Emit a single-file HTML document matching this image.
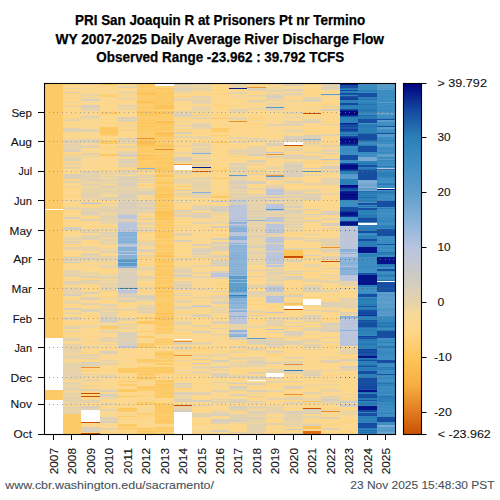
<!DOCTYPE html><html><head><meta charset="utf-8"><style>html,body{margin:0;padding:0;background:#fff;width:500px;height:500px;overflow:hidden}svg{display:block}text{font-family:"Liberation Sans",sans-serif}</style></head><body>
<svg width="500" height="500" viewBox="0 0 500 500">
<rect width="500" height="500" fill="#fff"/>
<g font-weight="bold" font-size="14.6" text-anchor="middle" fill="#000" stroke="#000" stroke-width="0.25">
<text x="220.1" y="24.5" textLength="290" lengthAdjust="spacingAndGlyphs">PRI San Joaquin R at Prisoners Pt nr Termino</text>
<text x="219.8" y="43.7" textLength="328.5" lengthAdjust="spacingAndGlyphs">WY 2007-2025 Daily Average River Discharge Flow</text>
<text x="220.3" y="62.4" textLength="248" lengthAdjust="spacingAndGlyphs">Observed Range -23.962 : 39.792 TCFS</text>
</g>
<g shape-rendering="crispEdges">
<path fill="#fdca68" d="M44.5 83h18.5v126h-18.5zM44.5 210h18.5v128h-18.5zM44.5 390h18.5v10h-18.5zM63.0 414h18.4v20h-18.4zM99.8 130h18.5v1h-18.5zM99.8 133h18.5v2h-18.5zM99.8 143h18.5v1h-18.5zM99.8 326h18.5v3h-18.5zM118.3 368h18.5v1h-18.5zM118.3 370h18.5v1h-18.5zM118.3 381h18.5v1h-18.5zM118.3 385h18.5v1h-18.5zM118.3 391h18.5v1h-18.5zM118.3 416h18.5v1h-18.5zM118.3 424h18.5v1h-18.5zM136.8 86h18.4v1h-18.4zM136.8 91h18.4v1h-18.4zM136.8 95h18.4v1h-18.4zM136.8 97h18.4v1h-18.4zM136.8 100h18.4v1h-18.4zM136.8 103h18.4v1h-18.4zM136.8 107h18.4v1h-18.4zM136.8 119h18.4v1h-18.4zM136.8 124h18.4v2h-18.4zM136.8 134h18.4v1h-18.4zM136.8 136h18.4v1h-18.4zM136.8 140h18.4v1h-18.4zM136.8 146h18.4v1h-18.4zM136.8 149h18.4v1h-18.4zM136.8 151h18.4v2h-18.4zM136.8 154h18.4v1h-18.4zM136.8 156h18.4v1h-18.4zM136.8 163h18.4v1h-18.4zM136.8 167h18.4v1h-18.4zM136.8 322h18.4v1h-18.4zM136.8 337h18.4v1h-18.4zM136.8 345h18.4v1h-18.4zM136.8 359h18.4v1h-18.4zM136.8 367h18.4v1h-18.4zM136.8 370h18.4v1h-18.4zM136.8 374h18.4v1h-18.4zM136.8 379h18.4v1h-18.4zM136.8 388h18.4v1h-18.4zM136.8 390h18.4v1h-18.4zM136.8 402h18.4v3h-18.4zM136.8 413h18.4v1h-18.4zM155.2 86h18.5v1h-18.5zM155.2 89h18.5v1h-18.5zM155.2 91h18.5v2h-18.5zM155.2 95h18.5v1h-18.5zM155.2 98h18.5v1h-18.5zM155.2 100h18.5v1h-18.5zM155.2 102h18.5v1h-18.5zM155.2 127h18.5v1h-18.5zM155.2 150h18.5v1h-18.5zM155.2 152h18.5v1h-18.5zM155.2 157h18.5v1h-18.5zM155.2 159h18.5v1h-18.5zM155.2 161h18.5v1h-18.5zM155.2 163h18.5v2h-18.5zM155.2 171h18.5v1h-18.5zM155.2 179h18.5v1h-18.5zM155.2 187h18.5v1h-18.5zM155.2 190h18.5v1h-18.5zM155.2 192h18.5v1h-18.5zM155.2 199h18.5v1h-18.5zM155.2 202h18.5v1h-18.5zM155.2 209h18.5v2h-18.5zM155.2 222h18.5v1h-18.5zM155.2 224h18.5v1h-18.5zM155.2 227h18.5v1h-18.5zM155.2 232h18.5v2h-18.5zM155.2 235h18.5v1h-18.5zM155.2 240h18.5v1h-18.5zM155.2 245h18.5v1h-18.5zM155.2 247h18.5v1h-18.5zM155.2 249h18.5v1h-18.5zM155.2 252h18.5v1h-18.5zM155.2 254h18.5v1h-18.5zM155.2 259h18.5v2h-18.5zM155.2 269h18.5v1h-18.5zM155.2 273h18.5v1h-18.5zM155.2 280h18.5v3h-18.5zM155.2 290h18.5v1h-18.5zM155.2 294h18.5v1h-18.5zM155.2 296h18.5v3h-18.5zM155.2 301h18.5v1h-18.5zM155.2 303h18.5v1h-18.5zM155.2 306h18.5v1h-18.5zM155.2 311h18.5v1h-18.5zM155.2 315h18.5v1h-18.5zM155.2 320h18.5v1h-18.5zM155.2 322h18.5v1h-18.5zM155.2 324h18.5v1h-18.5zM155.2 328h18.5v2h-18.5zM155.2 339h18.5v1h-18.5zM155.2 341h18.5v2h-18.5zM155.2 352h18.5v1h-18.5zM155.2 363h18.5v1h-18.5zM155.2 368h18.5v3h-18.5zM155.2 372h18.5v1h-18.5zM155.2 382h18.5v1h-18.5zM155.2 393h18.5v2h-18.5zM155.2 404h18.5v2h-18.5zM155.2 409h18.5v2h-18.5zM155.2 412h18.5v2h-18.5zM155.2 416h18.5v3h-18.5zM155.2 420h18.5v1h-18.5zM155.2 422h18.5v1h-18.5zM155.2 427h18.5v1h-18.5zM155.2 431h18.5v1h-18.5zM210.5 128h18.5v2h-18.5zM210.5 178h18.5v1h-18.5zM210.5 197h18.5v1h-18.5z"/>
<path fill="#ffffff" d="M44.5 209h18.5v1h-18.5zM44.5 338h18.5v52h-18.5zM44.5 400h18.5v34h-18.5zM81.4 410h18.4v12h-18.4zM155.2 84h18.5v2h-18.5zM173.7 165h18.4v5h-18.4zM173.7 339h18.4v1h-18.4zM173.7 412h18.4v22h-18.4zM247.4 380h18.5v1h-18.5zM265.9 373h18.5v4h-18.5zM284.4 142h18.4v3h-18.4zM284.4 306h18.4v3h-18.4zM302.8 299h18.4v6h-18.4zM358.1 223h18.5v2h-18.5zM376.6 188h18.5v1h-18.5zM376.6 281h18.5v1h-18.5z"/>
<path fill="#fcd78c" d="M63.0 83h18.4v1h-18.4zM63.0 86h18.4v1h-18.4zM63.0 97h18.4v1h-18.4zM63.0 100h18.4v1h-18.4zM63.0 103h18.4v1h-18.4zM63.0 115h18.4v2h-18.4zM63.0 126h18.4v1h-18.4zM63.0 132h18.4v1h-18.4zM63.0 134h18.4v1h-18.4zM63.0 138h18.4v1h-18.4zM63.0 152h18.4v1h-18.4zM63.0 173h18.4v1h-18.4zM63.0 179h18.4v1h-18.4zM63.0 189h18.4v1h-18.4zM63.0 191h18.4v1h-18.4zM63.0 193h18.4v1h-18.4zM63.0 197h18.4v1h-18.4zM63.0 199h18.4v1h-18.4zM63.0 201h18.4v1h-18.4zM63.0 212h18.4v1h-18.4zM63.0 230h18.4v1h-18.4zM63.0 245h18.4v1h-18.4zM63.0 250h18.4v2h-18.4zM63.0 264h18.4v1h-18.4zM63.0 267h18.4v1h-18.4zM63.0 285h18.4v1h-18.4zM63.0 305h18.4v1h-18.4zM63.0 315h18.4v1h-18.4zM63.0 325h18.4v1h-18.4zM63.0 329h18.4v2h-18.4zM63.0 332h18.4v1h-18.4zM81.4 113h18.4v1h-18.4zM81.4 125h18.4v2h-18.4zM81.4 143h18.4v1h-18.4zM81.4 150h18.4v1h-18.4zM81.4 165h18.4v1h-18.4zM81.4 170h18.4v1h-18.4zM81.4 216h18.4v1h-18.4zM81.4 221h18.4v1h-18.4zM81.4 223h18.4v1h-18.4zM81.4 225h18.4v1h-18.4zM81.4 227h18.4v2h-18.4zM81.4 242h18.4v1h-18.4zM81.4 263h18.4v1h-18.4zM81.4 269h18.4v1h-18.4zM81.4 278h18.4v1h-18.4zM81.4 285h18.4v1h-18.4zM81.4 287h18.4v1h-18.4zM81.4 294h18.4v1h-18.4zM81.4 305h18.4v1h-18.4zM81.4 307h18.4v1h-18.4zM81.4 317h18.4v3h-18.4zM81.4 324h18.4v1h-18.4zM81.4 328h18.4v1h-18.4zM81.4 332h18.4v1h-18.4zM81.4 340h18.4v1h-18.4zM81.4 342h18.4v1h-18.4zM81.4 345h18.4v1h-18.4zM81.4 349h18.4v4h-18.4zM81.4 361h18.4v1h-18.4zM81.4 368h18.4v1h-18.4zM81.4 377h18.4v1h-18.4zM81.4 384h18.4v1h-18.4zM81.4 394h18.4v1h-18.4zM81.4 397h18.4v1h-18.4zM81.4 403h18.4v3h-18.4zM81.4 424h18.4v3h-18.4zM81.4 432h18.4v1h-18.4zM99.8 87h18.5v2h-18.5zM99.8 99h18.5v1h-18.5zM99.8 103h18.5v1h-18.5zM99.8 118h18.5v1h-18.5zM99.8 126h18.5v1h-18.5zM99.8 136h18.5v2h-18.5zM99.8 150h18.5v1h-18.5zM99.8 156h18.5v1h-18.5zM99.8 159h18.5v2h-18.5zM99.8 167h18.5v1h-18.5zM99.8 169h18.5v1h-18.5zM99.8 227h18.5v1h-18.5zM99.8 231h18.5v1h-18.5zM99.8 246h18.5v2h-18.5zM99.8 254h18.5v2h-18.5zM99.8 271h18.5v1h-18.5zM99.8 295h18.5v1h-18.5zM99.8 297h18.5v1h-18.5zM99.8 299h18.5v1h-18.5zM99.8 301h18.5v1h-18.5zM99.8 329h18.5v1h-18.5zM99.8 347h18.5v2h-18.5zM99.8 365h18.5v1h-18.5zM99.8 368h18.5v1h-18.5zM99.8 372h18.5v1h-18.5zM99.8 379h18.5v1h-18.5zM99.8 400h18.5v1h-18.5zM99.8 407h18.5v1h-18.5zM99.8 426h18.5v1h-18.5zM99.8 432h18.5v1h-18.5zM118.3 88h18.5v1h-18.5zM118.3 95h18.5v1h-18.5zM118.3 97h18.5v1h-18.5zM118.3 101h18.5v1h-18.5zM118.3 103h18.5v2h-18.5zM118.3 114h18.5v1h-18.5zM118.3 116h18.5v1h-18.5zM118.3 144h18.5v1h-18.5zM118.3 158h18.5v1h-18.5zM118.3 304h18.5v1h-18.5zM118.3 312h18.5v1h-18.5zM118.3 322h18.5v1h-18.5zM118.3 350h18.5v4h-18.5zM118.3 355h18.5v1h-18.5zM118.3 357h18.5v2h-18.5zM118.3 363h18.5v1h-18.5zM118.3 375h18.5v2h-18.5zM118.3 378h18.5v1h-18.5zM118.3 380h18.5v1h-18.5zM118.3 393h18.5v3h-18.5zM118.3 401h18.5v1h-18.5zM118.3 403h18.5v1h-18.5zM118.3 421h18.5v1h-18.5zM118.3 430h18.5v1h-18.5zM118.3 432h18.5v1h-18.5zM136.8 172h18.4v1h-18.4zM136.8 186h18.4v1h-18.4zM136.8 205h18.4v1h-18.4zM136.8 235h18.4v1h-18.4zM136.8 238h18.4v1h-18.4zM136.8 247h18.4v1h-18.4zM136.8 273h18.4v1h-18.4zM136.8 283h18.4v1h-18.4zM136.8 286h18.4v1h-18.4zM136.8 302h18.4v2h-18.4zM136.8 315h18.4v2h-18.4zM136.8 319h18.4v1h-18.4zM136.8 324h18.4v1h-18.4zM136.8 326h18.4v1h-18.4zM136.8 332h18.4v3h-18.4zM136.8 351h18.4v4h-18.4zM136.8 364h18.4v1h-18.4zM136.8 393h18.4v1h-18.4zM136.8 418h18.4v3h-18.4zM155.2 336h18.5v1h-18.5zM155.2 362h18.5v1h-18.5zM155.2 365h18.5v1h-18.5zM155.2 379h18.5v1h-18.5zM155.2 399h18.5v1h-18.5zM155.2 401h18.5v1h-18.5zM173.7 93h18.4v1h-18.4zM173.7 95h18.4v1h-18.4zM173.7 101h18.4v1h-18.4zM173.7 104h18.4v1h-18.4zM173.7 106h18.4v1h-18.4zM173.7 117h18.4v1h-18.4zM173.7 130h18.4v1h-18.4zM173.7 134h18.4v1h-18.4zM173.7 138h18.4v1h-18.4zM173.7 142h18.4v1h-18.4zM173.7 148h18.4v1h-18.4zM173.7 170h18.4v1h-18.4zM173.7 176h18.4v1h-18.4zM173.7 184h18.4v1h-18.4zM173.7 187h18.4v1h-18.4zM173.7 218h18.4v1h-18.4zM173.7 221h18.4v1h-18.4zM173.7 230h18.4v1h-18.4zM173.7 248h18.4v2h-18.4zM173.7 265h18.4v1h-18.4zM173.7 280h18.4v1h-18.4zM173.7 291h18.4v1h-18.4zM173.7 294h18.4v1h-18.4zM173.7 313h18.4v1h-18.4zM173.7 317h18.4v1h-18.4zM173.7 327h18.4v1h-18.4zM173.7 332h18.4v1h-18.4zM173.7 335h18.4v1h-18.4zM173.7 357h18.4v3h-18.4zM173.7 362h18.4v1h-18.4zM173.7 367h18.4v1h-18.4zM173.7 371h18.4v1h-18.4zM173.7 380h18.4v1h-18.4zM192.1 83h18.4v1h-18.4zM192.1 91h18.4v1h-18.4zM192.1 113h18.4v1h-18.4zM192.1 116h18.4v1h-18.4zM192.1 119h18.4v2h-18.4zM192.1 135h18.4v1h-18.4zM192.1 170h18.4v1h-18.4zM192.1 174h18.4v1h-18.4zM192.1 176h18.4v1h-18.4zM192.1 229h18.4v1h-18.4zM192.1 233h18.4v1h-18.4zM192.1 235h18.4v2h-18.4zM192.1 243h18.4v1h-18.4zM192.1 259h18.4v1h-18.4zM192.1 261h18.4v1h-18.4zM192.1 271h18.4v1h-18.4zM192.1 274h18.4v1h-18.4zM192.1 296h18.4v1h-18.4zM192.1 317h18.4v2h-18.4zM192.1 320h18.4v2h-18.4zM192.1 330h18.4v1h-18.4zM192.1 335h18.4v1h-18.4zM192.1 337h18.4v1h-18.4zM192.1 340h18.4v1h-18.4zM192.1 347h18.4v1h-18.4zM192.1 362h18.4v1h-18.4zM192.1 369h18.4v1h-18.4zM192.1 374h18.4v1h-18.4zM192.1 381h18.4v1h-18.4zM192.1 384h18.4v1h-18.4zM192.1 387h18.4v3h-18.4zM192.1 397h18.4v1h-18.4zM192.1 402h18.4v1h-18.4zM192.1 409h18.4v1h-18.4zM192.1 411h18.4v1h-18.4zM192.1 419h18.4v1h-18.4zM192.1 430h18.4v1h-18.4zM210.5 86h18.5v1h-18.5zM210.5 92h18.5v1h-18.5zM210.5 99h18.5v1h-18.5zM210.5 101h18.5v1h-18.5zM210.5 104h18.5v1h-18.5zM210.5 109h18.5v2h-18.5zM210.5 113h18.5v1h-18.5zM210.5 119h18.5v2h-18.5zM210.5 122h18.5v1h-18.5zM210.5 125h18.5v1h-18.5zM210.5 132h18.5v1h-18.5zM210.5 137h18.5v1h-18.5zM210.5 139h18.5v3h-18.5zM210.5 155h18.5v1h-18.5zM210.5 157h18.5v2h-18.5zM210.5 162h18.5v1h-18.5zM210.5 165h18.5v1h-18.5zM210.5 181h18.5v1h-18.5zM210.5 183h18.5v1h-18.5zM210.5 190h18.5v1h-18.5zM210.5 220h18.5v1h-18.5zM210.5 225h18.5v1h-18.5zM210.5 231h18.5v1h-18.5zM210.5 240h18.5v1h-18.5zM210.5 254h18.5v1h-18.5zM210.5 258h18.5v1h-18.5zM210.5 285h18.5v2h-18.5zM210.5 292h18.5v2h-18.5zM210.5 339h18.5v1h-18.5zM210.5 342h18.5v1h-18.5zM210.5 378h18.5v1h-18.5zM210.5 383h18.5v1h-18.5zM210.5 416h18.5v1h-18.5zM229.0 90h18.4v1h-18.4zM229.0 98h18.4v1h-18.4zM229.0 101h18.4v2h-18.4zM229.0 120h18.4v1h-18.4zM229.0 127h18.4v1h-18.4zM229.0 130h18.4v1h-18.4zM229.0 135h18.4v2h-18.4zM229.0 139h18.4v1h-18.4zM229.0 148h18.4v1h-18.4zM229.0 158h18.4v1h-18.4zM229.0 160h18.4v1h-18.4zM229.0 162h18.4v1h-18.4zM229.0 341h18.4v2h-18.4zM229.0 344h18.4v2h-18.4zM229.0 367h18.4v3h-18.4zM229.0 392h18.4v2h-18.4zM229.0 396h18.4v2h-18.4zM229.0 404h18.4v1h-18.4zM229.0 412h18.4v1h-18.4zM229.0 422h18.4v1h-18.4zM229.0 427h18.4v1h-18.4zM229.0 433h18.4v1h-18.4zM247.4 93h18.5v1h-18.5zM247.4 99h18.5v1h-18.5zM247.4 103h18.5v1h-18.5zM247.4 115h18.5v2h-18.5zM247.4 122h18.5v1h-18.5zM247.4 125h18.5v1h-18.5zM247.4 128h18.5v2h-18.5zM247.4 131h18.5v2h-18.5zM247.4 136h18.5v1h-18.5zM247.4 143h18.5v1h-18.5zM247.4 156h18.5v4h-18.5zM247.4 172h18.5v1h-18.5zM247.4 177h18.5v1h-18.5zM247.4 187h18.5v1h-18.5zM247.4 191h18.5v1h-18.5zM247.4 266h18.5v2h-18.5zM247.4 269h18.5v1h-18.5zM247.4 279h18.5v1h-18.5zM247.4 297h18.5v3h-18.5zM247.4 301h18.5v1h-18.5zM247.4 307h18.5v2h-18.5zM247.4 318h18.5v2h-18.5zM247.4 324h18.5v1h-18.5zM247.4 328h18.5v1h-18.5zM247.4 331h18.5v1h-18.5zM247.4 346h18.5v2h-18.5zM247.4 352h18.5v1h-18.5zM247.4 374h18.5v1h-18.5zM247.4 385h18.5v1h-18.5zM247.4 388h18.5v1h-18.5zM247.4 400h18.5v1h-18.5zM247.4 405h18.5v1h-18.5zM265.9 113h18.5v1h-18.5zM265.9 128h18.5v1h-18.5zM265.9 134h18.5v1h-18.5zM265.9 147h18.5v1h-18.5zM265.9 151h18.5v1h-18.5zM265.9 159h18.5v1h-18.5zM265.9 181h18.5v1h-18.5zM265.9 308h18.5v1h-18.5zM265.9 335h18.5v1h-18.5zM265.9 347h18.5v1h-18.5zM265.9 349h18.5v1h-18.5zM265.9 353h18.5v1h-18.5zM265.9 355h18.5v1h-18.5zM265.9 366h18.5v2h-18.5zM265.9 379h18.5v1h-18.5zM265.9 403h18.5v2h-18.5zM265.9 414h18.5v1h-18.5zM265.9 425h18.5v3h-18.5zM265.9 432h18.5v1h-18.5zM284.4 106h18.4v1h-18.4zM284.4 128h18.4v1h-18.4zM284.4 134h18.4v1h-18.4zM284.4 152h18.4v1h-18.4zM284.4 159h18.4v1h-18.4zM284.4 185h18.4v3h-18.4zM284.4 232h18.4v1h-18.4zM284.4 234h18.4v3h-18.4zM284.4 243h18.4v1h-18.4zM284.4 258h18.4v1h-18.4zM284.4 262h18.4v1h-18.4zM284.4 266h18.4v1h-18.4zM284.4 280h18.4v1h-18.4zM284.4 282h18.4v2h-18.4zM284.4 286h18.4v1h-18.4zM284.4 288h18.4v1h-18.4zM284.4 298h18.4v1h-18.4zM284.4 310h18.4v1h-18.4zM284.4 313h18.4v2h-18.4zM284.4 329h18.4v1h-18.4zM284.4 339h18.4v1h-18.4zM284.4 346h18.4v1h-18.4zM284.4 348h18.4v1h-18.4zM284.4 351h18.4v1h-18.4zM284.4 355h18.4v1h-18.4zM284.4 359h18.4v1h-18.4zM284.4 367h18.4v1h-18.4zM284.4 369h18.4v1h-18.4zM284.4 378h18.4v1h-18.4zM284.4 404h18.4v1h-18.4zM284.4 427h18.4v1h-18.4zM284.4 430h18.4v1h-18.4zM302.8 86h18.4v1h-18.4zM302.8 90h18.4v2h-18.4zM302.8 103h18.4v1h-18.4zM302.8 106h18.4v1h-18.4zM302.8 109h18.4v1h-18.4zM302.8 112h18.4v1h-18.4zM302.8 116h18.4v1h-18.4zM302.8 123h18.4v1h-18.4zM302.8 126h18.4v2h-18.4zM302.8 129h18.4v1h-18.4zM302.8 154h18.4v1h-18.4zM302.8 165h18.4v1h-18.4zM302.8 176h18.4v2h-18.4zM302.8 181h18.4v1h-18.4zM302.8 186h18.4v1h-18.4zM302.8 201h18.4v1h-18.4zM302.8 205h18.4v3h-18.4zM302.8 224h18.4v1h-18.4zM302.8 226h18.4v1h-18.4zM302.8 233h18.4v1h-18.4zM302.8 245h18.4v1h-18.4zM302.8 247h18.4v1h-18.4zM302.8 250h18.4v1h-18.4zM302.8 257h18.4v1h-18.4zM302.8 270h18.4v1h-18.4zM302.8 278h18.4v1h-18.4zM302.8 294h18.4v2h-18.4zM302.8 306h18.4v1h-18.4zM302.8 325h18.4v1h-18.4zM302.8 331h18.4v2h-18.4zM302.8 334h18.4v4h-18.4zM302.8 354h18.4v1h-18.4zM302.8 359h18.4v1h-18.4zM302.8 390h18.4v2h-18.4zM302.8 395h18.4v2h-18.4zM302.8 405h18.4v1h-18.4zM302.8 407h18.4v1h-18.4zM302.8 414h18.4v1h-18.4zM321.2 93h18.5v1h-18.5zM321.2 101h18.5v2h-18.5zM321.2 111h18.5v4h-18.5zM321.2 117h18.5v2h-18.5zM321.2 120h18.5v1h-18.5zM321.2 126h18.5v1h-18.5zM321.2 129h18.5v2h-18.5zM321.2 132h18.5v1h-18.5zM321.2 136h18.5v1h-18.5zM321.2 155h18.5v1h-18.5zM321.2 161h18.5v1h-18.5zM321.2 163h18.5v2h-18.5zM321.2 174h18.5v2h-18.5zM321.2 191h18.5v1h-18.5zM321.2 196h18.5v1h-18.5zM321.2 205h18.5v1h-18.5zM321.2 207h18.5v1h-18.5zM321.2 210h18.5v1h-18.5zM321.2 217h18.5v1h-18.5zM321.2 230h18.5v1h-18.5zM321.2 232h18.5v1h-18.5zM321.2 234h18.5v1h-18.5zM321.2 246h18.5v1h-18.5zM321.2 266h18.5v1h-18.5zM321.2 270h18.5v1h-18.5zM321.2 283h18.5v1h-18.5zM321.2 289h18.5v1h-18.5zM321.2 298h18.5v1h-18.5zM321.2 312h18.5v1h-18.5zM321.2 332h18.5v1h-18.5zM321.2 343h18.5v1h-18.5zM321.2 349h18.5v2h-18.5zM321.2 352h18.5v1h-18.5zM321.2 356h18.5v1h-18.5zM321.2 363h18.5v3h-18.5zM321.2 367h18.5v2h-18.5zM321.2 374h18.5v1h-18.5zM321.2 383h18.5v1h-18.5zM321.2 387h18.5v1h-18.5zM321.2 392h18.5v2h-18.5zM321.2 406h18.5v1h-18.5zM321.2 416h18.5v1h-18.5zM321.2 421h18.5v2h-18.5zM321.2 424h18.5v1h-18.5zM321.2 430h18.5v1h-18.5zM321.2 433h18.5v1h-18.5zM339.7 287h18.4v1h-18.4zM339.7 293h18.4v2h-18.4zM339.7 311h18.4v1h-18.4zM339.7 356h18.4v1h-18.4zM339.7 376h18.4v2h-18.4zM339.7 380h18.4v1h-18.4zM339.7 386h18.4v1h-18.4zM339.7 389h18.4v1h-18.4zM339.7 395h18.4v2h-18.4zM339.7 408h18.4v1h-18.4zM339.7 419h18.4v1h-18.4zM339.7 421h18.4v1h-18.4zM339.7 426h18.4v3h-18.4zM339.7 432h18.4v1h-18.4z"/>
<path fill="#fdd27c" d="M63.0 84h18.4v1h-18.4zM99.8 226h18.5v1h-18.5zM136.8 395h18.4v1h-18.4zM155.2 177h18.5v2h-18.5zM155.2 180h18.5v1h-18.5zM155.2 347h18.5v1h-18.5zM155.2 359h18.5v1h-18.5zM173.7 96h18.4v1h-18.4zM173.7 131h18.4v1h-18.4zM173.7 186h18.4v1h-18.4zM173.7 222h18.4v1h-18.4zM192.1 114h18.4v1h-18.4zM192.1 161h18.4v1h-18.4zM192.1 348h18.4v1h-18.4zM247.4 169h18.5v1h-18.5zM247.4 173h18.5v1h-18.5zM247.4 313h18.5v1h-18.5zM284.4 294h18.4v1h-18.4zM302.8 161h18.4v1h-18.4zM302.8 404h18.4v1h-18.4zM321.2 160h18.5v1h-18.5zM321.2 425h18.5v1h-18.5zM339.7 422h18.4v1h-18.4z"/>
<path fill="#fbd78f" d="M63.0 85h18.4v1h-18.4zM63.0 95h18.4v1h-18.4zM63.0 113h18.4v1h-18.4zM63.0 121h18.4v1h-18.4zM63.0 127h18.4v1h-18.4zM63.0 136h18.4v1h-18.4zM63.0 161h18.4v1h-18.4zM63.0 172h18.4v1h-18.4zM63.0 190h18.4v1h-18.4zM63.0 198h18.4v1h-18.4zM63.0 204h18.4v1h-18.4zM63.0 210h18.4v1h-18.4zM63.0 215h18.4v2h-18.4zM63.0 219h18.4v2h-18.4zM63.0 222h18.4v1h-18.4zM63.0 224h18.4v1h-18.4zM63.0 226h18.4v1h-18.4zM63.0 231h18.4v1h-18.4zM63.0 234h18.4v1h-18.4zM63.0 268h18.4v1h-18.4zM63.0 278h18.4v2h-18.4zM63.0 310h18.4v1h-18.4zM63.0 316h18.4v1h-18.4zM63.0 320h18.4v1h-18.4zM63.0 335h18.4v1h-18.4zM63.0 337h18.4v1h-18.4zM63.0 342h18.4v1h-18.4zM63.0 359h18.4v1h-18.4zM81.4 85h18.4v1h-18.4zM81.4 89h18.4v1h-18.4zM81.4 102h18.4v2h-18.4zM81.4 115h18.4v1h-18.4zM81.4 134h18.4v1h-18.4zM81.4 152h18.4v1h-18.4zM81.4 162h18.4v1h-18.4zM81.4 167h18.4v1h-18.4zM81.4 169h18.4v1h-18.4zM81.4 200h18.4v1h-18.4zM81.4 207h18.4v1h-18.4zM81.4 222h18.4v1h-18.4zM81.4 243h18.4v1h-18.4zM81.4 264h18.4v1h-18.4zM81.4 271h18.4v1h-18.4zM81.4 284h18.4v1h-18.4zM81.4 290h18.4v2h-18.4zM81.4 295h18.4v1h-18.4zM81.4 300h18.4v2h-18.4zM81.4 314h18.4v1h-18.4zM81.4 321h18.4v1h-18.4zM81.4 323h18.4v1h-18.4zM81.4 329h18.4v1h-18.4zM81.4 333h18.4v1h-18.4zM81.4 337h18.4v1h-18.4zM81.4 359h18.4v1h-18.4zM81.4 372h18.4v1h-18.4zM81.4 387h18.4v1h-18.4zM81.4 423h18.4v1h-18.4zM99.8 86h18.5v1h-18.5zM99.8 93h18.5v1h-18.5zM99.8 98h18.5v1h-18.5zM99.8 100h18.5v1h-18.5zM99.8 107h18.5v1h-18.5zM99.8 109h18.5v1h-18.5zM99.8 116h18.5v1h-18.5zM99.8 121h18.5v1h-18.5zM99.8 151h18.5v1h-18.5zM99.8 158h18.5v1h-18.5zM99.8 184h18.5v1h-18.5zM99.8 200h18.5v3h-18.5zM99.8 204h18.5v1h-18.5zM99.8 294h18.5v1h-18.5zM99.8 335h18.5v1h-18.5zM99.8 342h18.5v2h-18.5zM99.8 346h18.5v1h-18.5zM99.8 349h18.5v1h-18.5zM99.8 356h18.5v1h-18.5zM99.8 366h18.5v1h-18.5zM99.8 370h18.5v2h-18.5zM99.8 385h18.5v2h-18.5zM99.8 389h18.5v1h-18.5zM99.8 392h18.5v1h-18.5zM99.8 401h18.5v1h-18.5zM99.8 406h18.5v1h-18.5zM99.8 413h18.5v1h-18.5zM99.8 423h18.5v3h-18.5zM99.8 427h18.5v1h-18.5zM99.8 430h18.5v1h-18.5zM99.8 433h18.5v1h-18.5zM118.3 85h18.5v1h-18.5zM118.3 102h18.5v1h-18.5zM118.3 111h18.5v1h-18.5zM118.3 115h18.5v1h-18.5zM118.3 124h18.5v1h-18.5zM118.3 127h18.5v2h-18.5zM118.3 136h18.5v1h-18.5zM118.3 168h18.5v1h-18.5zM118.3 306h18.5v1h-18.5zM118.3 321h18.5v1h-18.5zM118.3 323h18.5v1h-18.5zM118.3 348h18.5v1h-18.5zM118.3 361h18.5v2h-18.5zM118.3 364h18.5v1h-18.5zM118.3 366h18.5v1h-18.5zM118.3 374h18.5v1h-18.5zM118.3 377h18.5v1h-18.5zM118.3 382h18.5v1h-18.5zM118.3 397h18.5v1h-18.5zM118.3 399h18.5v1h-18.5zM118.3 413h18.5v1h-18.5zM118.3 415h18.5v1h-18.5zM118.3 417h18.5v1h-18.5zM118.3 422h18.5v1h-18.5zM136.8 173h18.4v2h-18.4zM136.8 178h18.4v1h-18.4zM136.8 196h18.4v1h-18.4zM136.8 199h18.4v1h-18.4zM136.8 213h18.4v2h-18.4zM136.8 221h18.4v1h-18.4zM136.8 225h18.4v1h-18.4zM136.8 248h18.4v1h-18.4zM136.8 252h18.4v3h-18.4zM136.8 261h18.4v1h-18.4zM136.8 263h18.4v1h-18.4zM136.8 272h18.4v1h-18.4zM136.8 290h18.4v1h-18.4zM136.8 293h18.4v1h-18.4zM136.8 304h18.4v1h-18.4zM136.8 328h18.4v1h-18.4zM136.8 330h18.4v1h-18.4zM136.8 335h18.4v1h-18.4zM136.8 338h18.4v3h-18.4zM136.8 356h18.4v3h-18.4zM136.8 394h18.4v1h-18.4zM136.8 397h18.4v1h-18.4zM136.8 399h18.4v1h-18.4zM136.8 408h18.4v1h-18.4zM136.8 411h18.4v1h-18.4zM136.8 421h18.4v1h-18.4zM136.8 427h18.4v1h-18.4zM155.2 337h18.5v1h-18.5zM155.2 346h18.5v1h-18.5zM155.2 348h18.5v1h-18.5zM155.2 374h18.5v1h-18.5zM155.2 376h18.5v1h-18.5zM155.2 424h18.5v1h-18.5zM173.7 97h18.4v1h-18.4zM173.7 107h18.4v1h-18.4zM173.7 109h18.4v1h-18.4zM173.7 124h18.4v1h-18.4zM173.7 127h18.4v1h-18.4zM173.7 140h18.4v1h-18.4zM173.7 143h18.4v2h-18.4zM173.7 150h18.4v2h-18.4zM173.7 154h18.4v1h-18.4zM173.7 156h18.4v1h-18.4zM173.7 163h18.4v1h-18.4zM173.7 185h18.4v1h-18.4zM173.7 188h18.4v1h-18.4zM173.7 191h18.4v1h-18.4zM173.7 198h18.4v1h-18.4zM173.7 203h18.4v1h-18.4zM173.7 205h18.4v2h-18.4zM173.7 219h18.4v1h-18.4zM173.7 223h18.4v1h-18.4zM173.7 227h18.4v1h-18.4zM173.7 229h18.4v1h-18.4zM173.7 232h18.4v1h-18.4zM173.7 237h18.4v1h-18.4zM173.7 239h18.4v1h-18.4zM173.7 244h18.4v1h-18.4zM173.7 246h18.4v1h-18.4zM173.7 250h18.4v1h-18.4zM173.7 253h18.4v1h-18.4zM173.7 261h18.4v3h-18.4zM173.7 266h18.4v1h-18.4zM173.7 292h18.4v1h-18.4zM173.7 326h18.4v1h-18.4zM173.7 336h18.4v2h-18.4zM173.7 345h18.4v1h-18.4zM173.7 352h18.4v1h-18.4zM173.7 365h18.4v1h-18.4zM173.7 368h18.4v1h-18.4zM173.7 374h18.4v1h-18.4zM173.7 404h18.4v1h-18.4zM192.1 93h18.4v1h-18.4zM192.1 105h18.4v1h-18.4zM192.1 140h18.4v1h-18.4zM192.1 155h18.4v1h-18.4zM192.1 162h18.4v1h-18.4zM192.1 175h18.4v1h-18.4zM192.1 198h18.4v1h-18.4zM192.1 204h18.4v1h-18.4zM192.1 212h18.4v1h-18.4zM192.1 221h18.4v1h-18.4zM192.1 224h18.4v1h-18.4zM192.1 226h18.4v1h-18.4zM192.1 228h18.4v1h-18.4zM192.1 246h18.4v1h-18.4zM192.1 267h18.4v1h-18.4zM192.1 281h18.4v1h-18.4zM192.1 283h18.4v2h-18.4zM192.1 294h18.4v1h-18.4zM192.1 299h18.4v2h-18.4zM192.1 302h18.4v1h-18.4zM192.1 304h18.4v1h-18.4zM192.1 307h18.4v1h-18.4zM192.1 311h18.4v1h-18.4zM192.1 339h18.4v1h-18.4zM192.1 353h18.4v1h-18.4zM192.1 376h18.4v3h-18.4zM192.1 380h18.4v1h-18.4zM192.1 391h18.4v1h-18.4zM192.1 395h18.4v1h-18.4zM192.1 420h18.4v2h-18.4zM192.1 429h18.4v1h-18.4zM192.1 433h18.4v1h-18.4zM210.5 93h18.5v1h-18.5zM210.5 95h18.5v1h-18.5zM210.5 100h18.5v1h-18.5zM210.5 103h18.5v1h-18.5zM210.5 121h18.5v1h-18.5zM210.5 126h18.5v1h-18.5zM210.5 156h18.5v1h-18.5zM210.5 164h18.5v1h-18.5zM210.5 174h18.5v3h-18.5zM210.5 184h18.5v1h-18.5zM210.5 187h18.5v1h-18.5zM210.5 189h18.5v1h-18.5zM210.5 199h18.5v1h-18.5zM210.5 203h18.5v1h-18.5zM210.5 216h18.5v1h-18.5zM210.5 230h18.5v1h-18.5zM210.5 232h18.5v1h-18.5zM210.5 237h18.5v1h-18.5zM210.5 259h18.5v1h-18.5zM210.5 268h18.5v2h-18.5zM210.5 279h18.5v1h-18.5zM210.5 289h18.5v1h-18.5zM210.5 304h18.5v3h-18.5zM210.5 313h18.5v1h-18.5zM210.5 315h18.5v3h-18.5zM210.5 320h18.5v1h-18.5zM210.5 324h18.5v1h-18.5zM210.5 330h18.5v1h-18.5zM210.5 347h18.5v1h-18.5zM210.5 358h18.5v2h-18.5zM210.5 363h18.5v1h-18.5zM210.5 371h18.5v1h-18.5zM210.5 380h18.5v1h-18.5zM210.5 386h18.5v2h-18.5zM210.5 389h18.5v1h-18.5zM210.5 393h18.5v2h-18.5zM210.5 396h18.5v1h-18.5zM210.5 406h18.5v2h-18.5zM210.5 409h18.5v1h-18.5zM210.5 417h18.5v1h-18.5zM210.5 424h18.5v1h-18.5zM229.0 89h18.4v1h-18.4zM229.0 91h18.4v1h-18.4zM229.0 95h18.4v1h-18.4zM229.0 106h18.4v1h-18.4zM229.0 113h18.4v1h-18.4zM229.0 115h18.4v1h-18.4zM229.0 122h18.4v1h-18.4zM229.0 124h18.4v1h-18.4zM229.0 129h18.4v1h-18.4zM229.0 132h18.4v1h-18.4zM229.0 145h18.4v3h-18.4zM229.0 157h18.4v1h-18.4zM229.0 161h18.4v1h-18.4zM229.0 348h18.4v2h-18.4zM229.0 356h18.4v1h-18.4zM229.0 373h18.4v2h-18.4zM229.0 380h18.4v2h-18.4zM229.0 385h18.4v1h-18.4zM229.0 425h18.4v1h-18.4zM229.0 428h18.4v2h-18.4zM247.4 85h18.5v1h-18.5zM247.4 104h18.5v1h-18.5zM247.4 107h18.5v1h-18.5zM247.4 111h18.5v1h-18.5zM247.4 135h18.5v1h-18.5zM247.4 137h18.5v1h-18.5zM247.4 142h18.5v1h-18.5zM247.4 165h18.5v1h-18.5zM247.4 175h18.5v2h-18.5zM247.4 178h18.5v1h-18.5zM247.4 185h18.5v1h-18.5zM247.4 192h18.5v2h-18.5zM247.4 265h18.5v1h-18.5zM247.4 271h18.5v1h-18.5zM247.4 274h18.5v2h-18.5zM247.4 280h18.5v3h-18.5zM247.4 302h18.5v1h-18.5zM247.4 306h18.5v1h-18.5zM247.4 309h18.5v1h-18.5zM247.4 322h18.5v1h-18.5zM247.4 332h18.5v1h-18.5zM247.4 351h18.5v1h-18.5zM247.4 353h18.5v1h-18.5zM247.4 355h18.5v2h-18.5zM247.4 369h18.5v1h-18.5zM247.4 375h18.5v1h-18.5zM247.4 381h18.5v1h-18.5zM247.4 389h18.5v1h-18.5zM247.4 392h18.5v1h-18.5zM265.9 115h18.5v3h-18.5zM265.9 123h18.5v1h-18.5zM265.9 130h18.5v1h-18.5zM265.9 135h18.5v2h-18.5zM265.9 146h18.5v1h-18.5zM265.9 328h18.5v1h-18.5zM265.9 331h18.5v1h-18.5zM265.9 336h18.5v1h-18.5zM265.9 358h18.5v1h-18.5zM265.9 364h18.5v2h-18.5zM265.9 387h18.5v1h-18.5zM265.9 402h18.5v1h-18.5zM265.9 405h18.5v1h-18.5zM265.9 428h18.5v1h-18.5zM265.9 430h18.5v2h-18.5zM284.4 97h18.4v1h-18.4zM284.4 102h18.4v1h-18.4zM284.4 107h18.4v1h-18.4zM284.4 109h18.4v1h-18.4zM284.4 118h18.4v1h-18.4zM284.4 126h18.4v2h-18.4zM284.4 132h18.4v1h-18.4zM284.4 189h18.4v1h-18.4zM284.4 263h18.4v1h-18.4zM284.4 265h18.4v1h-18.4zM284.4 275h18.4v1h-18.4zM284.4 285h18.4v1h-18.4zM284.4 292h18.4v1h-18.4zM284.4 297h18.4v1h-18.4zM284.4 299h18.4v1h-18.4zM284.4 301h18.4v1h-18.4zM284.4 312h18.4v1h-18.4zM284.4 338h18.4v1h-18.4zM284.4 345h18.4v1h-18.4zM284.4 349h18.4v1h-18.4zM284.4 377h18.4v1h-18.4zM284.4 385h18.4v1h-18.4zM284.4 395h18.4v2h-18.4zM284.4 406h18.4v1h-18.4zM284.4 410h18.4v1h-18.4zM284.4 432h18.4v1h-18.4zM302.8 89h18.4v1h-18.4zM302.8 102h18.4v1h-18.4zM302.8 115h18.4v1h-18.4zM302.8 124h18.4v1h-18.4zM302.8 130h18.4v1h-18.4zM302.8 133h18.4v1h-18.4zM302.8 160h18.4v1h-18.4zM302.8 169h18.4v1h-18.4zM302.8 178h18.4v3h-18.4zM302.8 187h18.4v1h-18.4zM302.8 192h18.4v1h-18.4zM302.8 203h18.4v1h-18.4zM302.8 219h18.4v1h-18.4zM302.8 227h18.4v1h-18.4zM302.8 229h18.4v1h-18.4zM302.8 231h18.4v1h-18.4zM302.8 236h18.4v1h-18.4zM302.8 242h18.4v1h-18.4zM302.8 252h18.4v2h-18.4zM302.8 260h18.4v1h-18.4zM302.8 267h18.4v1h-18.4zM302.8 276h18.4v1h-18.4zM302.8 309h18.4v1h-18.4zM302.8 313h18.4v1h-18.4zM302.8 351h18.4v2h-18.4zM302.8 360h18.4v1h-18.4zM302.8 365h18.4v2h-18.4zM302.8 381h18.4v1h-18.4zM302.8 383h18.4v2h-18.4zM302.8 397h18.4v1h-18.4zM302.8 415h18.4v1h-18.4zM302.8 422h18.4v1h-18.4zM302.8 430h18.4v1h-18.4zM321.2 90h18.5v2h-18.5zM321.2 99h18.5v1h-18.5zM321.2 105h18.5v1h-18.5zM321.2 115h18.5v2h-18.5zM321.2 119h18.5v1h-18.5zM321.2 125h18.5v1h-18.5zM321.2 133h18.5v1h-18.5zM321.2 137h18.5v2h-18.5zM321.2 152h18.5v1h-18.5zM321.2 156h18.5v1h-18.5zM321.2 158h18.5v1h-18.5zM321.2 169h18.5v1h-18.5zM321.2 173h18.5v1h-18.5zM321.2 186h18.5v1h-18.5zM321.2 188h18.5v3h-18.5zM321.2 197h18.5v2h-18.5zM321.2 201h18.5v1h-18.5zM321.2 206h18.5v1h-18.5zM321.2 209h18.5v1h-18.5zM321.2 227h18.5v1h-18.5zM321.2 231h18.5v1h-18.5zM321.2 235h18.5v1h-18.5zM321.2 248h18.5v1h-18.5zM321.2 253h18.5v1h-18.5zM321.2 262h18.5v1h-18.5zM321.2 269h18.5v1h-18.5zM321.2 273h18.5v1h-18.5zM321.2 276h18.5v1h-18.5zM321.2 284h18.5v1h-18.5zM321.2 286h18.5v1h-18.5zM321.2 295h18.5v1h-18.5zM321.2 297h18.5v1h-18.5zM321.2 301h18.5v1h-18.5zM321.2 317h18.5v2h-18.5zM321.2 320h18.5v1h-18.5zM321.2 333h18.5v1h-18.5zM321.2 346h18.5v1h-18.5zM321.2 351h18.5v1h-18.5zM321.2 373h18.5v1h-18.5zM321.2 376h18.5v2h-18.5zM321.2 379h18.5v1h-18.5zM321.2 385h18.5v1h-18.5zM321.2 388h18.5v1h-18.5zM321.2 394h18.5v2h-18.5zM321.2 412h18.5v1h-18.5zM321.2 415h18.5v1h-18.5zM321.2 419h18.5v1h-18.5zM321.2 432h18.5v1h-18.5zM339.7 291h18.4v2h-18.4zM339.7 295h18.4v2h-18.4zM339.7 310h18.4v1h-18.4zM339.7 355h18.4v1h-18.4zM339.7 365h18.4v1h-18.4zM339.7 371h18.4v1h-18.4zM339.7 378h18.4v1h-18.4zM339.7 383h18.4v1h-18.4zM339.7 385h18.4v1h-18.4zM339.7 393h18.4v1h-18.4zM339.7 398h18.4v1h-18.4zM339.7 407h18.4v1h-18.4zM339.7 410h18.4v1h-18.4zM339.7 415h18.4v1h-18.4zM339.7 417h18.4v1h-18.4zM339.7 424h18.4v2h-18.4zM339.7 429h18.4v1h-18.4z"/>
<path fill="#fdd78a" d="M63.0 87h18.4v1h-18.4zM63.0 89h18.4v2h-18.4zM63.0 94h18.4v1h-18.4zM63.0 99h18.4v1h-18.4zM63.0 101h18.4v1h-18.4zM63.0 104h18.4v1h-18.4zM63.0 107h18.4v1h-18.4zM63.0 109h18.4v1h-18.4zM63.0 112h18.4v1h-18.4zM63.0 122h18.4v1h-18.4zM63.0 124h18.4v1h-18.4zM63.0 135h18.4v1h-18.4zM63.0 153h18.4v1h-18.4zM63.0 166h18.4v1h-18.4zM63.0 169h18.4v1h-18.4zM63.0 183h18.4v2h-18.4zM63.0 187h18.4v1h-18.4zM63.0 194h18.4v1h-18.4zM63.0 203h18.4v1h-18.4zM63.0 206h18.4v1h-18.4zM63.0 213h18.4v2h-18.4zM63.0 223h18.4v1h-18.4zM63.0 232h18.4v2h-18.4zM63.0 246h18.4v1h-18.4zM63.0 252h18.4v3h-18.4zM63.0 265h18.4v1h-18.4zM63.0 269h18.4v1h-18.4zM63.0 277h18.4v1h-18.4zM63.0 286h18.4v1h-18.4zM63.0 304h18.4v1h-18.4zM63.0 307h18.4v1h-18.4zM63.0 311h18.4v1h-18.4zM63.0 314h18.4v1h-18.4zM63.0 321h18.4v1h-18.4zM63.0 323h18.4v1h-18.4zM63.0 334h18.4v1h-18.4zM63.0 391h18.4v1h-18.4zM81.4 87h18.4v1h-18.4zM81.4 90h18.4v1h-18.4zM81.4 92h18.4v1h-18.4zM81.4 136h18.4v1h-18.4zM81.4 201h18.4v1h-18.4zM81.4 206h18.4v1h-18.4zM81.4 233h18.4v2h-18.4zM81.4 240h18.4v1h-18.4zM81.4 244h18.4v2h-18.4zM81.4 251h18.4v2h-18.4zM81.4 262h18.4v1h-18.4zM81.4 266h18.4v3h-18.4zM81.4 288h18.4v1h-18.4zM81.4 296h18.4v1h-18.4zM81.4 302h18.4v1h-18.4zM81.4 308h18.4v1h-18.4zM81.4 313h18.4v1h-18.4zM81.4 330h18.4v1h-18.4zM81.4 334h18.4v1h-18.4zM81.4 360h18.4v1h-18.4zM81.4 375h18.4v1h-18.4zM81.4 383h18.4v1h-18.4zM81.4 391h18.4v1h-18.4zM81.4 395h18.4v1h-18.4zM99.8 90h18.5v1h-18.5zM99.8 101h18.5v1h-18.5zM99.8 104h18.5v3h-18.5zM99.8 110h18.5v1h-18.5zM99.8 115h18.5v1h-18.5zM99.8 120h18.5v1h-18.5zM99.8 124h18.5v1h-18.5zM99.8 139h18.5v1h-18.5zM99.8 144h18.5v1h-18.5zM99.8 147h18.5v1h-18.5zM99.8 152h18.5v2h-18.5zM99.8 157h18.5v1h-18.5zM99.8 163h18.5v2h-18.5zM99.8 168h18.5v1h-18.5zM99.8 269h18.5v1h-18.5zM99.8 272h18.5v2h-18.5zM99.8 292h18.5v2h-18.5zM99.8 302h18.5v2h-18.5zM99.8 307h18.5v1h-18.5zM99.8 333h18.5v1h-18.5zM99.8 336h18.5v1h-18.5zM99.8 382h18.5v1h-18.5zM118.3 84h18.5v1h-18.5zM118.3 89h18.5v1h-18.5zM118.3 93h18.5v1h-18.5zM118.3 113h18.5v1h-18.5zM118.3 133h18.5v1h-18.5zM118.3 135h18.5v1h-18.5zM118.3 145h18.5v1h-18.5zM118.3 148h18.5v2h-18.5zM118.3 157h18.5v1h-18.5zM118.3 303h18.5v1h-18.5zM118.3 313h18.5v1h-18.5zM118.3 316h18.5v1h-18.5zM118.3 349h18.5v1h-18.5zM118.3 359h18.5v1h-18.5zM118.3 367h18.5v1h-18.5zM118.3 373h18.5v1h-18.5zM118.3 388h18.5v1h-18.5zM118.3 392h18.5v1h-18.5zM118.3 398h18.5v1h-18.5zM118.3 420h18.5v1h-18.5zM118.3 423h18.5v1h-18.5zM136.8 187h18.4v1h-18.4zM136.8 195h18.4v1h-18.4zM136.8 217h18.4v1h-18.4zM136.8 226h18.4v1h-18.4zM136.8 234h18.4v1h-18.4zM136.8 258h18.4v1h-18.4zM136.8 260h18.4v1h-18.4zM136.8 265h18.4v1h-18.4zM136.8 275h18.4v1h-18.4zM136.8 282h18.4v1h-18.4zM136.8 284h18.4v1h-18.4zM136.8 313h18.4v2h-18.4zM136.8 320h18.4v1h-18.4zM136.8 329h18.4v1h-18.4zM136.8 341h18.4v1h-18.4zM136.8 348h18.4v1h-18.4zM136.8 350h18.4v1h-18.4zM136.8 355h18.4v1h-18.4zM136.8 365h18.4v1h-18.4zM136.8 382h18.4v1h-18.4zM136.8 385h18.4v1h-18.4zM136.8 391h18.4v1h-18.4zM136.8 396h18.4v1h-18.4zM136.8 398h18.4v1h-18.4zM136.8 406h18.4v2h-18.4zM136.8 423h18.4v2h-18.4zM136.8 426h18.4v1h-18.4zM155.2 345h18.5v1h-18.5zM155.2 366h18.5v1h-18.5zM155.2 402h18.5v1h-18.5zM155.2 426h18.5v1h-18.5zM155.2 432h18.5v1h-18.5zM173.7 103h18.4v1h-18.4zM173.7 108h18.4v1h-18.4zM173.7 119h18.4v2h-18.4zM173.7 122h18.4v2h-18.4zM173.7 135h18.4v1h-18.4zM173.7 139h18.4v1h-18.4zM173.7 147h18.4v1h-18.4zM173.7 149h18.4v1h-18.4zM173.7 177h18.4v1h-18.4zM173.7 204h18.4v1h-18.4zM173.7 208h18.4v1h-18.4zM173.7 224h18.4v1h-18.4zM173.7 238h18.4v1h-18.4zM173.7 245h18.4v1h-18.4zM173.7 247h18.4v1h-18.4zM173.7 252h18.4v1h-18.4zM173.7 279h18.4v1h-18.4zM173.7 304h18.4v1h-18.4zM173.7 318h18.4v2h-18.4zM173.7 325h18.4v1h-18.4zM173.7 340h18.4v1h-18.4zM173.7 346h18.4v1h-18.4zM173.7 356h18.4v1h-18.4zM173.7 376h18.4v3h-18.4zM173.7 382h18.4v1h-18.4zM173.7 390h18.4v2h-18.4zM192.1 92h18.4v1h-18.4zM192.1 95h18.4v1h-18.4zM192.1 104h18.4v1h-18.4zM192.1 129h18.4v1h-18.4zM192.1 134h18.4v1h-18.4zM192.1 139h18.4v1h-18.4zM192.1 173h18.4v1h-18.4zM192.1 263h18.4v1h-18.4zM192.1 310h18.4v1h-18.4zM192.1 313h18.4v1h-18.4zM192.1 319h18.4v1h-18.4zM192.1 323h18.4v2h-18.4zM192.1 345h18.4v1h-18.4zM192.1 352h18.4v1h-18.4zM192.1 357h18.4v1h-18.4zM192.1 361h18.4v1h-18.4zM192.1 370h18.4v1h-18.4zM192.1 375h18.4v1h-18.4zM192.1 379h18.4v1h-18.4zM192.1 382h18.4v1h-18.4zM192.1 385h18.4v1h-18.4zM192.1 390h18.4v1h-18.4zM192.1 396h18.4v1h-18.4zM192.1 398h18.4v1h-18.4zM192.1 403h18.4v2h-18.4zM192.1 408h18.4v1h-18.4zM192.1 417h18.4v2h-18.4zM192.1 422h18.4v1h-18.4zM192.1 432h18.4v1h-18.4zM210.5 83h18.5v1h-18.5zM210.5 85h18.5v1h-18.5zM210.5 88h18.5v1h-18.5zM210.5 91h18.5v1h-18.5zM210.5 97h18.5v1h-18.5zM210.5 102h18.5v1h-18.5zM210.5 107h18.5v2h-18.5zM210.5 127h18.5v1h-18.5zM210.5 133h18.5v2h-18.5zM210.5 143h18.5v1h-18.5zM210.5 147h18.5v1h-18.5zM210.5 149h18.5v1h-18.5zM210.5 152h18.5v1h-18.5zM210.5 160h18.5v1h-18.5zM210.5 166h18.5v1h-18.5zM210.5 169h18.5v1h-18.5zM210.5 182h18.5v1h-18.5zM210.5 191h18.5v1h-18.5zM210.5 193h18.5v1h-18.5zM210.5 195h18.5v1h-18.5zM210.5 198h18.5v1h-18.5zM210.5 205h18.5v1h-18.5zM210.5 224h18.5v1h-18.5zM210.5 229h18.5v1h-18.5zM210.5 241h18.5v1h-18.5zM210.5 287h18.5v2h-18.5zM210.5 290h18.5v1h-18.5zM210.5 352h18.5v1h-18.5zM210.5 379h18.5v1h-18.5zM210.5 395h18.5v1h-18.5zM229.0 99h18.4v1h-18.4zM229.0 104h18.4v1h-18.4zM229.0 116h18.4v1h-18.4zM229.0 123h18.4v1h-18.4zM229.0 125h18.4v1h-18.4zM229.0 131h18.4v1h-18.4zM229.0 133h18.4v1h-18.4zM229.0 143h18.4v2h-18.4zM229.0 159h18.4v1h-18.4zM229.0 340h18.4v1h-18.4zM229.0 353h18.4v2h-18.4zM229.0 360h18.4v1h-18.4zM229.0 372h18.4v1h-18.4zM229.0 378h18.4v2h-18.4zM229.0 391h18.4v1h-18.4zM229.0 424h18.4v1h-18.4zM229.0 426h18.4v1h-18.4zM229.0 431h18.4v1h-18.4zM247.4 84h18.5v1h-18.5zM247.4 86h18.5v1h-18.5zM247.4 91h18.5v2h-18.5zM247.4 94h18.5v1h-18.5zM247.4 110h18.5v1h-18.5zM247.4 112h18.5v3h-18.5zM247.4 117h18.5v1h-18.5zM247.4 126h18.5v1h-18.5zM247.4 130h18.5v1h-18.5zM247.4 144h18.5v2h-18.5zM247.4 163h18.5v1h-18.5zM247.4 166h18.5v2h-18.5zM247.4 184h18.5v1h-18.5zM247.4 186h18.5v1h-18.5zM247.4 190h18.5v1h-18.5zM247.4 273h18.5v1h-18.5zM247.4 284h18.5v1h-18.5zM247.4 289h18.5v1h-18.5zM247.4 303h18.5v1h-18.5zM247.4 305h18.5v1h-18.5zM247.4 317h18.5v1h-18.5zM247.4 329h18.5v1h-18.5zM247.4 336h18.5v1h-18.5zM247.4 345h18.5v1h-18.5zM247.4 354h18.5v1h-18.5zM247.4 368h18.5v1h-18.5zM247.4 371h18.5v1h-18.5zM247.4 386h18.5v1h-18.5zM247.4 398h18.5v1h-18.5zM247.4 409h18.5v1h-18.5zM265.9 101h18.5v1h-18.5zM265.9 137h18.5v1h-18.5zM265.9 161h18.5v1h-18.5zM265.9 304h18.5v2h-18.5zM265.9 307h18.5v1h-18.5zM265.9 311h18.5v1h-18.5zM265.9 326h18.5v1h-18.5zM265.9 330h18.5v1h-18.5zM265.9 333h18.5v2h-18.5zM265.9 350h18.5v1h-18.5zM265.9 359h18.5v2h-18.5zM265.9 383h18.5v2h-18.5zM265.9 388h18.5v1h-18.5zM265.9 393h18.5v5h-18.5zM265.9 401h18.5v1h-18.5zM265.9 418h18.5v1h-18.5zM265.9 420h18.5v2h-18.5zM284.4 147h18.4v1h-18.4zM284.4 151h18.4v1h-18.4zM284.4 160h18.4v1h-18.4zM284.4 179h18.4v1h-18.4zM284.4 188h18.4v1h-18.4zM284.4 242h18.4v1h-18.4zM284.4 259h18.4v1h-18.4zM284.4 267h18.4v2h-18.4zM284.4 300h18.4v1h-18.4zM284.4 315h18.4v1h-18.4zM284.4 325h18.4v1h-18.4zM284.4 327h18.4v1h-18.4zM284.4 330h18.4v1h-18.4zM284.4 347h18.4v1h-18.4zM284.4 360h18.4v1h-18.4zM284.4 375h18.4v1h-18.4zM284.4 379h18.4v2h-18.4zM284.4 383h18.4v1h-18.4zM284.4 390h18.4v1h-18.4zM284.4 393h18.4v1h-18.4zM284.4 401h18.4v1h-18.4zM284.4 408h18.4v2h-18.4zM284.4 428h18.4v1h-18.4zM302.8 92h18.4v1h-18.4zM302.8 94h18.4v1h-18.4zM302.8 96h18.4v1h-18.4zM302.8 104h18.4v1h-18.4zM302.8 110h18.4v1h-18.4zM302.8 114h18.4v1h-18.4zM302.8 146h18.4v1h-18.4zM302.8 148h18.4v1h-18.4zM302.8 151h18.4v1h-18.4zM302.8 163h18.4v2h-18.4zM302.8 166h18.4v1h-18.4zM302.8 170h18.4v1h-18.4zM302.8 172h18.4v2h-18.4zM302.8 182h18.4v1h-18.4zM302.8 188h18.4v1h-18.4zM302.8 202h18.4v1h-18.4zM302.8 208h18.4v1h-18.4zM302.8 212h18.4v2h-18.4zM302.8 218h18.4v1h-18.4zM302.8 237h18.4v1h-18.4zM302.8 243h18.4v2h-18.4zM302.8 246h18.4v1h-18.4zM302.8 251h18.4v1h-18.4zM302.8 261h18.4v3h-18.4zM302.8 272h18.4v2h-18.4zM302.8 277h18.4v1h-18.4zM302.8 283h18.4v1h-18.4zM302.8 293h18.4v1h-18.4zM302.8 296h18.4v1h-18.4zM302.8 307h18.4v1h-18.4zM302.8 312h18.4v1h-18.4zM302.8 323h18.4v1h-18.4zM302.8 350h18.4v1h-18.4zM302.8 353h18.4v1h-18.4zM302.8 367h18.4v1h-18.4zM302.8 378h18.4v2h-18.4zM302.8 386h18.4v2h-18.4zM302.8 389h18.4v1h-18.4zM302.8 403h18.4v1h-18.4zM302.8 406h18.4v1h-18.4zM302.8 419h18.4v1h-18.4zM321.2 92h18.5v1h-18.5zM321.2 96h18.5v1h-18.5zM321.2 100h18.5v1h-18.5zM321.2 123h18.5v1h-18.5zM321.2 127h18.5v2h-18.5zM321.2 140h18.5v2h-18.5zM321.2 176h18.5v1h-18.5zM321.2 199h18.5v2h-18.5zM321.2 203h18.5v1h-18.5zM321.2 216h18.5v1h-18.5zM321.2 220h18.5v3h-18.5zM321.2 264h18.5v1h-18.5zM321.2 267h18.5v1h-18.5zM321.2 285h18.5v1h-18.5zM321.2 287h18.5v1h-18.5zM321.2 293h18.5v1h-18.5zM321.2 299h18.5v1h-18.5zM321.2 313h18.5v1h-18.5zM321.2 316h18.5v1h-18.5zM321.2 334h18.5v2h-18.5zM321.2 339h18.5v2h-18.5zM321.2 344h18.5v1h-18.5zM321.2 355h18.5v1h-18.5zM321.2 358h18.5v1h-18.5zM321.2 366h18.5v1h-18.5zM321.2 369h18.5v1h-18.5zM321.2 386h18.5v1h-18.5zM321.2 404h18.5v1h-18.5zM321.2 407h18.5v1h-18.5zM321.2 426h18.5v1h-18.5zM321.2 431h18.5v1h-18.5zM339.7 297h18.4v1h-18.4zM339.7 309h18.4v1h-18.4zM339.7 363h18.4v1h-18.4zM339.7 374h18.4v1h-18.4zM339.7 381h18.4v2h-18.4zM339.7 384h18.4v1h-18.4zM339.7 387h18.4v1h-18.4zM339.7 391h18.4v1h-18.4zM339.7 418h18.4v1h-18.4zM339.7 433h18.4v1h-18.4z"/>
<path fill="#ead4a6" d="M63.0 88h18.4v1h-18.4zM63.0 102h18.4v1h-18.4zM63.0 119h18.4v1h-18.4zM63.0 140h18.4v1h-18.4zM63.0 155h18.4v1h-18.4zM63.0 157h18.4v1h-18.4zM63.0 163h18.4v2h-18.4zM63.0 168h18.4v1h-18.4zM63.0 186h18.4v1h-18.4zM63.0 207h18.4v1h-18.4zM63.0 209h18.4v1h-18.4zM63.0 238h18.4v1h-18.4zM63.0 242h18.4v1h-18.4zM63.0 249h18.4v1h-18.4zM63.0 272h18.4v1h-18.4zM63.0 274h18.4v1h-18.4zM63.0 291h18.4v1h-18.4zM63.0 293h18.4v1h-18.4zM63.0 347h18.4v1h-18.4zM63.0 349h18.4v1h-18.4zM63.0 363h18.4v2h-18.4zM63.0 379h18.4v1h-18.4zM63.0 387h18.4v1h-18.4zM63.0 394h18.4v1h-18.4zM63.0 406h18.4v1h-18.4zM63.0 409h18.4v3h-18.4zM81.4 83h18.4v1h-18.4zM81.4 94h18.4v2h-18.4zM81.4 97h18.4v1h-18.4zM81.4 146h18.4v1h-18.4zM81.4 183h18.4v1h-18.4zM81.4 185h18.4v1h-18.4zM81.4 190h18.4v2h-18.4zM81.4 199h18.4v1h-18.4zM81.4 210h18.4v1h-18.4zM81.4 229h18.4v1h-18.4zM81.4 231h18.4v1h-18.4zM81.4 250h18.4v1h-18.4zM81.4 265h18.4v1h-18.4zM81.4 272h18.4v1h-18.4zM81.4 274h18.4v1h-18.4zM81.4 282h18.4v1h-18.4zM81.4 325h18.4v1h-18.4zM81.4 341h18.4v1h-18.4zM81.4 364h18.4v1h-18.4zM81.4 385h18.4v1h-18.4zM99.8 173h18.5v1h-18.5zM99.8 179h18.5v1h-18.5zM99.8 188h18.5v1h-18.5zM99.8 211h18.5v1h-18.5zM99.8 223h18.5v1h-18.5zM99.8 235h18.5v1h-18.5zM99.8 237h18.5v1h-18.5zM99.8 257h18.5v1h-18.5zM99.8 260h18.5v1h-18.5zM99.8 281h18.5v1h-18.5zM99.8 310h18.5v1h-18.5zM99.8 315h18.5v1h-18.5zM99.8 338h18.5v2h-18.5zM99.8 344h18.5v1h-18.5zM99.8 360h18.5v1h-18.5zM99.8 409h18.5v1h-18.5zM99.8 420h18.5v1h-18.5zM118.3 106h18.5v1h-18.5zM118.3 109h18.5v1h-18.5zM118.3 130h18.5v1h-18.5zM118.3 140h18.5v1h-18.5zM118.3 142h18.5v1h-18.5zM118.3 151h18.5v1h-18.5zM118.3 153h18.5v1h-18.5zM118.3 174h18.5v1h-18.5zM118.3 187h18.5v1h-18.5zM118.3 189h18.5v1h-18.5zM118.3 309h18.5v2h-18.5zM118.3 320h18.5v1h-18.5zM118.3 328h18.5v1h-18.5zM136.8 170h18.4v1h-18.4zM136.8 176h18.4v1h-18.4zM136.8 190h18.4v1h-18.4zM136.8 201h18.4v1h-18.4zM136.8 222h18.4v1h-18.4zM136.8 228h18.4v2h-18.4zM136.8 242h18.4v1h-18.4zM136.8 244h18.4v1h-18.4zM136.8 256h18.4v1h-18.4zM136.8 267h18.4v1h-18.4zM136.8 269h18.4v1h-18.4zM136.8 278h18.4v1h-18.4zM136.8 289h18.4v1h-18.4zM136.8 306h18.4v1h-18.4zM173.7 83h18.4v1h-18.4zM173.7 85h18.4v2h-18.4zM173.7 92h18.4v1h-18.4zM173.7 111h18.4v2h-18.4zM173.7 128h18.4v1h-18.4zM173.7 152h18.4v2h-18.4zM173.7 171h18.4v1h-18.4zM173.7 181h18.4v3h-18.4zM173.7 194h18.4v2h-18.4zM173.7 212h18.4v1h-18.4zM173.7 258h18.4v3h-18.4zM173.7 273h18.4v1h-18.4zM173.7 277h18.4v1h-18.4zM173.7 283h18.4v1h-18.4zM173.7 300h18.4v1h-18.4zM173.7 302h18.4v1h-18.4zM173.7 306h18.4v1h-18.4zM173.7 322h18.4v1h-18.4zM173.7 349h18.4v1h-18.4zM173.7 370h18.4v1h-18.4zM173.7 397h18.4v1h-18.4zM192.1 86h18.4v1h-18.4zM192.1 98h18.4v1h-18.4zM192.1 102h18.4v1h-18.4zM192.1 106h18.4v2h-18.4zM192.1 109h18.4v2h-18.4zM192.1 136h18.4v2h-18.4zM192.1 159h18.4v1h-18.4zM192.1 164h18.4v1h-18.4zM192.1 185h18.4v1h-18.4zM192.1 188h18.4v1h-18.4zM192.1 190h18.4v2h-18.4zM192.1 197h18.4v1h-18.4zM192.1 205h18.4v1h-18.4zM192.1 218h18.4v1h-18.4zM192.1 256h18.4v1h-18.4zM192.1 266h18.4v1h-18.4zM192.1 272h18.4v2h-18.4zM192.1 288h18.4v1h-18.4zM192.1 344h18.4v1h-18.4zM192.1 355h18.4v1h-18.4zM192.1 372h18.4v1h-18.4zM210.5 222h18.5v2h-18.5zM210.5 277h18.5v1h-18.5zM210.5 295h18.5v1h-18.5zM210.5 300h18.5v1h-18.5zM210.5 310h18.5v1h-18.5zM210.5 355h18.5v1h-18.5zM229.0 97h18.4v1h-18.4zM229.0 112h18.4v1h-18.4zM229.0 119h18.4v1h-18.4zM229.0 154h18.4v1h-18.4zM229.0 174h18.4v1h-18.4zM229.0 179h18.4v1h-18.4zM229.0 359h18.4v1h-18.4zM229.0 362h18.4v1h-18.4zM229.0 365h18.4v1h-18.4zM229.0 390h18.4v1h-18.4zM229.0 423h18.4v1h-18.4zM247.4 95h18.5v1h-18.5zM247.4 139h18.5v1h-18.5zM247.4 141h18.5v1h-18.5zM247.4 147h18.5v1h-18.5zM247.4 162h18.5v1h-18.5zM247.4 170h18.5v1h-18.5zM247.4 202h18.5v1h-18.5zM247.4 205h18.5v1h-18.5zM247.4 212h18.5v1h-18.5zM247.4 215h18.5v1h-18.5zM247.4 222h18.5v1h-18.5zM247.4 234h18.5v1h-18.5zM247.4 238h18.5v1h-18.5zM247.4 241h18.5v1h-18.5zM247.4 243h18.5v1h-18.5zM247.4 255h18.5v1h-18.5zM247.4 260h18.5v1h-18.5zM247.4 264h18.5v1h-18.5zM247.4 296h18.5v1h-18.5zM247.4 312h18.5v1h-18.5zM247.4 326h18.5v2h-18.5zM247.4 344h18.5v1h-18.5zM247.4 358h18.5v2h-18.5zM247.4 379h18.5v1h-18.5zM247.4 402h18.5v1h-18.5zM247.4 415h18.5v2h-18.5zM247.4 420h18.5v2h-18.5zM247.4 428h18.5v1h-18.5zM247.4 432h18.5v1h-18.5zM265.9 99h18.5v1h-18.5zM265.9 103h18.5v1h-18.5zM265.9 110h18.5v1h-18.5zM265.9 140h18.5v1h-18.5zM265.9 172h18.5v1h-18.5zM265.9 186h18.5v1h-18.5zM265.9 201h18.5v2h-18.5zM265.9 212h18.5v1h-18.5zM265.9 216h18.5v1h-18.5zM265.9 235h18.5v1h-18.5zM265.9 276h18.5v1h-18.5zM265.9 322h18.5v1h-18.5zM265.9 324h18.5v1h-18.5zM265.9 370h18.5v2h-18.5zM265.9 382h18.5v1h-18.5zM265.9 407h18.5v2h-18.5zM265.9 413h18.5v1h-18.5zM265.9 417h18.5v1h-18.5zM284.4 91h18.4v1h-18.4zM284.4 101h18.4v1h-18.4zM284.4 123h18.4v1h-18.4zM284.4 148h18.4v2h-18.4zM284.4 154h18.4v1h-18.4zM284.4 163h18.4v1h-18.4zM284.4 180h18.4v1h-18.4zM284.4 194h18.4v1h-18.4zM284.4 201h18.4v1h-18.4zM284.4 203h18.4v2h-18.4zM284.4 218h18.4v2h-18.4zM284.4 223h18.4v1h-18.4zM284.4 228h18.4v1h-18.4zM284.4 231h18.4v1h-18.4zM284.4 237h18.4v1h-18.4zM284.4 291h18.4v1h-18.4zM284.4 336h18.4v1h-18.4zM284.4 358h18.4v1h-18.4zM284.4 373h18.4v1h-18.4zM284.4 397h18.4v1h-18.4zM284.4 416h18.4v1h-18.4zM284.4 418h18.4v1h-18.4zM284.4 421h18.4v1h-18.4zM284.4 426h18.4v1h-18.4zM302.8 98h18.4v1h-18.4zM302.8 120h18.4v1h-18.4zM302.8 183h18.4v1h-18.4zM302.8 190h18.4v1h-18.4zM302.8 193h18.4v1h-18.4zM302.8 238h18.4v1h-18.4zM302.8 241h18.4v1h-18.4zM302.8 259h18.4v1h-18.4zM302.8 264h18.4v1h-18.4zM302.8 266h18.4v1h-18.4zM302.8 318h18.4v1h-18.4zM302.8 347h18.4v1h-18.4zM302.8 349h18.4v1h-18.4zM302.8 392h18.4v1h-18.4zM302.8 398h18.4v3h-18.4zM321.2 95h18.5v1h-18.5zM321.2 149h18.5v1h-18.5zM321.2 180h18.5v1h-18.5zM321.2 193h18.5v1h-18.5zM321.2 337h18.5v1h-18.5zM321.2 381h18.5v1h-18.5zM321.2 384h18.5v1h-18.5zM321.2 389h18.5v3h-18.5zM321.2 402h18.5v1h-18.5zM321.2 410h18.5v1h-18.5zM339.7 281h18.4v1h-18.4zM339.7 301h18.4v1h-18.4zM339.7 349h18.4v2h-18.4zM339.7 352h18.4v1h-18.4zM339.7 368h18.4v1h-18.4zM339.7 370h18.4v1h-18.4zM339.7 397h18.4v1h-18.4zM339.7 411h18.4v2h-18.4z"/>
<path fill="#fdd585" d="M63.0 91h18.4v1h-18.4zM63.0 93h18.4v1h-18.4zM63.0 98h18.4v1h-18.4zM63.0 105h18.4v1h-18.4zM63.0 110h18.4v1h-18.4zM63.0 114h18.4v1h-18.4zM63.0 117h18.4v2h-18.4zM63.0 123h18.4v1h-18.4zM63.0 162h18.4v1h-18.4zM63.0 180h18.4v1h-18.4zM63.0 188h18.4v1h-18.4zM63.0 195h18.4v2h-18.4zM63.0 244h18.4v1h-18.4zM63.0 263h18.4v1h-18.4zM63.0 298h18.4v2h-18.4zM63.0 322h18.4v1h-18.4zM63.0 405h18.4v1h-18.4zM81.4 122h18.4v1h-18.4zM81.4 204h18.4v2h-18.4zM81.4 217h18.4v1h-18.4zM81.4 226h18.4v1h-18.4zM81.4 241h18.4v1h-18.4zM81.4 279h18.4v1h-18.4zM81.4 286h18.4v1h-18.4zM81.4 315h18.4v2h-18.4zM81.4 322h18.4v1h-18.4zM81.4 336h18.4v1h-18.4zM81.4 339h18.4v1h-18.4zM81.4 343h18.4v1h-18.4zM81.4 353h18.4v1h-18.4zM81.4 369h18.4v1h-18.4zM81.4 371h18.4v1h-18.4zM81.4 386h18.4v1h-18.4zM81.4 388h18.4v1h-18.4zM81.4 392h18.4v1h-18.4zM99.8 85h18.5v1h-18.5zM99.8 111h18.5v1h-18.5zM99.8 114h18.5v1h-18.5zM99.8 119h18.5v1h-18.5zM99.8 122h18.5v2h-18.5zM99.8 138h18.5v1h-18.5zM99.8 146h18.5v1h-18.5zM99.8 170h18.5v1h-18.5zM99.8 263h18.5v1h-18.5zM99.8 268h18.5v1h-18.5zM99.8 270h18.5v1h-18.5zM99.8 291h18.5v1h-18.5zM99.8 300h18.5v1h-18.5zM99.8 369h18.5v1h-18.5zM118.3 83h18.5v1h-18.5zM118.3 100h18.5v1h-18.5zM118.3 122h18.5v1h-18.5zM118.3 126h18.5v1h-18.5zM118.3 131h18.5v1h-18.5zM118.3 134h18.5v1h-18.5zM118.3 167h18.5v1h-18.5zM118.3 305h18.5v1h-18.5zM118.3 311h18.5v1h-18.5zM118.3 331h18.5v1h-18.5zM118.3 379h18.5v1h-18.5zM118.3 383h18.5v1h-18.5zM118.3 405h18.5v1h-18.5zM118.3 407h18.5v1h-18.5zM118.3 414h18.5v1h-18.5zM118.3 433h18.5v1h-18.5zM136.8 181h18.4v1h-18.4zM136.8 184h18.4v1h-18.4zM136.8 220h18.4v1h-18.4zM136.8 237h18.4v1h-18.4zM136.8 259h18.4v1h-18.4zM136.8 285h18.4v1h-18.4zM136.8 291h18.4v1h-18.4zM136.8 366h18.4v1h-18.4zM136.8 392h18.4v1h-18.4zM136.8 400h18.4v1h-18.4zM136.8 414h18.4v1h-18.4zM136.8 416h18.4v2h-18.4zM155.2 375h18.5v1h-18.5zM155.2 377h18.5v2h-18.5zM155.2 400h18.5v1h-18.5zM173.7 118h18.4v1h-18.4zM173.7 145h18.4v1h-18.4zM173.7 207h18.4v1h-18.4zM173.7 209h18.4v1h-18.4zM173.7 214h18.4v1h-18.4zM173.7 225h18.4v1h-18.4zM173.7 228h18.4v1h-18.4zM173.7 242h18.4v1h-18.4zM173.7 251h18.4v1h-18.4zM173.7 256h18.4v2h-18.4zM173.7 297h18.4v1h-18.4zM173.7 311h18.4v2h-18.4zM173.7 328h18.4v1h-18.4zM173.7 331h18.4v1h-18.4zM173.7 333h18.4v2h-18.4zM173.7 351h18.4v1h-18.4zM173.7 354h18.4v1h-18.4zM173.7 361h18.4v1h-18.4zM173.7 363h18.4v2h-18.4zM173.7 366h18.4v1h-18.4zM173.7 372h18.4v1h-18.4zM173.7 379h18.4v1h-18.4zM192.1 94h18.4v1h-18.4zM192.1 131h18.4v1h-18.4zM192.1 133h18.4v1h-18.4zM192.1 141h18.4v2h-18.4zM192.1 168h18.4v1h-18.4zM192.1 199h18.4v1h-18.4zM192.1 327h18.4v1h-18.4zM192.1 334h18.4v1h-18.4zM192.1 341h18.4v1h-18.4zM192.1 349h18.4v3h-18.4zM192.1 358h18.4v1h-18.4zM192.1 364h18.4v2h-18.4zM192.1 383h18.4v1h-18.4zM192.1 407h18.4v1h-18.4zM192.1 410h18.4v1h-18.4zM192.1 423h18.4v2h-18.4zM210.5 84h18.5v1h-18.5zM210.5 87h18.5v1h-18.5zM210.5 89h18.5v2h-18.5zM210.5 96h18.5v1h-18.5zM210.5 106h18.5v1h-18.5zM210.5 115h18.5v2h-18.5zM210.5 124h18.5v1h-18.5zM210.5 136h18.5v1h-18.5zM210.5 144h18.5v1h-18.5zM210.5 150h18.5v1h-18.5zM210.5 153h18.5v1h-18.5zM210.5 163h18.5v1h-18.5zM210.5 167h18.5v2h-18.5zM210.5 173h18.5v1h-18.5zM210.5 177h18.5v1h-18.5zM210.5 185h18.5v1h-18.5zM210.5 192h18.5v1h-18.5zM210.5 200h18.5v1h-18.5zM210.5 215h18.5v1h-18.5zM210.5 228h18.5v1h-18.5zM210.5 235h18.5v1h-18.5zM210.5 253h18.5v1h-18.5zM210.5 281h18.5v1h-18.5zM210.5 283h18.5v1h-18.5zM210.5 294h18.5v1h-18.5zM210.5 326h18.5v1h-18.5zM210.5 346h18.5v1h-18.5zM210.5 351h18.5v1h-18.5zM229.0 126h18.4v1h-18.4zM229.0 128h18.4v1h-18.4zM229.0 355h18.4v1h-18.4zM229.0 384h18.4v1h-18.4zM229.0 403h18.4v1h-18.4zM229.0 411h18.4v1h-18.4zM229.0 430h18.4v1h-18.4zM247.4 119h18.5v1h-18.5zM247.4 121h18.5v1h-18.5zM247.4 123h18.5v2h-18.5zM247.4 127h18.5v1h-18.5zM247.4 133h18.5v1h-18.5zM247.4 277h18.5v1h-18.5zM247.4 288h18.5v1h-18.5zM247.4 300h18.5v1h-18.5zM247.4 314h18.5v1h-18.5zM247.4 320h18.5v2h-18.5zM247.4 330h18.5v1h-18.5zM247.4 350h18.5v1h-18.5zM247.4 370h18.5v1h-18.5zM247.4 395h18.5v1h-18.5zM247.4 404h18.5v1h-18.5zM265.9 310h18.5v1h-18.5zM265.9 313h18.5v2h-18.5zM265.9 327h18.5v1h-18.5zM265.9 348h18.5v1h-18.5zM265.9 356h18.5v1h-18.5zM265.9 385h18.5v2h-18.5zM265.9 392h18.5v1h-18.5zM265.9 419h18.5v1h-18.5zM265.9 433h18.5v1h-18.5zM284.4 98h18.4v1h-18.4zM284.4 178h18.4v1h-18.4zM284.4 184h18.4v1h-18.4zM284.4 233h18.4v1h-18.4zM284.4 247h18.4v1h-18.4zM284.4 281h18.4v1h-18.4zM284.4 287h18.4v1h-18.4zM284.4 290h18.4v1h-18.4zM284.4 316h18.4v1h-18.4zM284.4 328h18.4v1h-18.4zM284.4 350h18.4v1h-18.4zM284.4 352h18.4v1h-18.4zM284.4 376h18.4v1h-18.4zM284.4 400h18.4v1h-18.4zM284.4 431h18.4v1h-18.4zM302.8 84h18.4v1h-18.4zM302.8 88h18.4v1h-18.4zM302.8 93h18.4v1h-18.4zM302.8 95h18.4v1h-18.4zM302.8 105h18.4v1h-18.4zM302.8 111h18.4v1h-18.4zM302.8 117h18.4v1h-18.4zM302.8 128h18.4v1h-18.4zM302.8 134h18.4v1h-18.4zM302.8 142h18.4v1h-18.4zM302.8 162h18.4v1h-18.4zM302.8 167h18.4v1h-18.4zM302.8 185h18.4v1h-18.4zM302.8 204h18.4v1h-18.4zM302.8 211h18.4v1h-18.4zM302.8 230h18.4v1h-18.4zM302.8 256h18.4v1h-18.4zM302.8 269h18.4v1h-18.4zM302.8 298h18.4v1h-18.4zM302.8 326h18.4v1h-18.4zM302.8 364h18.4v1h-18.4zM302.8 421h18.4v1h-18.4zM321.2 103h18.5v2h-18.5zM321.2 108h18.5v1h-18.5zM321.2 121h18.5v1h-18.5zM321.2 131h18.5v1h-18.5zM321.2 154h18.5v1h-18.5zM321.2 157h18.5v1h-18.5zM321.2 185h18.5v1h-18.5zM321.2 204h18.5v1h-18.5zM321.2 215h18.5v1h-18.5zM321.2 254h18.5v1h-18.5zM321.2 265h18.5v1h-18.5zM321.2 271h18.5v1h-18.5zM321.2 278h18.5v1h-18.5zM321.2 309h18.5v1h-18.5zM321.2 319h18.5v1h-18.5zM321.2 336h18.5v1h-18.5zM321.2 347h18.5v1h-18.5zM321.2 375h18.5v1h-18.5zM321.2 380h18.5v1h-18.5zM321.2 423h18.5v1h-18.5zM339.7 357h18.4v1h-18.4zM339.7 364h18.4v1h-18.4zM339.7 430h18.4v2h-18.4z"/>
<path fill="#d9cfbb" d="M63.0 92h18.4v1h-18.4zM63.0 142h18.4v1h-18.4zM63.0 175h18.4v2h-18.4zM63.0 218h18.4v1h-18.4zM81.4 105h18.4v1h-18.4zM81.4 232h18.4v1h-18.4zM81.4 254h18.4v1h-18.4zM81.4 292h18.4v2h-18.4zM81.4 299h18.4v1h-18.4zM81.4 358h18.4v1h-18.4zM81.4 390h18.4v1h-18.4zM99.8 319h18.5v1h-18.5zM99.8 351h18.5v1h-18.5zM99.8 353h18.5v1h-18.5zM99.8 390h18.5v1h-18.5zM118.3 138h18.5v1h-18.5zM118.3 154h18.5v1h-18.5zM118.3 156h18.5v1h-18.5zM118.3 177h18.5v1h-18.5zM118.3 183h18.5v2h-18.5zM118.3 195h18.5v1h-18.5zM118.3 202h18.5v1h-18.5zM118.3 207h18.5v2h-18.5zM118.3 211h18.5v1h-18.5zM118.3 268h18.5v1h-18.5zM118.3 272h18.5v2h-18.5zM118.3 276h18.5v1h-18.5zM118.3 278h18.5v3h-18.5zM118.3 282h18.5v1h-18.5zM118.3 285h18.5v1h-18.5zM118.3 300h18.5v1h-18.5zM118.3 332h18.5v1h-18.5zM118.3 334h18.5v1h-18.5zM118.3 336h18.5v1h-18.5zM118.3 342h18.5v4h-18.5zM136.8 203h18.4v1h-18.4zM136.8 209h18.4v1h-18.4zM136.8 312h18.4v1h-18.4zM173.7 89h18.4v1h-18.4zM173.7 133h18.4v1h-18.4zM173.7 160h18.4v1h-18.4zM173.7 210h18.4v1h-18.4zM173.7 215h18.4v1h-18.4zM173.7 240h18.4v2h-18.4zM173.7 271h18.4v1h-18.4zM173.7 384h18.4v1h-18.4zM173.7 393h18.4v2h-18.4zM192.1 194h18.4v1h-18.4zM192.1 244h18.4v1h-18.4zM192.1 316h18.4v1h-18.4zM192.1 331h18.4v1h-18.4zM192.1 359h18.4v1h-18.4zM192.1 416h18.4v1h-18.4zM210.5 206h18.5v3h-18.5zM210.5 239h18.5v1h-18.5zM210.5 243h18.5v1h-18.5zM210.5 247h18.5v1h-18.5zM210.5 261h18.5v1h-18.5zM210.5 271h18.5v2h-18.5zM210.5 303h18.5v1h-18.5zM210.5 322h18.5v1h-18.5zM210.5 374h18.5v1h-18.5zM210.5 414h18.5v1h-18.5zM210.5 419h18.5v1h-18.5zM210.5 430h18.5v1h-18.5zM229.0 163h18.4v1h-18.4zM229.0 180h18.4v3h-18.4zM229.0 186h18.4v2h-18.4zM229.0 202h18.4v1h-18.4zM229.0 339h18.4v1h-18.4zM229.0 402h18.4v1h-18.4zM229.0 421h18.4v1h-18.4zM247.4 89h18.5v1h-18.5zM247.4 160h18.5v1h-18.5zM247.4 174h18.5v1h-18.5zM247.4 217h18.5v1h-18.5zM247.4 232h18.5v1h-18.5zM247.4 245h18.5v1h-18.5zM247.4 253h18.5v1h-18.5zM247.4 341h18.5v3h-18.5zM247.4 348h18.5v1h-18.5zM247.4 362h18.5v1h-18.5zM247.4 377h18.5v1h-18.5zM247.4 391h18.5v1h-18.5zM247.4 412h18.5v1h-18.5zM247.4 418h18.5v1h-18.5zM247.4 426h18.5v1h-18.5zM265.9 179h18.5v1h-18.5zM265.9 351h18.5v1h-18.5zM284.4 136h18.4v1h-18.4zM284.4 158h18.4v1h-18.4zM284.4 162h18.4v1h-18.4zM284.4 172h18.4v1h-18.4zM284.4 210h18.4v1h-18.4zM284.4 296h18.4v1h-18.4zM284.4 326h18.4v1h-18.4zM284.4 333h18.4v1h-18.4zM284.4 342h18.4v1h-18.4zM284.4 387h18.4v1h-18.4zM284.4 402h18.4v1h-18.4zM284.4 413h18.4v1h-18.4zM284.4 419h18.4v1h-18.4zM302.8 121h18.4v1h-18.4zM302.8 209h18.4v1h-18.4zM302.8 220h18.4v1h-18.4zM302.8 287h18.4v1h-18.4zM302.8 289h18.4v1h-18.4zM302.8 315h18.4v1h-18.4zM302.8 409h18.4v1h-18.4zM321.2 87h18.5v1h-18.5zM321.2 225h18.5v1h-18.5zM321.2 330h18.5v1h-18.5zM339.7 360h18.4v1h-18.4z"/>
<path fill="#fad891" d="M63.0 96h18.4v1h-18.4zM63.0 111h18.4v1h-18.4zM63.0 125h18.4v1h-18.4zM63.0 133h18.4v1h-18.4zM63.0 137h18.4v1h-18.4zM63.0 170h18.4v2h-18.4zM63.0 185h18.4v1h-18.4zM63.0 192h18.4v1h-18.4zM63.0 202h18.4v1h-18.4zM63.0 205h18.4v1h-18.4zM63.0 235h18.4v1h-18.4zM63.0 255h18.4v1h-18.4zM63.0 266h18.4v1h-18.4zM63.0 280h18.4v1h-18.4zM63.0 297h18.4v1h-18.4zM63.0 343h18.4v1h-18.4zM63.0 354h18.4v1h-18.4zM63.0 380h18.4v2h-18.4zM81.4 86h18.4v1h-18.4zM81.4 96h18.4v1h-18.4zM81.4 104h18.4v1h-18.4zM81.4 112h18.4v1h-18.4zM81.4 120h18.4v1h-18.4zM81.4 133h18.4v1h-18.4zM81.4 138h18.4v1h-18.4zM81.4 144h18.4v1h-18.4zM81.4 148h18.4v1h-18.4zM81.4 160h18.4v1h-18.4zM81.4 163h18.4v1h-18.4zM81.4 168h18.4v1h-18.4zM81.4 224h18.4v1h-18.4zM81.4 306h18.4v1h-18.4zM81.4 331h18.4v1h-18.4zM81.4 335h18.4v1h-18.4zM81.4 338h18.4v1h-18.4zM81.4 357h18.4v1h-18.4zM81.4 373h18.4v1h-18.4zM81.4 382h18.4v1h-18.4zM99.8 89h18.5v1h-18.5zM99.8 91h18.5v2h-18.5zM99.8 102h18.5v1h-18.5zM99.8 108h18.5v1h-18.5zM99.8 117h18.5v1h-18.5zM99.8 125h18.5v1h-18.5zM99.8 149h18.5v1h-18.5zM99.8 162h18.5v1h-18.5zM99.8 165h18.5v2h-18.5zM99.8 238h18.5v1h-18.5zM99.8 245h18.5v1h-18.5zM99.8 279h18.5v1h-18.5zM99.8 334h18.5v1h-18.5zM99.8 345h18.5v1h-18.5zM99.8 350h18.5v1h-18.5zM99.8 355h18.5v1h-18.5zM99.8 359h18.5v1h-18.5zM99.8 367h18.5v1h-18.5zM99.8 374h18.5v1h-18.5zM99.8 383h18.5v1h-18.5zM99.8 388h18.5v1h-18.5zM99.8 399h18.5v1h-18.5zM99.8 402h18.5v1h-18.5zM99.8 412h18.5v1h-18.5zM99.8 431h18.5v1h-18.5zM118.3 91h18.5v1h-18.5zM118.3 96h18.5v1h-18.5zM118.3 132h18.5v1h-18.5zM118.3 137h18.5v1h-18.5zM118.3 150h18.5v1h-18.5zM118.3 298h18.5v1h-18.5zM118.3 307h18.5v1h-18.5zM118.3 314h18.5v2h-18.5zM118.3 330h18.5v1h-18.5zM118.3 356h18.5v1h-18.5zM118.3 365h18.5v1h-18.5zM118.3 386h18.5v1h-18.5zM118.3 400h18.5v1h-18.5zM118.3 406h18.5v1h-18.5zM118.3 419h18.5v1h-18.5zM136.8 236h18.4v1h-18.4zM136.8 239h18.4v1h-18.4zM136.8 271h18.4v1h-18.4zM136.8 274h18.4v1h-18.4zM136.8 281h18.4v1h-18.4zM136.8 292h18.4v1h-18.4zM136.8 294h18.4v1h-18.4zM136.8 325h18.4v1h-18.4zM136.8 327h18.4v1h-18.4zM136.8 349h18.4v1h-18.4zM136.8 380h18.4v1h-18.4zM136.8 383h18.4v2h-18.4zM136.8 401h18.4v1h-18.4zM136.8 405h18.4v1h-18.4zM136.8 412h18.4v1h-18.4zM136.8 425h18.4v1h-18.4zM155.2 335h18.5v1h-18.5zM155.2 349h18.5v1h-18.5zM155.2 398h18.5v1h-18.5zM155.2 425h18.5v1h-18.5zM173.7 94h18.4v1h-18.4zM173.7 102h18.4v1h-18.4zM173.7 105h18.4v1h-18.4zM173.7 110h18.4v1h-18.4zM173.7 217h18.4v1h-18.4zM173.7 220h18.4v1h-18.4zM173.7 231h18.4v1h-18.4zM173.7 236h18.4v1h-18.4zM173.7 254h18.4v2h-18.4zM173.7 296h18.4v1h-18.4zM173.7 298h18.4v1h-18.4zM173.7 303h18.4v1h-18.4zM173.7 320h18.4v1h-18.4zM173.7 338h18.4v1h-18.4zM173.7 353h18.4v1h-18.4zM173.7 369h18.4v1h-18.4zM173.7 403h18.4v1h-18.4zM192.1 121h18.4v1h-18.4zM192.1 130h18.4v1h-18.4zM192.1 132h18.4v1h-18.4zM192.1 166h18.4v1h-18.4zM192.1 201h18.4v1h-18.4zM192.1 203h18.4v1h-18.4zM192.1 211h18.4v1h-18.4zM192.1 219h18.4v2h-18.4zM192.1 231h18.4v1h-18.4zM192.1 234h18.4v1h-18.4zM192.1 242h18.4v1h-18.4zM192.1 262h18.4v1h-18.4zM192.1 264h18.4v1h-18.4zM192.1 268h18.4v1h-18.4zM192.1 270h18.4v1h-18.4zM192.1 280h18.4v1h-18.4zM192.1 285h18.4v3h-18.4zM192.1 290h18.4v2h-18.4zM192.1 293h18.4v1h-18.4zM192.1 303h18.4v1h-18.4zM192.1 312h18.4v1h-18.4zM192.1 322h18.4v1h-18.4zM192.1 328h18.4v2h-18.4zM192.1 338h18.4v1h-18.4zM192.1 346h18.4v1h-18.4zM192.1 386h18.4v1h-18.4zM192.1 399h18.4v1h-18.4zM192.1 412h18.4v1h-18.4zM192.1 425h18.4v4h-18.4zM210.5 98h18.5v1h-18.5zM210.5 111h18.5v2h-18.5zM210.5 117h18.5v1h-18.5zM210.5 138h18.5v1h-18.5zM210.5 145h18.5v2h-18.5zM210.5 148h18.5v1h-18.5zM210.5 151h18.5v1h-18.5zM210.5 154h18.5v1h-18.5zM210.5 159h18.5v1h-18.5zM210.5 161h18.5v1h-18.5zM210.5 171h18.5v1h-18.5zM210.5 179h18.5v2h-18.5zM210.5 202h18.5v1h-18.5zM210.5 204h18.5v1h-18.5zM210.5 233h18.5v1h-18.5zM210.5 236h18.5v1h-18.5zM210.5 252h18.5v1h-18.5zM210.5 270h18.5v1h-18.5zM210.5 280h18.5v1h-18.5zM210.5 327h18.5v1h-18.5zM210.5 336h18.5v2h-18.5zM210.5 372h18.5v1h-18.5zM210.5 397h18.5v1h-18.5zM210.5 404h18.5v1h-18.5zM210.5 410h18.5v1h-18.5zM210.5 425h18.5v5h-18.5zM210.5 432h18.5v1h-18.5zM229.0 96h18.4v1h-18.4zM229.0 100h18.4v1h-18.4zM229.0 105h18.4v1h-18.4zM229.0 107h18.4v1h-18.4zM229.0 114h18.4v1h-18.4zM229.0 134h18.4v1h-18.4zM229.0 140h18.4v1h-18.4zM229.0 155h18.4v1h-18.4zM229.0 343h18.4v1h-18.4zM229.0 405h18.4v1h-18.4zM247.4 83h18.5v1h-18.5zM247.4 97h18.5v2h-18.5zM247.4 105h18.5v2h-18.5zM247.4 134h18.5v1h-18.5zM247.4 179h18.5v2h-18.5zM247.4 272h18.5v1h-18.5zM247.4 278h18.5v1h-18.5zM247.4 283h18.5v1h-18.5zM247.4 290h18.5v1h-18.5zM247.4 333h18.5v2h-18.5zM247.4 337h18.5v1h-18.5zM247.4 382h18.5v1h-18.5zM247.4 387h18.5v1h-18.5zM247.4 399h18.5v1h-18.5zM265.9 85h18.5v1h-18.5zM265.9 112h18.5v1h-18.5zM265.9 114h18.5v1h-18.5zM265.9 118h18.5v1h-18.5zM265.9 120h18.5v2h-18.5zM265.9 133h18.5v1h-18.5zM265.9 138h18.5v1h-18.5zM265.9 148h18.5v1h-18.5zM265.9 150h18.5v1h-18.5zM265.9 158h18.5v1h-18.5zM265.9 163h18.5v2h-18.5zM265.9 169h18.5v1h-18.5zM265.9 184h18.5v1h-18.5zM265.9 309h18.5v1h-18.5zM265.9 315h18.5v1h-18.5zM265.9 368h18.5v1h-18.5zM265.9 389h18.5v1h-18.5zM265.9 400h18.5v1h-18.5zM265.9 415h18.5v1h-18.5zM265.9 422h18.5v1h-18.5zM265.9 429h18.5v1h-18.5zM284.4 96h18.4v1h-18.4zM284.4 103h18.4v1h-18.4zM284.4 105h18.4v1h-18.4zM284.4 114h18.4v2h-18.4zM284.4 153h18.4v1h-18.4zM284.4 177h18.4v1h-18.4zM284.4 240h18.4v1h-18.4zM284.4 244h18.4v1h-18.4zM284.4 264h18.4v1h-18.4zM284.4 270h18.4v1h-18.4zM284.4 284h18.4v1h-18.4zM284.4 289h18.4v1h-18.4zM284.4 311h18.4v1h-18.4zM284.4 320h18.4v2h-18.4zM284.4 324h18.4v1h-18.4zM284.4 356h18.4v1h-18.4zM284.4 368h18.4v1h-18.4zM284.4 384h18.4v1h-18.4zM284.4 391h18.4v1h-18.4zM284.4 405h18.4v1h-18.4zM302.8 107h18.4v1h-18.4zM302.8 125h18.4v1h-18.4zM302.8 147h18.4v1h-18.4zM302.8 153h18.4v1h-18.4zM302.8 210h18.4v1h-18.4zM302.8 217h18.4v1h-18.4zM302.8 225h18.4v1h-18.4zM302.8 232h18.4v1h-18.4zM302.8 254h18.4v1h-18.4zM302.8 275h18.4v1h-18.4zM302.8 308h18.4v1h-18.4zM302.8 311h18.4v1h-18.4zM302.8 314h18.4v1h-18.4zM302.8 355h18.4v2h-18.4zM302.8 358h18.4v1h-18.4zM302.8 362h18.4v2h-18.4zM302.8 369h18.4v1h-18.4zM302.8 380h18.4v1h-18.4zM302.8 382h18.4v1h-18.4zM302.8 388h18.4v1h-18.4zM302.8 429h18.4v1h-18.4zM321.2 97h18.5v2h-18.5zM321.2 142h18.5v2h-18.5zM321.2 147h18.5v1h-18.5zM321.2 177h18.5v1h-18.5zM321.2 187h18.5v1h-18.5zM321.2 208h18.5v1h-18.5zM321.2 226h18.5v1h-18.5zM321.2 236h18.5v2h-18.5zM321.2 255h18.5v1h-18.5zM321.2 260h18.5v1h-18.5zM321.2 288h18.5v1h-18.5zM321.2 296h18.5v1h-18.5zM321.2 308h18.5v1h-18.5zM321.2 314h18.5v2h-18.5zM321.2 322h18.5v1h-18.5zM321.2 341h18.5v1h-18.5zM321.2 348h18.5v1h-18.5zM321.2 353h18.5v1h-18.5zM321.2 359h18.5v1h-18.5zM321.2 371h18.5v2h-18.5zM321.2 382h18.5v1h-18.5zM321.2 405h18.5v1h-18.5zM321.2 408h18.5v1h-18.5zM321.2 414h18.5v1h-18.5zM321.2 420h18.5v1h-18.5zM321.2 427h18.5v1h-18.5zM339.7 362h18.4v1h-18.4zM339.7 372h18.4v1h-18.4zM339.7 375h18.4v1h-18.4zM339.7 379h18.4v1h-18.4zM339.7 388h18.4v1h-18.4zM339.7 390h18.4v1h-18.4zM339.7 392h18.4v1h-18.4zM339.7 403h18.4v1h-18.4zM339.7 416h18.4v1h-18.4z"/>
<path fill="#e6d3aa" d="M63.0 106h18.4v1h-18.4zM63.0 139h18.4v1h-18.4zM63.0 144h18.4v1h-18.4zM63.0 147h18.4v1h-18.4zM63.0 200h18.4v1h-18.4zM63.0 239h18.4v1h-18.4zM63.0 248h18.4v1h-18.4zM63.0 258h18.4v1h-18.4zM63.0 260h18.4v2h-18.4zM63.0 270h18.4v1h-18.4zM63.0 284h18.4v1h-18.4zM63.0 289h18.4v1h-18.4zM63.0 292h18.4v1h-18.4zM63.0 300h18.4v1h-18.4zM63.0 303h18.4v1h-18.4zM63.0 327h18.4v1h-18.4zM63.0 345h18.4v2h-18.4zM63.0 350h18.4v2h-18.4zM63.0 353h18.4v1h-18.4zM63.0 355h18.4v2h-18.4zM63.0 358h18.4v1h-18.4zM63.0 366h18.4v1h-18.4zM63.0 368h18.4v5h-18.4zM63.0 374h18.4v1h-18.4zM63.0 377h18.4v2h-18.4zM63.0 382h18.4v1h-18.4zM63.0 384h18.4v1h-18.4zM63.0 386h18.4v1h-18.4zM63.0 389h18.4v1h-18.4zM63.0 396h18.4v1h-18.4zM63.0 398h18.4v2h-18.4zM63.0 401h18.4v1h-18.4zM63.0 403h18.4v2h-18.4zM81.4 108h18.4v1h-18.4zM81.4 110h18.4v1h-18.4zM81.4 129h18.4v1h-18.4zM81.4 131h18.4v1h-18.4zM81.4 174h18.4v1h-18.4zM81.4 177h18.4v1h-18.4zM81.4 181h18.4v1h-18.4zM81.4 188h18.4v2h-18.4zM81.4 193h18.4v1h-18.4zM81.4 214h18.4v2h-18.4zM81.4 235h18.4v1h-18.4zM81.4 247h18.4v2h-18.4zM81.4 253h18.4v1h-18.4zM81.4 255h18.4v1h-18.4zM81.4 259h18.4v1h-18.4zM81.4 261h18.4v1h-18.4zM81.4 347h18.4v1h-18.4zM81.4 354h18.4v3h-18.4zM81.4 401h18.4v2h-18.4zM99.8 174h18.5v1h-18.5zM99.8 176h18.5v1h-18.5zM99.8 183h18.5v1h-18.5zM99.8 185h18.5v1h-18.5zM99.8 190h18.5v1h-18.5zM99.8 192h18.5v1h-18.5zM99.8 203h18.5v1h-18.5zM99.8 208h18.5v1h-18.5zM99.8 212h18.5v1h-18.5zM99.8 215h18.5v1h-18.5zM99.8 220h18.5v1h-18.5zM99.8 228h18.5v2h-18.5zM99.8 242h18.5v2h-18.5zM99.8 261h18.5v1h-18.5zM99.8 266h18.5v1h-18.5zM99.8 284h18.5v1h-18.5zM99.8 289h18.5v1h-18.5zM99.8 305h18.5v1h-18.5zM99.8 309h18.5v1h-18.5zM99.8 313h18.5v2h-18.5zM99.8 340h18.5v1h-18.5zM99.8 361h18.5v1h-18.5zM99.8 363h18.5v1h-18.5zM99.8 376h18.5v1h-18.5zM99.8 403h18.5v1h-18.5zM118.3 119h18.5v1h-18.5zM118.3 121h18.5v1h-18.5zM118.3 125h18.5v1h-18.5zM118.3 141h18.5v1h-18.5zM118.3 172h18.5v1h-18.5zM118.3 181h18.5v1h-18.5zM118.3 199h18.5v1h-18.5zM118.3 318h18.5v1h-18.5zM118.3 337h18.5v1h-18.5zM136.8 218h18.4v1h-18.4zM136.8 245h18.4v1h-18.4zM136.8 268h18.4v1h-18.4zM136.8 287h18.4v1h-18.4zM136.8 300h18.4v1h-18.4zM136.8 307h18.4v1h-18.4zM136.8 310h18.4v2h-18.4zM173.7 87h18.4v1h-18.4zM173.7 90h18.4v1h-18.4zM173.7 99h18.4v2h-18.4zM173.7 113h18.4v1h-18.4zM173.7 121h18.4v1h-18.4zM173.7 125h18.4v1h-18.4zM173.7 136h18.4v1h-18.4zM173.7 146h18.4v1h-18.4zM173.7 161h18.4v1h-18.4zM173.7 172h18.4v1h-18.4zM173.7 178h18.4v1h-18.4zM173.7 200h18.4v1h-18.4zM173.7 202h18.4v1h-18.4zM173.7 234h18.4v2h-18.4zM173.7 267h18.4v1h-18.4zM173.7 270h18.4v1h-18.4zM173.7 274h18.4v1h-18.4zM173.7 282h18.4v1h-18.4zM173.7 314h18.4v1h-18.4zM173.7 324h18.4v1h-18.4zM173.7 329h18.4v1h-18.4zM173.7 344h18.4v1h-18.4zM173.7 360h18.4v1h-18.4zM173.7 373h18.4v1h-18.4zM192.1 88h18.4v1h-18.4zM192.1 97h18.4v1h-18.4zM192.1 108h18.4v1h-18.4zM192.1 112h18.4v1h-18.4zM192.1 117h18.4v2h-18.4zM192.1 127h18.4v2h-18.4zM192.1 138h18.4v1h-18.4zM192.1 145h18.4v2h-18.4zM192.1 160h18.4v1h-18.4zM192.1 163h18.4v1h-18.4zM192.1 179h18.4v1h-18.4zM192.1 181h18.4v3h-18.4zM192.1 186h18.4v1h-18.4zM192.1 206h18.4v1h-18.4zM192.1 217h18.4v1h-18.4zM192.1 222h18.4v1h-18.4zM192.1 265h18.4v1h-18.4zM192.1 325h18.4v1h-18.4zM192.1 342h18.4v1h-18.4zM192.1 366h18.4v1h-18.4zM192.1 368h18.4v1h-18.4zM192.1 373h18.4v1h-18.4zM192.1 415h18.4v1h-18.4zM210.5 214h18.5v1h-18.5zM210.5 221h18.5v1h-18.5zM210.5 244h18.5v1h-18.5zM210.5 296h18.5v1h-18.5zM210.5 301h18.5v1h-18.5zM210.5 307h18.5v1h-18.5zM210.5 309h18.5v1h-18.5zM210.5 334h18.5v1h-18.5zM210.5 354h18.5v1h-18.5zM210.5 366h18.5v1h-18.5zM210.5 390h18.5v1h-18.5zM210.5 411h18.5v1h-18.5zM229.0 83h18.4v5h-18.4zM229.0 92h18.4v1h-18.4zM229.0 111h18.4v1h-18.4zM229.0 138h18.4v1h-18.4zM229.0 141h18.4v1h-18.4zM229.0 149h18.4v3h-18.4zM229.0 153h18.4v1h-18.4zM229.0 166h18.4v1h-18.4zM229.0 169h18.4v2h-18.4zM229.0 172h18.4v1h-18.4zM229.0 185h18.4v1h-18.4zM229.0 196h18.4v1h-18.4zM229.0 324h18.4v6h-18.4zM229.0 364h18.4v1h-18.4zM229.0 375h18.4v1h-18.4zM247.4 90h18.5v1h-18.5zM247.4 108h18.5v1h-18.5zM247.4 148h18.5v1h-18.5zM247.4 150h18.5v1h-18.5zM247.4 188h18.5v2h-18.5zM247.4 195h18.5v2h-18.5zM247.4 200h18.5v1h-18.5zM247.4 203h18.5v1h-18.5zM247.4 210h18.5v1h-18.5zM247.4 218h18.5v1h-18.5zM247.4 221h18.5v1h-18.5zM247.4 226h18.5v1h-18.5zM247.4 237h18.5v1h-18.5zM247.4 239h18.5v2h-18.5zM247.4 251h18.5v2h-18.5zM247.4 261h18.5v1h-18.5zM247.4 294h18.5v2h-18.5zM247.4 339h18.5v1h-18.5zM247.4 360h18.5v1h-18.5zM247.4 364h18.5v3h-18.5zM247.4 378h18.5v1h-18.5zM247.4 403h18.5v1h-18.5zM247.4 414h18.5v1h-18.5zM247.4 419h18.5v1h-18.5zM247.4 422h18.5v1h-18.5zM247.4 425h18.5v1h-18.5zM247.4 427h18.5v1h-18.5zM247.4 430h18.5v1h-18.5zM247.4 433h18.5v1h-18.5zM265.9 94h18.5v1h-18.5zM265.9 98h18.5v1h-18.5zM265.9 100h18.5v1h-18.5zM265.9 104h18.5v1h-18.5zM265.9 106h18.5v1h-18.5zM265.9 141h18.5v1h-18.5zM265.9 167h18.5v1h-18.5zM265.9 171h18.5v1h-18.5zM265.9 196h18.5v1h-18.5zM265.9 211h18.5v1h-18.5zM265.9 213h18.5v1h-18.5zM265.9 236h18.5v1h-18.5zM265.9 243h18.5v1h-18.5zM265.9 251h18.5v1h-18.5zM265.9 264h18.5v1h-18.5zM265.9 273h18.5v1h-18.5zM265.9 283h18.5v1h-18.5zM265.9 285h18.5v1h-18.5zM265.9 292h18.5v2h-18.5zM265.9 295h18.5v1h-18.5zM265.9 320h18.5v1h-18.5zM265.9 339h18.5v1h-18.5zM265.9 345h18.5v1h-18.5zM265.9 362h18.5v1h-18.5zM265.9 372h18.5v1h-18.5zM265.9 390h18.5v2h-18.5zM265.9 399h18.5v1h-18.5zM265.9 409h18.5v1h-18.5zM265.9 411h18.5v2h-18.5zM284.4 90h18.4v1h-18.4zM284.4 117h18.4v1h-18.4zM284.4 140h18.4v1h-18.4zM284.4 195h18.4v1h-18.4zM284.4 199h18.4v1h-18.4zM284.4 202h18.4v1h-18.4zM284.4 215h18.4v1h-18.4zM284.4 222h18.4v1h-18.4zM284.4 227h18.4v1h-18.4zM284.4 318h18.4v1h-18.4zM284.4 322h18.4v1h-18.4zM284.4 361h18.4v2h-18.4zM284.4 403h18.4v1h-18.4zM284.4 415h18.4v1h-18.4zM284.4 433h18.4v1h-18.4zM302.8 101h18.4v1h-18.4zM302.8 141h18.4v1h-18.4zM302.8 145h18.4v1h-18.4zM302.8 174h18.4v2h-18.4zM302.8 191h18.4v1h-18.4zM302.8 216h18.4v1h-18.4zM302.8 221h18.4v1h-18.4zM302.8 265h18.4v1h-18.4zM302.8 271h18.4v1h-18.4zM302.8 280h18.4v2h-18.4zM302.8 286h18.4v1h-18.4zM302.8 291h18.4v1h-18.4zM302.8 320h18.4v1h-18.4zM302.8 324h18.4v1h-18.4zM302.8 328h18.4v1h-18.4zM302.8 333h18.4v1h-18.4zM302.8 339h18.4v3h-18.4zM302.8 344h18.4v1h-18.4zM302.8 370h18.4v3h-18.4zM302.8 385h18.4v1h-18.4zM302.8 412h18.4v1h-18.4zM321.2 86h18.5v1h-18.5zM321.2 145h18.5v1h-18.5zM321.2 171h18.5v2h-18.5zM321.2 179h18.5v1h-18.5zM321.2 183h18.5v1h-18.5zM321.2 218h18.5v1h-18.5zM321.2 239h18.5v1h-18.5zM321.2 242h18.5v2h-18.5zM321.2 252h18.5v1h-18.5zM321.2 282h18.5v1h-18.5zM321.2 307h18.5v1h-18.5zM321.2 357h18.5v1h-18.5zM321.2 397h18.5v1h-18.5zM321.2 403h18.5v1h-18.5zM339.7 282h18.4v1h-18.4zM339.7 284h18.4v1h-18.4zM339.7 288h18.4v1h-18.4zM339.7 298h18.4v1h-18.4zM339.7 300h18.4v1h-18.4zM339.7 302h18.4v1h-18.4zM339.7 305h18.4v1h-18.4zM339.7 394h18.4v1h-18.4zM339.7 400h18.4v1h-18.4zM339.7 414h18.4v1h-18.4z"/>
<path fill="#f8d893" d="M63.0 108h18.4v1h-18.4zM63.0 360h18.4v2h-18.4zM81.4 93h18.4v1h-18.4zM81.4 101h18.4v1h-18.4zM81.4 111h18.4v1h-18.4zM81.4 121h18.4v1h-18.4zM81.4 124h18.4v1h-18.4zM81.4 132h18.4v1h-18.4zM81.4 135h18.4v1h-18.4zM81.4 137h18.4v1h-18.4zM81.4 149h18.4v1h-18.4zM81.4 157h18.4v1h-18.4zM81.4 164h18.4v1h-18.4zM81.4 218h18.4v1h-18.4zM81.4 270h18.4v1h-18.4zM81.4 344h18.4v1h-18.4zM81.4 348h18.4v1h-18.4zM81.4 378h18.4v1h-18.4zM81.4 399h18.4v1h-18.4zM99.8 145h18.5v1h-18.5zM99.8 161h18.5v1h-18.5zM99.8 224h18.5v2h-18.5zM99.8 253h18.5v1h-18.5zM99.8 264h18.5v1h-18.5zM99.8 324h18.5v1h-18.5zM99.8 354h18.5v1h-18.5zM99.8 357h18.5v2h-18.5zM99.8 362h18.5v1h-18.5zM99.8 373h18.5v1h-18.5zM99.8 381h18.5v1h-18.5zM99.8 384h18.5v1h-18.5zM99.8 387h18.5v1h-18.5zM99.8 393h18.5v1h-18.5zM99.8 405h18.5v1h-18.5zM99.8 408h18.5v1h-18.5zM99.8 411h18.5v1h-18.5zM99.8 415h18.5v1h-18.5zM118.3 90h18.5v1h-18.5zM118.3 110h18.5v1h-18.5zM118.3 112h18.5v1h-18.5zM118.3 387h18.5v1h-18.5zM118.3 402h18.5v1h-18.5zM136.8 198h18.4v1h-18.4zM136.8 215h18.4v1h-18.4zM136.8 342h18.4v1h-18.4zM136.8 363h18.4v1h-18.4zM136.8 381h18.4v1h-18.4zM136.8 410h18.4v1h-18.4zM136.8 422h18.4v1h-18.4zM155.2 350h18.5v1h-18.5zM173.7 155h18.4v1h-18.4zM173.7 192h18.4v1h-18.4zM173.7 197h18.4v1h-18.4zM173.7 199h18.4v1h-18.4zM173.7 243h18.4v1h-18.4zM173.7 305h18.4v1h-18.4zM173.7 316h18.4v1h-18.4zM173.7 381h18.4v1h-18.4zM173.7 402h18.4v1h-18.4zM192.1 202h18.4v1h-18.4zM192.1 225h18.4v1h-18.4zM192.1 227h18.4v1h-18.4zM192.1 237h18.4v1h-18.4zM192.1 239h18.4v3h-18.4zM192.1 282h18.4v1h-18.4zM192.1 292h18.4v1h-18.4zM192.1 295h18.4v1h-18.4zM192.1 298h18.4v1h-18.4zM192.1 309h18.4v1h-18.4zM210.5 123h18.5v1h-18.5zM210.5 172h18.5v1h-18.5zM210.5 186h18.5v1h-18.5zM210.5 188h18.5v1h-18.5zM210.5 251h18.5v1h-18.5zM210.5 266h18.5v1h-18.5zM210.5 282h18.5v1h-18.5zM210.5 319h18.5v1h-18.5zM210.5 325h18.5v1h-18.5zM210.5 343h18.5v3h-18.5zM210.5 349h18.5v2h-18.5zM210.5 365h18.5v1h-18.5zM210.5 368h18.5v1h-18.5zM210.5 384h18.5v1h-18.5zM210.5 405h18.5v1h-18.5zM210.5 408h18.5v1h-18.5zM210.5 418h18.5v1h-18.5zM210.5 433h18.5v1h-18.5zM229.0 94h18.4v1h-18.4zM229.0 108h18.4v1h-18.4zM229.0 371h18.4v1h-18.4zM229.0 413h18.4v1h-18.4zM247.4 168h18.5v1h-18.5zM247.4 268h18.5v1h-18.5zM247.4 316h18.5v1h-18.5zM247.4 323h18.5v1h-18.5zM247.4 335h18.5v1h-18.5zM247.4 394h18.5v1h-18.5zM265.9 83h18.5v1h-18.5zM265.9 86h18.5v1h-18.5zM265.9 92h18.5v1h-18.5zM265.9 119h18.5v1h-18.5zM265.9 127h18.5v1h-18.5zM265.9 129h18.5v1h-18.5zM265.9 132h18.5v1h-18.5zM265.9 149h18.5v1h-18.5zM265.9 155h18.5v1h-18.5zM265.9 160h18.5v1h-18.5zM265.9 162h18.5v1h-18.5zM265.9 165h18.5v1h-18.5zM265.9 170h18.5v1h-18.5zM265.9 182h18.5v1h-18.5zM265.9 303h18.5v1h-18.5zM265.9 357h18.5v1h-18.5zM265.9 416h18.5v1h-18.5zM284.4 86h18.4v3h-18.4zM284.4 92h18.4v1h-18.4zM284.4 99h18.4v1h-18.4zM284.4 108h18.4v1h-18.4zM284.4 111h18.4v1h-18.4zM284.4 119h18.4v1h-18.4zM284.4 135h18.4v1h-18.4zM284.4 161h18.4v1h-18.4zM284.4 241h18.4v1h-18.4zM284.4 269h18.4v1h-18.4zM284.4 305h18.4v1h-18.4zM284.4 323h18.4v1h-18.4zM284.4 353h18.4v2h-18.4zM284.4 392h18.4v1h-18.4zM302.8 83h18.4v1h-18.4zM302.8 85h18.4v1h-18.4zM302.8 87h18.4v1h-18.4zM302.8 118h18.4v1h-18.4zM302.8 132h18.4v1h-18.4zM302.8 149h18.4v1h-18.4zM302.8 200h18.4v1h-18.4zM302.8 228h18.4v1h-18.4zM302.8 268h18.4v1h-18.4zM302.8 282h18.4v1h-18.4zM302.8 368h18.4v1h-18.4zM302.8 420h18.4v1h-18.4zM321.2 139h18.5v1h-18.5zM321.2 148h18.5v1h-18.5zM321.2 165h18.5v1h-18.5zM321.2 192h18.5v1h-18.5zM321.2 202h18.5v1h-18.5zM321.2 229h18.5v1h-18.5zM321.2 233h18.5v1h-18.5zM321.2 263h18.5v1h-18.5zM321.2 274h18.5v1h-18.5zM321.2 338h18.5v1h-18.5zM321.2 354h18.5v1h-18.5zM321.2 378h18.5v1h-18.5zM339.7 286h18.4v1h-18.4zM339.7 346h18.4v1h-18.4zM339.7 423h18.4v1h-18.4z"/>
<path fill="#e3d2ad" d="M63.0 120h18.4v1h-18.4zM63.0 145h18.4v2h-18.4zM63.0 148h18.4v2h-18.4zM63.0 158h18.4v1h-18.4zM63.0 167h18.4v1h-18.4zM63.0 178h18.4v1h-18.4zM63.0 182h18.4v1h-18.4zM63.0 271h18.4v1h-18.4zM63.0 273h18.4v1h-18.4zM63.0 276h18.4v1h-18.4zM63.0 282h18.4v1h-18.4zM63.0 313h18.4v1h-18.4zM63.0 338h18.4v2h-18.4zM63.0 344h18.4v1h-18.4zM63.0 348h18.4v1h-18.4zM63.0 357h18.4v1h-18.4zM63.0 367h18.4v1h-18.4zM63.0 373h18.4v1h-18.4zM63.0 375h18.4v1h-18.4zM63.0 388h18.4v1h-18.4zM63.0 390h18.4v1h-18.4zM63.0 393h18.4v1h-18.4zM63.0 397h18.4v1h-18.4zM63.0 400h18.4v1h-18.4zM63.0 408h18.4v1h-18.4zM63.0 412h18.4v2h-18.4zM81.4 109h18.4v1h-18.4zM81.4 117h18.4v1h-18.4zM81.4 145h18.4v1h-18.4zM81.4 153h18.4v2h-18.4zM81.4 173h18.4v1h-18.4zM81.4 175h18.4v1h-18.4zM81.4 178h18.4v2h-18.4zM81.4 192h18.4v1h-18.4zM81.4 194h18.4v2h-18.4zM81.4 197h18.4v1h-18.4zM81.4 208h18.4v2h-18.4zM81.4 230h18.4v1h-18.4zM81.4 236h18.4v1h-18.4zM81.4 239h18.4v1h-18.4zM81.4 281h18.4v1h-18.4zM81.4 283h18.4v1h-18.4zM81.4 303h18.4v1h-18.4zM81.4 346h18.4v1h-18.4zM81.4 374h18.4v1h-18.4zM81.4 408h18.4v1h-18.4zM99.8 181h18.5v1h-18.5zM99.8 187h18.5v1h-18.5zM99.8 191h18.5v1h-18.5zM99.8 198h18.5v1h-18.5zM99.8 217h18.5v1h-18.5zM99.8 219h18.5v1h-18.5zM99.8 221h18.5v1h-18.5zM99.8 240h18.5v1h-18.5zM99.8 251h18.5v2h-18.5zM99.8 258h18.5v2h-18.5zM99.8 265h18.5v1h-18.5zM99.8 267h18.5v1h-18.5zM99.8 274h18.5v1h-18.5zM99.8 276h18.5v2h-18.5zM99.8 283h18.5v1h-18.5zM99.8 288h18.5v1h-18.5zM99.8 290h18.5v1h-18.5zM99.8 298h18.5v1h-18.5zM99.8 306h18.5v1h-18.5zM99.8 308h18.5v1h-18.5zM99.8 312h18.5v1h-18.5zM99.8 316h18.5v1h-18.5zM99.8 325h18.5v1h-18.5zM99.8 330h18.5v1h-18.5zM99.8 332h18.5v1h-18.5zM99.8 337h18.5v1h-18.5zM99.8 375h18.5v1h-18.5zM99.8 398h18.5v1h-18.5zM99.8 428h18.5v2h-18.5zM118.3 143h18.5v1h-18.5zM118.3 146h18.5v2h-18.5zM118.3 160h18.5v1h-18.5zM118.3 163h18.5v1h-18.5zM118.3 171h18.5v1h-18.5zM118.3 173h18.5v1h-18.5zM118.3 176h18.5v1h-18.5zM118.3 191h18.5v3h-18.5zM118.3 209h18.5v1h-18.5zM118.3 299h18.5v1h-18.5zM118.3 327h18.5v1h-18.5zM118.3 340h18.5v1h-18.5zM136.8 180h18.4v1h-18.4zM136.8 182h18.4v1h-18.4zM136.8 188h18.4v1h-18.4zM136.8 202h18.4v1h-18.4zM136.8 211h18.4v1h-18.4zM136.8 223h18.4v2h-18.4zM136.8 230h18.4v1h-18.4zM136.8 241h18.4v1h-18.4zM136.8 243h18.4v1h-18.4zM136.8 255h18.4v1h-18.4zM136.8 277h18.4v1h-18.4zM136.8 305h18.4v1h-18.4zM136.8 309h18.4v1h-18.4zM173.7 98h18.4v1h-18.4zM173.7 137h18.4v1h-18.4zM173.7 173h18.4v1h-18.4zM173.7 213h18.4v1h-18.4zM173.7 269h18.4v1h-18.4zM173.7 272h18.4v1h-18.4zM173.7 281h18.4v1h-18.4zM173.7 287h18.4v1h-18.4zM173.7 293h18.4v1h-18.4zM173.7 308h18.4v1h-18.4zM173.7 321h18.4v1h-18.4zM173.7 323h18.4v1h-18.4zM173.7 387h18.4v1h-18.4zM192.1 84h18.4v1h-18.4zM192.1 90h18.4v1h-18.4zM192.1 101h18.4v1h-18.4zM192.1 103h18.4v1h-18.4zM192.1 143h18.4v1h-18.4zM192.1 149h18.4v1h-18.4zM192.1 151h18.4v1h-18.4zM192.1 154h18.4v1h-18.4zM192.1 165h18.4v1h-18.4zM192.1 172h18.4v1h-18.4zM192.1 177h18.4v2h-18.4zM192.1 184h18.4v1h-18.4zM192.1 196h18.4v1h-18.4zM192.1 208h18.4v1h-18.4zM192.1 214h18.4v1h-18.4zM192.1 223h18.4v1h-18.4zM192.1 249h18.4v1h-18.4zM192.1 252h18.4v1h-18.4zM192.1 257h18.4v1h-18.4zM192.1 276h18.4v2h-18.4zM192.1 289h18.4v1h-18.4zM192.1 356h18.4v1h-18.4zM192.1 367h18.4v1h-18.4zM192.1 371h18.4v1h-18.4zM192.1 393h18.4v1h-18.4zM210.5 249h18.5v1h-18.5zM210.5 278h18.5v1h-18.5zM210.5 297h18.5v2h-18.5zM210.5 312h18.5v1h-18.5zM210.5 321h18.5v1h-18.5zM210.5 369h18.5v1h-18.5zM210.5 382h18.5v1h-18.5zM210.5 391h18.5v1h-18.5zM210.5 399h18.5v1h-18.5zM210.5 402h18.5v1h-18.5zM210.5 413h18.5v1h-18.5zM210.5 422h18.5v1h-18.5zM229.0 93h18.4v1h-18.4zM229.0 109h18.4v2h-18.4zM229.0 137h18.4v1h-18.4zM229.0 142h18.4v1h-18.4zM229.0 177h18.4v1h-18.4zM229.0 189h18.4v1h-18.4zM229.0 195h18.4v1h-18.4zM229.0 347h18.4v1h-18.4zM229.0 352h18.4v1h-18.4zM229.0 358h18.4v1h-18.4zM229.0 376h18.4v1h-18.4zM229.0 409h18.4v1h-18.4zM229.0 415h18.4v1h-18.4zM247.4 138h18.5v1h-18.5zM247.4 151h18.5v1h-18.5zM247.4 153h18.5v1h-18.5zM247.4 161h18.5v1h-18.5zM247.4 171h18.5v1h-18.5zM247.4 194h18.5v1h-18.5zM247.4 201h18.5v1h-18.5zM247.4 206h18.5v4h-18.5zM247.4 213h18.5v1h-18.5zM247.4 219h18.5v1h-18.5zM247.4 223h18.5v2h-18.5zM247.4 227h18.5v2h-18.5zM247.4 231h18.5v1h-18.5zM247.4 259h18.5v1h-18.5zM247.4 291h18.5v1h-18.5zM247.4 311h18.5v1h-18.5zM247.4 357h18.5v1h-18.5zM247.4 393h18.5v1h-18.5zM247.4 396h18.5v1h-18.5zM247.4 401h18.5v1h-18.5zM247.4 408h18.5v1h-18.5zM247.4 417h18.5v1h-18.5zM247.4 424h18.5v1h-18.5zM265.9 90h18.5v2h-18.5zM265.9 109h18.5v1h-18.5zM265.9 124h18.5v2h-18.5zM265.9 157h18.5v1h-18.5zM265.9 168h18.5v1h-18.5zM265.9 215h18.5v1h-18.5zM265.9 277h18.5v1h-18.5zM265.9 279h18.5v1h-18.5zM265.9 317h18.5v2h-18.5zM265.9 321h18.5v1h-18.5zM265.9 323h18.5v1h-18.5zM265.9 332h18.5v1h-18.5zM265.9 346h18.5v1h-18.5zM265.9 369h18.5v1h-18.5zM265.9 378h18.5v1h-18.5zM265.9 410h18.5v1h-18.5zM265.9 424h18.5v1h-18.5zM284.4 83h18.4v2h-18.4zM284.4 94h18.4v1h-18.4zM284.4 113h18.4v1h-18.4zM284.4 121h18.4v2h-18.4zM284.4 131h18.4v1h-18.4zM284.4 157h18.4v1h-18.4zM284.4 181h18.4v1h-18.4zM284.4 190h18.4v2h-18.4zM284.4 200h18.4v1h-18.4zM284.4 213h18.4v1h-18.4zM284.4 239h18.4v1h-18.4zM284.4 248h18.4v2h-18.4zM284.4 279h18.4v1h-18.4zM284.4 302h18.4v1h-18.4zM284.4 317h18.4v1h-18.4zM284.4 319h18.4v1h-18.4zM284.4 335h18.4v1h-18.4zM284.4 365h18.4v1h-18.4zM284.4 371h18.4v2h-18.4zM284.4 388h18.4v1h-18.4zM284.4 398h18.4v2h-18.4zM284.4 414h18.4v1h-18.4zM284.4 422h18.4v1h-18.4zM284.4 424h18.4v1h-18.4zM302.8 119h18.4v1h-18.4zM302.8 152h18.4v1h-18.4zM302.8 159h18.4v1h-18.4zM302.8 184h18.4v1h-18.4zM302.8 234h18.4v1h-18.4zM302.8 240h18.4v1h-18.4zM302.8 248h18.4v1h-18.4zM302.8 279h18.4v1h-18.4zM302.8 285h18.4v1h-18.4zM302.8 319h18.4v1h-18.4zM302.8 321h18.4v1h-18.4zM302.8 330h18.4v1h-18.4zM302.8 373h18.4v1h-18.4zM302.8 377h18.4v1h-18.4zM321.2 84h18.5v1h-18.5zM321.2 134h18.5v2h-18.5zM321.2 162h18.5v1h-18.5zM321.2 170h18.5v1h-18.5zM321.2 182h18.5v1h-18.5zM321.2 184h18.5v1h-18.5zM321.2 219h18.5v1h-18.5zM321.2 238h18.5v1h-18.5zM321.2 240h18.5v1h-18.5zM321.2 251h18.5v1h-18.5zM321.2 256h18.5v1h-18.5zM321.2 268h18.5v1h-18.5zM321.2 281h18.5v1h-18.5zM321.2 291h18.5v1h-18.5zM321.2 306h18.5v1h-18.5zM321.2 310h18.5v1h-18.5zM321.2 326h18.5v1h-18.5zM321.2 360h18.5v1h-18.5zM321.2 370h18.5v1h-18.5zM321.2 398h18.5v1h-18.5zM321.2 428h18.5v1h-18.5zM339.7 285h18.4v1h-18.4zM339.7 299h18.4v1h-18.4zM339.7 303h18.4v2h-18.4zM339.7 307h18.4v1h-18.4zM339.7 313h18.4v2h-18.4zM339.7 351h18.4v1h-18.4z"/>
<path fill="#e1d1b1" d="M63.0 128h18.4v1h-18.4zM63.0 130h18.4v1h-18.4zM63.0 181h18.4v1h-18.4zM63.0 208h18.4v1h-18.4zM63.0 243h18.4v1h-18.4zM63.0 247h18.4v1h-18.4zM63.0 281h18.4v1h-18.4zM63.0 283h18.4v1h-18.4zM63.0 288h18.4v1h-18.4zM63.0 290h18.4v1h-18.4zM63.0 326h18.4v1h-18.4zM63.0 328h18.4v1h-18.4zM63.0 331h18.4v1h-18.4zM63.0 340h18.4v1h-18.4zM63.0 365h18.4v1h-18.4zM63.0 376h18.4v1h-18.4zM63.0 383h18.4v1h-18.4zM63.0 407h18.4v1h-18.4zM81.4 130h18.4v1h-18.4zM81.4 176h18.4v1h-18.4zM81.4 196h18.4v1h-18.4zM81.4 219h18.4v1h-18.4zM81.4 237h18.4v2h-18.4zM81.4 297h18.4v1h-18.4zM81.4 304h18.4v1h-18.4zM81.4 380h18.4v1h-18.4zM81.4 400h18.4v1h-18.4zM99.8 180h18.5v1h-18.5zM99.8 207h18.5v1h-18.5zM99.8 209h18.5v1h-18.5zM99.8 216h18.5v1h-18.5zM99.8 218h18.5v1h-18.5zM99.8 233h18.5v2h-18.5zM99.8 239h18.5v1h-18.5zM99.8 256h18.5v1h-18.5zM99.8 278h18.5v1h-18.5zM99.8 287h18.5v1h-18.5zM99.8 304h18.5v1h-18.5zM99.8 322h18.5v1h-18.5zM99.8 341h18.5v1h-18.5zM99.8 364h18.5v1h-18.5zM99.8 377h18.5v1h-18.5zM99.8 410h18.5v1h-18.5zM99.8 417h18.5v1h-18.5zM118.3 98h18.5v1h-18.5zM118.3 152h18.5v1h-18.5zM118.3 166h18.5v1h-18.5zM118.3 179h18.5v1h-18.5zM118.3 186h18.5v1h-18.5zM118.3 188h18.5v1h-18.5zM118.3 190h18.5v1h-18.5zM118.3 201h18.5v1h-18.5zM118.3 212h18.5v1h-18.5zM118.3 219h18.5v1h-18.5zM118.3 271h18.5v1h-18.5zM118.3 339h18.5v1h-18.5zM136.8 175h18.4v1h-18.4zM136.8 177h18.4v1h-18.4zM136.8 191h18.4v1h-18.4zM136.8 200h18.4v1h-18.4zM136.8 212h18.4v1h-18.4zM136.8 219h18.4v1h-18.4zM136.8 227h18.4v1h-18.4zM136.8 231h18.4v1h-18.4zM136.8 249h18.4v1h-18.4zM136.8 276h18.4v1h-18.4zM136.8 295h18.4v1h-18.4zM136.8 299h18.4v1h-18.4zM136.8 308h18.4v1h-18.4zM173.7 180h18.4v1h-18.4zM173.7 193h18.4v1h-18.4zM173.7 211h18.4v1h-18.4zM173.7 286h18.4v1h-18.4zM173.7 289h18.4v1h-18.4zM173.7 301h18.4v1h-18.4zM173.7 307h18.4v1h-18.4zM173.7 386h18.4v1h-18.4zM173.7 400h18.4v1h-18.4zM173.7 406h18.4v1h-18.4zM173.7 408h18.4v3h-18.4zM192.1 96h18.4v1h-18.4zM192.1 100h18.4v1h-18.4zM192.1 115h18.4v1h-18.4zM192.1 124h18.4v3h-18.4zM192.1 144h18.4v1h-18.4zM192.1 148h18.4v1h-18.4zM192.1 187h18.4v1h-18.4zM192.1 215h18.4v1h-18.4zM192.1 248h18.4v1h-18.4zM192.1 254h18.4v1h-18.4zM192.1 297h18.4v1h-18.4zM192.1 314h18.4v1h-18.4zM192.1 326h18.4v1h-18.4zM192.1 332h18.4v1h-18.4zM192.1 343h18.4v1h-18.4zM192.1 392h18.4v1h-18.4zM192.1 413h18.4v2h-18.4zM210.5 255h18.5v1h-18.5zM210.5 264h18.5v1h-18.5zM210.5 323h18.5v1h-18.5zM210.5 328h18.5v1h-18.5zM210.5 412h18.5v1h-18.5zM210.5 423h18.5v1h-18.5zM229.0 118h18.4v1h-18.4zM229.0 176h18.4v1h-18.4zM229.0 184h18.4v1h-18.4zM229.0 188h18.4v1h-18.4zM229.0 193h18.4v2h-18.4zM229.0 197h18.4v1h-18.4zM229.0 366h18.4v1h-18.4zM229.0 377h18.4v1h-18.4zM229.0 399h18.4v2h-18.4zM229.0 410h18.4v1h-18.4zM229.0 414h18.4v1h-18.4zM229.0 416h18.4v2h-18.4zM229.0 419h18.4v1h-18.4zM247.4 100h18.5v2h-18.5zM247.4 140h18.5v1h-18.5zM247.4 146h18.5v1h-18.5zM247.4 149h18.5v1h-18.5zM247.4 152h18.5v1h-18.5zM247.4 164h18.5v1h-18.5zM247.4 204h18.5v1h-18.5zM247.4 214h18.5v1h-18.5zM247.4 229h18.5v1h-18.5zM247.4 257h18.5v1h-18.5zM247.4 287h18.5v1h-18.5zM247.4 292h18.5v2h-18.5zM247.4 361h18.5v1h-18.5zM247.4 372h18.5v2h-18.5zM247.4 406h18.5v2h-18.5zM247.4 413h18.5v1h-18.5zM247.4 429h18.5v1h-18.5zM247.4 431h18.5v1h-18.5zM265.9 144h18.5v1h-18.5zM265.9 177h18.5v1h-18.5zM265.9 223h18.5v1h-18.5zM265.9 234h18.5v1h-18.5zM265.9 269h18.5v2h-18.5zM265.9 280h18.5v1h-18.5zM265.9 284h18.5v1h-18.5zM265.9 294h18.5v1h-18.5zM265.9 340h18.5v1h-18.5zM265.9 342h18.5v2h-18.5zM265.9 352h18.5v1h-18.5zM265.9 377h18.5v1h-18.5zM265.9 381h18.5v1h-18.5zM265.9 398h18.5v1h-18.5zM265.9 406h18.5v1h-18.5zM265.9 423h18.5v1h-18.5zM284.4 93h18.4v1h-18.4zM284.4 112h18.4v1h-18.4zM284.4 125h18.4v1h-18.4zM284.4 150h18.4v1h-18.4zM284.4 155h18.4v2h-18.4zM284.4 182h18.4v1h-18.4zM284.4 197h18.4v1h-18.4zM284.4 221h18.4v1h-18.4zM284.4 226h18.4v1h-18.4zM284.4 238h18.4v1h-18.4zM284.4 271h18.4v1h-18.4zM284.4 273h18.4v1h-18.4zM284.4 277h18.4v1h-18.4zM284.4 344h18.4v1h-18.4zM284.4 357h18.4v1h-18.4zM284.4 363h18.4v1h-18.4zM284.4 381h18.4v1h-18.4zM284.4 412h18.4v1h-18.4zM302.8 143h18.4v1h-18.4zM302.8 157h18.4v1h-18.4zM302.8 196h18.4v1h-18.4zM302.8 288h18.4v1h-18.4zM302.8 310h18.4v1h-18.4zM302.8 317h18.4v1h-18.4zM302.8 329h18.4v1h-18.4zM302.8 345h18.4v2h-18.4zM302.8 374h18.4v1h-18.4zM302.8 393h18.4v1h-18.4zM302.8 411h18.4v1h-18.4zM302.8 416h18.4v1h-18.4zM302.8 424h18.4v1h-18.4zM321.2 83h18.5v1h-18.5zM321.2 89h18.5v1h-18.5zM321.2 110h18.5v1h-18.5zM321.2 124h18.5v1h-18.5zM321.2 146h18.5v1h-18.5zM321.2 178h18.5v1h-18.5zM321.2 181h18.5v1h-18.5zM321.2 228h18.5v1h-18.5zM321.2 250h18.5v1h-18.5zM321.2 257h18.5v3h-18.5zM321.2 275h18.5v1h-18.5zM321.2 290h18.5v1h-18.5zM321.2 311h18.5v1h-18.5zM321.2 327h18.5v2h-18.5zM321.2 342h18.5v1h-18.5zM321.2 362h18.5v1h-18.5zM321.2 418h18.5v1h-18.5zM321.2 429h18.5v1h-18.5zM339.7 283h18.4v1h-18.4zM339.7 306h18.4v1h-18.4zM339.7 312h18.4v1h-18.4zM339.7 348h18.4v1h-18.4zM339.7 353h18.4v1h-18.4zM339.7 359h18.4v1h-18.4zM339.7 369h18.4v1h-18.4z"/>
<path fill="#ded0b4" d="M63.0 129h18.4v1h-18.4zM63.0 131h18.4v1h-18.4zM63.0 159h18.4v2h-18.4zM63.0 241h18.4v1h-18.4zM81.4 116h18.4v1h-18.4zM81.4 139h18.4v1h-18.4zM81.4 180h18.4v1h-18.4zM81.4 184h18.4v1h-18.4zM81.4 202h18.4v1h-18.4zM81.4 212h18.4v2h-18.4zM81.4 220h18.4v1h-18.4zM81.4 280h18.4v1h-18.4zM81.4 311h18.4v1h-18.4zM81.4 376h18.4v1h-18.4zM81.4 389h18.4v1h-18.4zM81.4 409h18.4v1h-18.4zM81.4 429h18.4v2h-18.4zM99.8 186h18.5v1h-18.5zM99.8 199h18.5v1h-18.5zM99.8 210h18.5v1h-18.5zM99.8 232h18.5v1h-18.5zM99.8 236h18.5v1h-18.5zM99.8 352h18.5v1h-18.5zM99.8 404h18.5v1h-18.5zM99.8 419h18.5v1h-18.5zM99.8 421h18.5v1h-18.5zM118.3 92h18.5v1h-18.5zM118.3 159h18.5v1h-18.5zM118.3 165h18.5v1h-18.5zM118.3 196h18.5v1h-18.5zM118.3 200h18.5v1h-18.5zM118.3 205h18.5v1h-18.5zM118.3 220h18.5v1h-18.5zM118.3 275h18.5v1h-18.5zM118.3 295h18.5v1h-18.5zM118.3 301h18.5v1h-18.5zM118.3 319h18.5v1h-18.5zM118.3 324h18.5v1h-18.5zM136.8 179h18.4v1h-18.4zM136.8 192h18.4v1h-18.4zM173.7 88h18.4v1h-18.4zM173.7 115h18.4v1h-18.4zM173.7 216h18.4v1h-18.4zM173.7 233h18.4v1h-18.4zM173.7 284h18.4v2h-18.4zM173.7 348h18.4v1h-18.4zM173.7 392h18.4v1h-18.4zM192.1 152h18.4v1h-18.4zM192.1 193h18.4v1h-18.4zM192.1 207h18.4v1h-18.4zM192.1 253h18.4v1h-18.4zM192.1 305h18.4v1h-18.4zM192.1 394h18.4v1h-18.4zM192.1 405h18.4v1h-18.4zM210.5 257h18.5v1h-18.5zM210.5 291h18.5v1h-18.5zM210.5 373h18.5v1h-18.5zM210.5 401h18.5v1h-18.5zM210.5 415h18.5v1h-18.5zM229.0 167h18.4v1h-18.4zM229.0 171h18.4v1h-18.4zM229.0 191h18.4v1h-18.4zM229.0 198h18.4v2h-18.4zM229.0 338h18.4v1h-18.4zM229.0 346h18.4v1h-18.4zM229.0 394h18.4v1h-18.4zM229.0 408h18.4v1h-18.4zM229.0 418h18.4v1h-18.4zM247.4 88h18.5v1h-18.5zM247.4 199h18.5v1h-18.5zM247.4 236h18.5v1h-18.5zM247.4 246h18.5v1h-18.5zM247.4 276h18.5v1h-18.5zM247.4 340h18.5v1h-18.5zM247.4 349h18.5v1h-18.5zM247.4 363h18.5v1h-18.5zM247.4 383h18.5v1h-18.5zM247.4 390h18.5v1h-18.5zM247.4 411h18.5v1h-18.5zM265.9 95h18.5v1h-18.5zM265.9 185h18.5v1h-18.5zM265.9 214h18.5v1h-18.5zM265.9 233h18.5v1h-18.5zM265.9 341h18.5v1h-18.5zM284.4 124h18.4v1h-18.4zM284.4 138h18.4v1h-18.4zM284.4 141h18.4v1h-18.4zM284.4 164h18.4v1h-18.4zM284.4 167h18.4v2h-18.4zM284.4 173h18.4v1h-18.4zM284.4 196h18.4v1h-18.4zM284.4 211h18.4v1h-18.4zM284.4 217h18.4v1h-18.4zM284.4 332h18.4v1h-18.4zM284.4 343h18.4v1h-18.4zM284.4 386h18.4v1h-18.4zM302.8 97h18.4v1h-18.4zM302.8 99h18.4v1h-18.4zM302.8 122h18.4v1h-18.4zM302.8 137h18.4v2h-18.4zM302.8 195h18.4v1h-18.4zM302.8 197h18.4v3h-18.4zM302.8 316h18.4v1h-18.4zM302.8 375h18.4v1h-18.4zM302.8 402h18.4v1h-18.4zM321.2 85h18.5v1h-18.5zM321.2 88h18.5v1h-18.5zM321.2 106h18.5v1h-18.5zM321.2 151h18.5v1h-18.5zM321.2 213h18.5v1h-18.5zM321.2 241h18.5v1h-18.5zM321.2 245h18.5v1h-18.5zM321.2 303h18.5v2h-18.5zM321.2 324h18.5v1h-18.5zM321.2 361h18.5v1h-18.5zM321.2 396h18.5v1h-18.5z"/>
<path fill="#d4cdc0" d="M63.0 141h18.4v1h-18.4zM63.0 227h18.4v1h-18.4zM63.0 259h18.4v1h-18.4zM63.0 295h18.4v1h-18.4zM81.4 365h18.4v1h-18.4zM81.4 406h18.4v1h-18.4zM118.3 155h18.5v1h-18.5zM118.3 180h18.5v1h-18.5zM118.3 203h18.5v1h-18.5zM118.3 206h18.5v1h-18.5zM118.3 277h18.5v1h-18.5zM118.3 293h18.5v1h-18.5zM136.8 297h18.4v1h-18.4zM173.7 157h18.4v1h-18.4zM192.1 213h18.4v1h-18.4zM210.5 210h18.5v1h-18.5zM210.5 302h18.5v1h-18.5zM210.5 367h18.5v1h-18.5zM210.5 421h18.5v1h-18.5zM229.0 183h18.4v1h-18.4zM229.0 204h18.4v1h-18.4zM229.0 383h18.4v1h-18.4zM229.0 386h18.4v1h-18.4zM229.0 420h18.4v1h-18.4zM247.4 315h18.5v1h-18.5zM247.4 384h18.5v1h-18.5zM265.9 145h18.5v1h-18.5zM265.9 156h18.5v1h-18.5zM265.9 174h18.5v1h-18.5zM265.9 344h18.5v1h-18.5zM284.4 89h18.4v1h-18.4zM284.4 137h18.4v1h-18.4zM284.4 165h18.4v1h-18.4zM284.4 176h18.4v1h-18.4zM284.4 206h18.4v1h-18.4zM284.4 411h18.4v1h-18.4zM302.8 413h18.4v1h-18.4zM321.2 168h18.5v1h-18.5zM321.2 223h18.5v1h-18.5zM321.2 331h18.5v1h-18.5zM321.2 399h18.5v1h-18.5zM339.7 366h18.4v1h-18.4zM339.7 406h18.4v1h-18.4z"/>
<path fill="#eed6a1" d="M63.0 143h18.4v1h-18.4zM63.0 165h18.4v1h-18.4zM63.0 236h18.4v1h-18.4zM63.0 287h18.4v1h-18.4zM63.0 301h18.4v2h-18.4zM63.0 312h18.4v1h-18.4zM63.0 352h18.4v1h-18.4zM63.0 362h18.4v1h-18.4zM63.0 385h18.4v1h-18.4zM63.0 392h18.4v1h-18.4zM63.0 395h18.4v1h-18.4zM63.0 402h18.4v1h-18.4zM81.4 156h18.4v1h-18.4zM81.4 186h18.4v2h-18.4zM81.4 198h18.4v1h-18.4zM81.4 246h18.4v1h-18.4zM81.4 249h18.4v1h-18.4zM81.4 256h18.4v1h-18.4zM81.4 260h18.4v1h-18.4zM81.4 273h18.4v1h-18.4zM81.4 275h18.4v1h-18.4zM81.4 326h18.4v2h-18.4zM81.4 366h18.4v1h-18.4zM81.4 379h18.4v1h-18.4zM99.8 171h18.5v1h-18.5zM99.8 177h18.5v2h-18.5zM99.8 189h18.5v1h-18.5zM99.8 193h18.5v2h-18.5zM99.8 205h18.5v2h-18.5zM99.8 213h18.5v2h-18.5zM99.8 222h18.5v1h-18.5zM99.8 230h18.5v1h-18.5zM99.8 241h18.5v1h-18.5zM99.8 244h18.5v1h-18.5zM99.8 248h18.5v3h-18.5zM99.8 280h18.5v1h-18.5zM99.8 285h18.5v1h-18.5zM118.3 107h18.5v1h-18.5zM118.3 308h18.5v1h-18.5zM118.3 325h18.5v1h-18.5zM136.8 171h18.4v1h-18.4zM136.8 189h18.4v1h-18.4zM136.8 210h18.4v1h-18.4zM136.8 246h18.4v1h-18.4zM136.8 266h18.4v1h-18.4zM136.8 270h18.4v1h-18.4zM136.8 280h18.4v1h-18.4zM136.8 301h18.4v1h-18.4zM173.7 91h18.4v1h-18.4zM173.7 141h18.4v1h-18.4zM173.7 162h18.4v1h-18.4zM173.7 174h18.4v1h-18.4zM173.7 179h18.4v1h-18.4zM173.7 226h18.4v1h-18.4zM173.7 268h18.4v1h-18.4zM173.7 299h18.4v1h-18.4zM173.7 309h18.4v1h-18.4zM173.7 330h18.4v1h-18.4zM173.7 385h18.4v1h-18.4zM173.7 395h18.4v2h-18.4zM173.7 398h18.4v1h-18.4zM173.7 407h18.4v1h-18.4zM192.1 85h18.4v1h-18.4zM192.1 87h18.4v1h-18.4zM192.1 89h18.4v1h-18.4zM192.1 99h18.4v1h-18.4zM192.1 123h18.4v1h-18.4zM192.1 157h18.4v1h-18.4zM192.1 180h18.4v1h-18.4zM192.1 189h18.4v1h-18.4zM192.1 255h18.4v1h-18.4zM192.1 333h18.4v1h-18.4zM192.1 431h18.4v1h-18.4zM210.5 212h18.5v2h-18.5zM210.5 217h18.5v1h-18.5zM210.5 219h18.5v1h-18.5zM210.5 245h18.5v1h-18.5zM210.5 311h18.5v1h-18.5zM210.5 356h18.5v1h-18.5zM210.5 370h18.5v1h-18.5zM210.5 377h18.5v1h-18.5zM210.5 403h18.5v1h-18.5zM229.0 117h18.4v1h-18.4zM229.0 152h18.4v1h-18.4zM229.0 165h18.4v1h-18.4zM229.0 173h18.4v1h-18.4zM229.0 178h18.4v1h-18.4zM229.0 190h18.4v1h-18.4zM229.0 192h18.4v1h-18.4zM229.0 351h18.4v1h-18.4zM229.0 357h18.4v1h-18.4zM229.0 363h18.4v1h-18.4zM229.0 389h18.4v1h-18.4zM247.4 96h18.5v1h-18.5zM247.4 102h18.5v1h-18.5zM247.4 109h18.5v1h-18.5zM247.4 120h18.5v1h-18.5zM247.4 225h18.5v1h-18.5zM247.4 242h18.5v1h-18.5zM247.4 248h18.5v3h-18.5zM247.4 254h18.5v1h-18.5zM247.4 256h18.5v1h-18.5zM247.4 258h18.5v1h-18.5zM247.4 262h18.5v2h-18.5zM247.4 286h18.5v1h-18.5zM247.4 310h18.5v1h-18.5zM247.4 325h18.5v1h-18.5zM247.4 410h18.5v1h-18.5zM247.4 423h18.5v1h-18.5zM265.9 88h18.5v2h-18.5zM265.9 93h18.5v1h-18.5zM265.9 139h18.5v1h-18.5zM265.9 195h18.5v1h-18.5zM265.9 199h18.5v1h-18.5zM265.9 267h18.5v2h-18.5zM265.9 271h18.5v1h-18.5zM265.9 278h18.5v1h-18.5zM265.9 281h18.5v1h-18.5zM265.9 319h18.5v1h-18.5zM265.9 361h18.5v1h-18.5zM284.4 95h18.4v1h-18.4zM284.4 129h18.4v2h-18.4zM284.4 183h18.4v1h-18.4zM284.4 205h18.4v1h-18.4zM284.4 208h18.4v2h-18.4zM284.4 214h18.4v1h-18.4zM284.4 216h18.4v1h-18.4zM284.4 220h18.4v1h-18.4zM284.4 225h18.4v1h-18.4zM284.4 229h18.4v2h-18.4zM284.4 272h18.4v1h-18.4zM284.4 340h18.4v1h-18.4zM284.4 420h18.4v1h-18.4zM284.4 423h18.4v1h-18.4zM284.4 425h18.4v1h-18.4zM302.8 108h18.4v1h-18.4zM302.8 158h18.4v1h-18.4zM302.8 189h18.4v1h-18.4zM302.8 215h18.4v1h-18.4zM302.8 239h18.4v1h-18.4zM302.8 258h18.4v1h-18.4zM302.8 292h18.4v1h-18.4zM302.8 305h18.4v1h-18.4zM302.8 327h18.4v1h-18.4zM302.8 342h18.4v1h-18.4zM302.8 418h18.4v1h-18.4zM302.8 423h18.4v1h-18.4zM321.2 150h18.5v1h-18.5zM321.2 194h18.5v1h-18.5zM321.2 277h18.5v1h-18.5zM321.2 280h18.5v1h-18.5zM339.7 308h18.4v1h-18.4zM339.7 361h18.4v1h-18.4zM339.7 413h18.4v1h-18.4z"/>
<path fill="#dbd0b7" d="M63.0 150h18.4v2h-18.4zM63.0 174h18.4v1h-18.4zM63.0 177h18.4v1h-18.4zM63.0 217h18.4v1h-18.4zM63.0 275h18.4v1h-18.4zM63.0 294h18.4v1h-18.4zM63.0 309h18.4v1h-18.4zM63.0 317h18.4v3h-18.4zM81.4 100h18.4v1h-18.4zM81.4 106h18.4v2h-18.4zM81.4 140h18.4v2h-18.4zM81.4 147h18.4v1h-18.4zM81.4 171h18.4v2h-18.4zM81.4 211h18.4v1h-18.4zM81.4 257h18.4v1h-18.4zM81.4 276h18.4v2h-18.4zM81.4 298h18.4v1h-18.4zM81.4 309h18.4v2h-18.4zM81.4 363h18.4v1h-18.4zM81.4 407h18.4v1h-18.4zM81.4 427h18.4v2h-18.4zM99.8 197h18.5v1h-18.5zM99.8 391h18.5v1h-18.5zM99.8 395h18.5v1h-18.5zM99.8 418h18.5v1h-18.5zM118.3 87h18.5v1h-18.5zM118.3 105h18.5v1h-18.5zM118.3 117h18.5v2h-18.5zM118.3 120h18.5v1h-18.5zM118.3 139h18.5v1h-18.5zM118.3 161h18.5v2h-18.5zM118.3 170h18.5v1h-18.5zM118.3 178h18.5v1h-18.5zM118.3 182h18.5v1h-18.5zM118.3 185h18.5v1h-18.5zM118.3 194h18.5v1h-18.5zM118.3 198h18.5v1h-18.5zM118.3 204h18.5v1h-18.5zM118.3 213h18.5v1h-18.5zM118.3 269h18.5v2h-18.5zM118.3 281h18.5v1h-18.5zM118.3 284h18.5v1h-18.5zM118.3 289h18.5v1h-18.5zM118.3 294h18.5v1h-18.5zM118.3 297h18.5v1h-18.5zM118.3 333h18.5v1h-18.5zM118.3 335h18.5v1h-18.5zM118.3 341h18.5v1h-18.5zM136.8 193h18.4v2h-18.4zM136.8 206h18.4v3h-18.4zM136.8 251h18.4v1h-18.4zM136.8 298h18.4v1h-18.4zM173.7 116h18.4v1h-18.4zM173.7 132h18.4v1h-18.4zM173.7 276h18.4v1h-18.4zM173.7 288h18.4v1h-18.4zM173.7 295h18.4v1h-18.4zM173.7 383h18.4v1h-18.4zM173.7 399h18.4v1h-18.4zM192.1 245h18.4v1h-18.4zM192.1 251h18.4v1h-18.4zM192.1 315h18.4v1h-18.4zM210.5 242h18.5v1h-18.5zM210.5 246h18.5v1h-18.5zM210.5 248h18.5v1h-18.5zM210.5 250h18.5v1h-18.5zM210.5 256h18.5v1h-18.5zM210.5 260h18.5v1h-18.5zM210.5 263h18.5v1h-18.5zM210.5 375h18.5v2h-18.5zM210.5 420h18.5v1h-18.5zM229.0 164h18.4v1h-18.4zM229.0 168h18.4v1h-18.4zM229.0 387h18.4v1h-18.4zM229.0 395h18.4v1h-18.4zM229.0 407h18.4v1h-18.4zM229.0 432h18.4v1h-18.4zM247.4 154h18.5v1h-18.5zM247.4 181h18.5v2h-18.5zM247.4 198h18.5v1h-18.5zM247.4 216h18.5v1h-18.5zM247.4 235h18.5v1h-18.5zM247.4 247h18.5v1h-18.5zM247.4 376h18.5v1h-18.5zM265.9 97h18.5v1h-18.5zM265.9 108h18.5v1h-18.5zM265.9 178h18.5v1h-18.5zM265.9 187h18.5v2h-18.5zM265.9 272h18.5v1h-18.5zM265.9 274h18.5v1h-18.5zM265.9 338h18.5v1h-18.5zM284.4 166h18.4v1h-18.4zM284.4 169h18.4v3h-18.4zM284.4 175h18.4v1h-18.4zM284.4 192h18.4v1h-18.4zM284.4 207h18.4v1h-18.4zM284.4 224h18.4v1h-18.4zM284.4 260h18.4v2h-18.4zM284.4 334h18.4v1h-18.4zM284.4 341h18.4v1h-18.4zM284.4 417h18.4v1h-18.4zM302.8 136h18.4v1h-18.4zM302.8 140h18.4v1h-18.4zM302.8 156h18.4v1h-18.4zM302.8 194h18.4v1h-18.4zM302.8 214h18.4v1h-18.4zM302.8 410h18.4v1h-18.4zM321.2 167h18.5v1h-18.5zM321.2 212h18.5v1h-18.5zM321.2 224h18.5v1h-18.5zM321.2 244h18.5v1h-18.5zM321.2 249h18.5v1h-18.5zM321.2 302h18.5v1h-18.5zM321.2 305h18.5v1h-18.5zM321.2 325h18.5v1h-18.5zM321.2 329h18.5v1h-18.5zM321.2 400h18.5v2h-18.5zM321.2 417h18.5v1h-18.5zM339.7 401h18.4v1h-18.4z"/>
<path fill="#fdd380" d="M63.0 154h18.4v1h-18.4zM63.0 211h18.4v1h-18.4zM63.0 221h18.4v1h-18.4zM63.0 225h18.4v1h-18.4zM63.0 256h18.4v1h-18.4zM63.0 306h18.4v1h-18.4zM63.0 324h18.4v1h-18.4zM63.0 333h18.4v1h-18.4zM81.4 289h18.4v1h-18.4zM81.4 370h18.4v1h-18.4zM99.8 94h18.5v1h-18.5zM99.8 148h18.5v1h-18.5zM99.8 296h18.5v1h-18.5zM118.3 123h18.5v1h-18.5zM118.3 129h18.5v1h-18.5zM118.3 169h18.5v1h-18.5zM118.3 302h18.5v1h-18.5zM118.3 326h18.5v1h-18.5zM118.3 404h18.5v1h-18.5zM118.3 418h18.5v1h-18.5zM118.3 431h18.5v1h-18.5zM136.8 185h18.4v1h-18.4zM136.8 216h18.4v1h-18.4zM136.8 232h18.4v2h-18.4zM136.8 240h18.4v1h-18.4zM136.8 262h18.4v1h-18.4zM136.8 264h18.4v1h-18.4zM136.8 415h18.4v1h-18.4zM155.2 87h18.5v1h-18.5zM155.2 338h18.5v1h-18.5zM173.7 129h18.4v1h-18.4zM173.7 189h18.4v1h-18.4zM173.7 196h18.4v1h-18.4zM173.7 278h18.4v1h-18.4zM173.7 290h18.4v1h-18.4zM173.7 350h18.4v1h-18.4zM173.7 375h18.4v1h-18.4zM173.7 388h18.4v2h-18.4zM192.1 258h18.4v1h-18.4zM192.1 354h18.4v1h-18.4zM192.1 360h18.4v1h-18.4zM210.5 94h18.5v1h-18.5zM210.5 105h18.5v1h-18.5zM210.5 114h18.5v1h-18.5zM210.5 194h18.5v1h-18.5zM210.5 234h18.5v1h-18.5zM210.5 284h18.5v1h-18.5zM229.0 156h18.4v1h-18.4zM229.0 350h18.4v1h-18.4zM229.0 370h18.4v1h-18.4zM247.4 118h18.5v1h-18.5zM247.4 304h18.5v1h-18.5zM247.4 397h18.5v1h-18.5zM265.9 306h18.5v1h-18.5zM265.9 337h18.5v1h-18.5zM284.4 146h18.4v1h-18.4zM284.4 274h18.4v1h-18.4zM284.4 293h18.4v1h-18.4zM284.4 337h18.4v1h-18.4zM284.4 382h18.4v1h-18.4zM284.4 389h18.4v1h-18.4zM302.8 131h18.4v1h-18.4zM302.8 155h18.4v1h-18.4zM302.8 222h18.4v1h-18.4zM302.8 274h18.4v1h-18.4zM302.8 284h18.4v1h-18.4zM302.8 297h18.4v1h-18.4zM302.8 322h18.4v1h-18.4zM302.8 338h18.4v1h-18.4zM302.8 361h18.4v1h-18.4zM321.2 107h18.5v1h-18.5zM321.2 122h18.5v1h-18.5zM321.2 144h18.5v1h-18.5zM321.2 294h18.5v1h-18.5zM321.2 300h18.5v1h-18.5zM321.2 321h18.5v1h-18.5zM321.2 345h18.5v1h-18.5zM321.2 409h18.5v1h-18.5zM339.7 347h18.4v1h-18.4zM339.7 354h18.4v1h-18.4zM339.7 358h18.4v1h-18.4zM339.7 373h18.4v1h-18.4zM339.7 399h18.4v1h-18.4zM339.7 409h18.4v1h-18.4zM339.7 420h18.4v1h-18.4z"/>
<path fill="#f2d79c" d="M63.0 156h18.4v1h-18.4zM63.0 237h18.4v1h-18.4zM63.0 240h18.4v1h-18.4zM81.4 84h18.4v1h-18.4zM81.4 119h18.4v1h-18.4zM81.4 155h18.4v1h-18.4zM81.4 182h18.4v1h-18.4zM81.4 320h18.4v1h-18.4zM81.4 381h18.4v1h-18.4zM99.8 172h18.5v1h-18.5zM99.8 182h18.5v1h-18.5zM99.8 262h18.5v1h-18.5zM99.8 286h18.5v1h-18.5zM99.8 311h18.5v1h-18.5zM99.8 331h18.5v1h-18.5zM99.8 397h18.5v1h-18.5zM118.3 86h18.5v1h-18.5zM118.3 94h18.5v1h-18.5zM118.3 108h18.5v1h-18.5zM118.3 164h18.5v1h-18.5zM118.3 329h18.5v1h-18.5zM136.8 197h18.4v1h-18.4zM136.8 279h18.4v1h-18.4zM136.8 288h18.4v1h-18.4zM173.7 126h18.4v1h-18.4zM173.7 175h18.4v1h-18.4zM173.7 310h18.4v1h-18.4zM192.1 111h18.4v1h-18.4zM192.1 122h18.4v1h-18.4zM192.1 150h18.4v1h-18.4zM192.1 156h18.4v1h-18.4zM192.1 169h18.4v1h-18.4zM192.1 195h18.4v1h-18.4zM192.1 406h18.4v1h-18.4zM210.5 218h18.5v1h-18.5zM210.5 335h18.5v1h-18.5zM210.5 392h18.5v1h-18.5zM210.5 398h18.5v1h-18.5zM210.5 400h18.5v1h-18.5zM229.0 361h18.4v1h-18.4zM229.0 382h18.4v1h-18.4zM247.4 230h18.5v1h-18.5zM247.4 233h18.5v1h-18.5zM247.4 244h18.5v1h-18.5zM265.9 87h18.5v1h-18.5zM265.9 173h18.5v1h-18.5zM265.9 203h18.5v1h-18.5zM265.9 222h18.5v1h-18.5zM265.9 275h18.5v1h-18.5zM284.4 100h18.4v1h-18.4zM284.4 116h18.4v1h-18.4zM284.4 198h18.4v1h-18.4zM284.4 407h18.4v1h-18.4zM302.8 144h18.4v1h-18.4zM302.8 235h18.4v1h-18.4zM302.8 249h18.4v1h-18.4zM302.8 376h18.4v1h-18.4zM302.8 394h18.4v1h-18.4zM302.8 417h18.4v1h-18.4zM321.2 279h18.5v1h-18.5zM321.2 292h18.5v1h-18.5zM339.7 289h18.4v1h-18.4z"/>
<path fill="#d6cebe" d="M63.0 228h18.4v1h-18.4zM63.0 257h18.4v1h-18.4zM63.0 262h18.4v1h-18.4zM63.0 308h18.4v1h-18.4zM81.4 99h18.4v1h-18.4zM81.4 142h18.4v1h-18.4zM81.4 258h18.4v1h-18.4zM81.4 362h18.4v1h-18.4zM81.4 431h18.4v1h-18.4zM99.8 317h18.5v2h-18.5zM99.8 320h18.5v1h-18.5zM99.8 394h18.5v1h-18.5zM99.8 396h18.5v1h-18.5zM99.8 422h18.5v1h-18.5zM118.3 197h18.5v1h-18.5zM118.3 210h18.5v1h-18.5zM118.3 214h18.5v1h-18.5zM118.3 221h18.5v1h-18.5zM118.3 274h18.5v1h-18.5zM118.3 283h18.5v1h-18.5zM118.3 286h18.5v1h-18.5zM118.3 296h18.5v1h-18.5zM118.3 338h18.5v1h-18.5zM136.8 204h18.4v1h-18.4zM136.8 250h18.4v1h-18.4zM136.8 296h18.4v1h-18.4zM173.7 114h18.4v1h-18.4zM173.7 158h18.4v2h-18.4zM173.7 190h18.4v1h-18.4zM173.7 342h18.4v2h-18.4zM173.7 347h18.4v1h-18.4zM173.7 401h18.4v1h-18.4zM192.1 209h18.4v1h-18.4zM192.1 216h18.4v1h-18.4zM192.1 250h18.4v1h-18.4zM192.1 400h18.4v2h-18.4zM210.5 211h18.5v1h-18.5zM210.5 226h18.5v2h-18.5zM210.5 238h18.5v1h-18.5zM210.5 262h18.5v1h-18.5zM210.5 360h18.5v2h-18.5zM210.5 431h18.5v1h-18.5zM229.0 203h18.4v1h-18.4zM229.0 337h18.4v1h-18.4zM229.0 388h18.4v1h-18.4zM229.0 401h18.4v1h-18.4zM229.0 406h18.4v1h-18.4zM247.4 155h18.5v1h-18.5zM247.4 183h18.5v1h-18.5zM247.4 197h18.5v1h-18.5zM247.4 270h18.5v1h-18.5zM247.4 285h18.5v1h-18.5zM265.9 96h18.5v1h-18.5zM265.9 143h18.5v1h-18.5zM265.9 325h18.5v1h-18.5zM265.9 363h18.5v1h-18.5zM284.4 85h18.4v1h-18.4zM284.4 174h18.4v1h-18.4zM284.4 193h18.4v1h-18.4zM284.4 212h18.4v1h-18.4zM284.4 276h18.4v1h-18.4zM284.4 278h18.4v1h-18.4zM284.4 295h18.4v1h-18.4zM284.4 331h18.4v1h-18.4zM302.8 100h18.4v1h-18.4zM302.8 135h18.4v1h-18.4zM302.8 168h18.4v1h-18.4zM302.8 255h18.4v1h-18.4zM302.8 290h18.4v1h-18.4zM302.8 425h18.4v1h-18.4zM321.2 153h18.5v1h-18.5zM321.2 166h18.5v1h-18.5zM321.2 211h18.5v1h-18.5zM321.2 214h18.5v1h-18.5zM321.2 323h18.5v1h-18.5zM339.7 367h18.4v1h-18.4zM339.7 404h18.4v1h-18.4z"/>
<path fill="#d1ccc2" d="M63.0 229h18.4v1h-18.4zM99.8 321h18.5v1h-18.5zM173.7 84h18.4v1h-18.4zM173.7 411h18.4v1h-18.4zM210.5 209h18.5v1h-18.5zM210.5 265h18.5v1h-18.5zM247.4 211h18.5v1h-18.5zM284.4 139h18.4v1h-18.4zM284.4 429h18.4v1h-18.4zM321.2 109h18.5v1h-18.5zM339.7 405h18.4v1h-18.4z"/>
<path fill="#f7d896" d="M63.0 296h18.4v1h-18.4zM63.0 336h18.4v1h-18.4zM63.0 341h18.4v1h-18.4zM81.4 88h18.4v1h-18.4zM81.4 91h18.4v1h-18.4zM81.4 98h18.4v1h-18.4zM81.4 114h18.4v1h-18.4zM81.4 123h18.4v1h-18.4zM81.4 127h18.4v2h-18.4zM81.4 151h18.4v1h-18.4zM81.4 158h18.4v1h-18.4zM81.4 161h18.4v1h-18.4zM81.4 312h18.4v1h-18.4zM81.4 398h18.4v1h-18.4zM99.8 175h18.5v1h-18.5zM99.8 378h18.5v1h-18.5zM99.8 380h18.5v1h-18.5zM99.8 414h18.5v1h-18.5zM99.8 416h18.5v1h-18.5zM118.3 354h18.5v1h-18.5zM118.3 360h18.5v1h-18.5zM118.3 412h18.5v1h-18.5zM136.8 409h18.4v1h-18.4zM155.2 334h18.5v1h-18.5zM173.7 201h18.4v1h-18.4zM173.7 264h18.4v1h-18.4zM192.1 232h18.4v1h-18.4zM192.1 238h18.4v1h-18.4zM192.1 247h18.4v1h-18.4zM192.1 260h18.4v1h-18.4zM192.1 278h18.4v1h-18.4zM192.1 301h18.4v1h-18.4zM192.1 336h18.4v1h-18.4zM210.5 299h18.5v1h-18.5zM210.5 308h18.5v1h-18.5zM210.5 314h18.5v1h-18.5zM210.5 329h18.5v1h-18.5zM210.5 331h18.5v3h-18.5zM210.5 338h18.5v1h-18.5zM210.5 340h18.5v2h-18.5zM210.5 348h18.5v1h-18.5zM210.5 357h18.5v1h-18.5zM210.5 364h18.5v1h-18.5zM229.0 103h18.4v1h-18.4zM229.0 398h18.4v1h-18.4zM247.4 367h18.5v1h-18.5zM265.9 122h18.5v1h-18.5zM265.9 126h18.5v1h-18.5zM265.9 131h18.5v1h-18.5zM265.9 142h18.5v1h-18.5zM265.9 166h18.5v1h-18.5zM265.9 183h18.5v1h-18.5zM265.9 316h18.5v1h-18.5zM265.9 380h18.5v1h-18.5zM284.4 104h18.4v1h-18.4zM284.4 110h18.4v1h-18.4zM284.4 133h18.4v1h-18.4zM284.4 245h18.4v2h-18.4zM284.4 366h18.4v1h-18.4zM284.4 374h18.4v1h-18.4zM302.8 150h18.4v1h-18.4zM302.8 223h18.4v1h-18.4zM302.8 357h18.4v1h-18.4zM321.2 195h18.5v1h-18.5zM321.2 272h18.5v1h-18.5zM339.7 315h18.4v1h-18.4z"/>
<path fill="#f6d898" d="M81.4 118h18.4v1h-18.4zM81.4 159h18.4v1h-18.4zM81.4 166h18.4v1h-18.4zM99.8 97h18.5v1h-18.5zM99.8 195h18.5v2h-18.5zM99.8 275h18.5v1h-18.5zM99.8 282h18.5v1h-18.5zM99.8 323h18.5v1h-18.5zM118.3 99h18.5v1h-18.5zM118.3 175h18.5v1h-18.5zM118.3 317h18.5v1h-18.5zM136.8 183h18.4v1h-18.4zM173.7 315h18.4v1h-18.4zM192.1 147h18.4v1h-18.4zM192.1 158h18.4v1h-18.4zM192.1 200h18.4v1h-18.4zM192.1 210h18.4v1h-18.4zM192.1 230h18.4v1h-18.4zM192.1 269h18.4v1h-18.4zM192.1 275h18.4v1h-18.4zM192.1 279h18.4v1h-18.4zM192.1 308h18.4v1h-18.4zM210.5 267h18.5v1h-18.5zM210.5 318h18.5v1h-18.5zM210.5 353h18.5v1h-18.5zM210.5 362h18.5v1h-18.5zM210.5 381h18.5v1h-18.5zM210.5 385h18.5v1h-18.5zM210.5 388h18.5v1h-18.5zM265.9 84h18.5v1h-18.5zM265.9 102h18.5v1h-18.5zM265.9 105h18.5v1h-18.5zM265.9 111h18.5v1h-18.5zM265.9 153h18.5v1h-18.5zM265.9 180h18.5v1h-18.5zM265.9 198h18.5v1h-18.5zM265.9 282h18.5v1h-18.5zM284.4 120h18.4v1h-18.4zM302.8 343h18.4v1h-18.4zM302.8 348h18.4v1h-18.4zM321.2 413h18.5v1h-18.5zM339.7 290h18.4v1h-18.4z"/>
<path fill="#bcc5db" d="M81.4 203h18.4v1h-18.4zM118.3 215h18.5v2h-18.5zM118.3 218h18.5v1h-18.5zM118.3 228h18.5v1h-18.5zM118.3 231h18.5v1h-18.5zM118.3 290h18.5v3h-18.5zM118.3 346h18.5v2h-18.5zM192.1 306h18.4v1h-18.4zM210.5 201h18.5v1h-18.5zM210.5 273h18.5v4h-18.5zM229.0 205h18.4v1h-18.4zM229.0 208h18.4v3h-18.4zM229.0 212h18.4v4h-18.4zM229.0 219h18.4v1h-18.4zM229.0 233h18.4v2h-18.4zM229.0 313h18.4v1h-18.4zM229.0 317h18.4v7h-18.4zM265.9 152h18.5v1h-18.5zM265.9 190h18.5v1h-18.5zM265.9 200h18.5v1h-18.5zM265.9 206h18.5v1h-18.5zM265.9 210h18.5v1h-18.5zM265.9 221h18.5v1h-18.5zM265.9 224h18.5v1h-18.5zM265.9 227h18.5v1h-18.5zM265.9 230h18.5v1h-18.5zM265.9 248h18.5v1h-18.5zM265.9 252h18.5v2h-18.5zM265.9 256h18.5v1h-18.5zM265.9 258h18.5v2h-18.5zM265.9 262h18.5v1h-18.5zM265.9 265h18.5v2h-18.5zM265.9 289h18.5v1h-18.5zM265.9 298h18.5v1h-18.5zM265.9 302h18.5v1h-18.5zM265.9 329h18.5v1h-18.5zM321.2 159h18.5v1h-18.5zM339.7 227h18.4v1h-18.4zM339.7 241h18.4v1h-18.4zM339.7 243h18.4v1h-18.4zM339.7 275h18.4v6h-18.4zM339.7 332h18.4v1h-18.4zM339.7 334h18.4v1h-18.4zM339.7 338h18.4v1h-18.4zM339.7 342h18.4v1h-18.4zM339.7 402h18.4v1h-18.4zM376.6 168h18.5v1h-18.5z"/>
<path fill="#ea8f2d" d="M81.4 367h18.4v1h-18.4zM136.8 138h18.4v1h-18.4zM155.2 149h18.5v1h-18.5zM173.7 164h18.4v1h-18.4zM173.7 341h18.4v1h-18.4zM173.7 355h18.4v1h-18.4zM229.0 121h18.4v1h-18.4zM247.4 87h18.5v1h-18.5zM265.9 154h18.5v1h-18.5zM265.9 175h18.5v1h-18.5zM284.4 364h18.4v1h-18.4zM284.4 394h18.4v1h-18.4zM321.2 247h18.5v1h-18.5zM321.2 411h18.5v1h-18.5z"/>
<path fill="#c85000" d="M81.4 393h18.4v1h-18.4zM81.4 396h18.4v1h-18.4zM81.4 422h18.4v1h-18.4zM81.4 433h18.4v1h-18.4zM173.7 405h18.4v1h-18.4zM192.1 171h18.4v1h-18.4zM284.4 145h18.4v1h-18.4zM284.4 256h18.4v2h-18.4zM284.4 309h18.4v1h-18.4zM302.8 113h18.4v1h-18.4zM302.8 408h18.4v1h-18.4zM321.2 261h18.5v1h-18.5z"/>
<path fill="#fdc75f" d="M99.8 83h18.5v1h-18.5zM99.8 113h18.5v1h-18.5zM99.8 128h18.5v2h-18.5zM118.3 369h18.5v1h-18.5zM118.3 371h18.5v1h-18.5zM118.3 390h18.5v1h-18.5zM136.8 114h18.4v2h-18.4zM136.8 120h18.4v1h-18.4zM136.8 123h18.4v1h-18.4zM136.8 147h18.4v1h-18.4zM136.8 159h18.4v1h-18.4zM136.8 321h18.4v1h-18.4zM136.8 347h18.4v1h-18.4zM136.8 368h18.4v1h-18.4zM136.8 373h18.4v1h-18.4zM136.8 377h18.4v2h-18.4zM136.8 428h18.4v1h-18.4zM136.8 431h18.4v1h-18.4zM155.2 88h18.5v1h-18.5zM155.2 103h18.5v1h-18.5zM155.2 105h18.5v1h-18.5zM155.2 111h18.5v1h-18.5zM155.2 116h18.5v1h-18.5zM155.2 129h18.5v1h-18.5zM155.2 136h18.5v1h-18.5zM155.2 155h18.5v1h-18.5zM155.2 162h18.5v1h-18.5zM155.2 167h18.5v4h-18.5zM155.2 181h18.5v1h-18.5zM155.2 183h18.5v1h-18.5zM155.2 189h18.5v1h-18.5zM155.2 191h18.5v1h-18.5zM155.2 195h18.5v2h-18.5zM155.2 200h18.5v1h-18.5zM155.2 205h18.5v2h-18.5zM155.2 219h18.5v1h-18.5zM155.2 236h18.5v1h-18.5zM155.2 246h18.5v1h-18.5zM155.2 261h18.5v1h-18.5zM155.2 266h18.5v1h-18.5zM155.2 270h18.5v1h-18.5zM155.2 274h18.5v1h-18.5zM155.2 316h18.5v3h-18.5zM155.2 353h18.5v2h-18.5zM155.2 361h18.5v1h-18.5zM155.2 381h18.5v1h-18.5zM155.2 387h18.5v1h-18.5zM155.2 406h18.5v2h-18.5zM210.5 196h18.5v1h-18.5z"/>
<path fill="#fdc964" d="M99.8 84h18.5v1h-18.5zM99.8 127h18.5v1h-18.5zM99.8 141h18.5v2h-18.5zM99.8 154h18.5v2h-18.5zM118.3 396h18.5v1h-18.5zM118.3 409h18.5v1h-18.5zM118.3 411h18.5v1h-18.5zM118.3 425h18.5v1h-18.5zM136.8 84h18.4v1h-18.4zM136.8 87h18.4v1h-18.4zM136.8 89h18.4v2h-18.4zM136.8 92h18.4v1h-18.4zM136.8 99h18.4v1h-18.4zM136.8 108h18.4v1h-18.4zM136.8 113h18.4v1h-18.4zM136.8 118h18.4v1h-18.4zM136.8 122h18.4v1h-18.4zM136.8 127h18.4v3h-18.4zM136.8 131h18.4v1h-18.4zM136.8 150h18.4v1h-18.4zM136.8 157h18.4v1h-18.4zM136.8 165h18.4v1h-18.4zM136.8 344h18.4v1h-18.4zM136.8 346h18.4v1h-18.4zM136.8 360h18.4v1h-18.4zM136.8 371h18.4v1h-18.4zM136.8 433h18.4v1h-18.4zM155.2 83h18.5v1h-18.5zM155.2 93h18.5v2h-18.5zM155.2 96h18.5v2h-18.5zM155.2 99h18.5v1h-18.5zM155.2 101h18.5v1h-18.5zM155.2 104h18.5v1h-18.5zM155.2 114h18.5v1h-18.5zM155.2 117h18.5v1h-18.5zM155.2 119h18.5v1h-18.5zM155.2 123h18.5v1h-18.5zM155.2 126h18.5v1h-18.5zM155.2 128h18.5v1h-18.5zM155.2 130h18.5v1h-18.5zM155.2 138h18.5v1h-18.5zM155.2 144h18.5v1h-18.5zM155.2 148h18.5v1h-18.5zM155.2 151h18.5v1h-18.5zM155.2 158h18.5v1h-18.5zM155.2 160h18.5v1h-18.5zM155.2 182h18.5v1h-18.5zM155.2 188h18.5v1h-18.5zM155.2 203h18.5v1h-18.5zM155.2 208h18.5v1h-18.5zM155.2 217h18.5v1h-18.5zM155.2 225h18.5v1h-18.5zM155.2 228h18.5v1h-18.5zM155.2 234h18.5v1h-18.5zM155.2 253h18.5v1h-18.5zM155.2 265h18.5v1h-18.5zM155.2 272h18.5v1h-18.5zM155.2 275h18.5v1h-18.5zM155.2 283h18.5v1h-18.5zM155.2 295h18.5v1h-18.5zM155.2 304h18.5v2h-18.5zM155.2 308h18.5v2h-18.5zM155.2 314h18.5v1h-18.5zM155.2 323h18.5v1h-18.5zM155.2 325h18.5v1h-18.5zM155.2 355h18.5v1h-18.5zM155.2 364h18.5v1h-18.5zM155.2 367h18.5v1h-18.5zM155.2 380h18.5v1h-18.5zM155.2 385h18.5v2h-18.5zM155.2 389h18.5v1h-18.5zM155.2 391h18.5v2h-18.5zM155.2 403h18.5v1h-18.5zM155.2 408h18.5v1h-18.5zM155.2 419h18.5v1h-18.5zM155.2 428h18.5v1h-18.5zM155.2 430h18.5v1h-18.5zM155.2 433h18.5v1h-18.5zM210.5 118h18.5v1h-18.5zM210.5 131h18.5v1h-18.5z"/>
<path fill="#fdce72" d="M99.8 95h18.5v2h-18.5zM118.3 384h18.5v1h-18.5zM118.3 426h18.5v1h-18.5zM118.3 429h18.5v1h-18.5zM136.8 98h18.4v1h-18.4zM136.8 105h18.4v1h-18.4zM136.8 117h18.4v1h-18.4zM136.8 132h18.4v1h-18.4zM136.8 135h18.4v1h-18.4zM136.8 137h18.4v1h-18.4zM136.8 148h18.4v1h-18.4zM136.8 161h18.4v1h-18.4zM136.8 166h18.4v1h-18.4zM136.8 331h18.4v1h-18.4zM136.8 361h18.4v1h-18.4zM136.8 369h18.4v1h-18.4zM136.8 389h18.4v1h-18.4zM155.2 109h18.5v1h-18.5zM155.2 115h18.5v1h-18.5zM155.2 118h18.5v1h-18.5zM155.2 137h18.5v1h-18.5zM155.2 139h18.5v1h-18.5zM155.2 147h18.5v1h-18.5zM155.2 154h18.5v1h-18.5zM155.2 173h18.5v2h-18.5zM155.2 185h18.5v2h-18.5zM155.2 207h18.5v1h-18.5zM155.2 230h18.5v1h-18.5zM155.2 238h18.5v2h-18.5zM155.2 241h18.5v1h-18.5zM155.2 243h18.5v1h-18.5zM155.2 248h18.5v1h-18.5zM155.2 258h18.5v1h-18.5zM155.2 264h18.5v1h-18.5zM155.2 279h18.5v1h-18.5zM155.2 284h18.5v1h-18.5zM155.2 293h18.5v1h-18.5zM155.2 327h18.5v1h-18.5zM155.2 331h18.5v1h-18.5zM155.2 343h18.5v1h-18.5zM155.2 351h18.5v1h-18.5zM155.2 356h18.5v1h-18.5zM155.2 373h18.5v1h-18.5zM155.2 383h18.5v1h-18.5zM210.5 130h18.5v1h-18.5z"/>
<path fill="#fdcc6d" d="M99.8 112h18.5v1h-18.5zM99.8 140h18.5v1h-18.5zM118.3 372h18.5v1h-18.5zM118.3 389h18.5v1h-18.5zM118.3 410h18.5v1h-18.5zM118.3 428h18.5v1h-18.5zM136.8 83h18.4v1h-18.4zM136.8 85h18.4v1h-18.4zM136.8 88h18.4v1h-18.4zM136.8 96h18.4v1h-18.4zM136.8 104h18.4v1h-18.4zM136.8 106h18.4v1h-18.4zM136.8 109h18.4v1h-18.4zM136.8 116h18.4v1h-18.4zM136.8 121h18.4v1h-18.4zM136.8 130h18.4v1h-18.4zM136.8 133h18.4v1h-18.4zM136.8 160h18.4v1h-18.4zM136.8 162h18.4v1h-18.4zM136.8 164h18.4v1h-18.4zM136.8 317h18.4v2h-18.4zM136.8 336h18.4v1h-18.4zM136.8 343h18.4v1h-18.4zM136.8 362h18.4v1h-18.4zM136.8 375h18.4v1h-18.4zM136.8 386h18.4v1h-18.4zM136.8 429h18.4v1h-18.4zM136.8 432h18.4v1h-18.4zM155.2 90h18.5v1h-18.5zM155.2 125h18.5v1h-18.5zM155.2 140h18.5v4h-18.5zM155.2 153h18.5v1h-18.5zM155.2 156h18.5v1h-18.5zM155.2 165h18.5v2h-18.5zM155.2 172h18.5v1h-18.5zM155.2 193h18.5v1h-18.5zM155.2 198h18.5v1h-18.5zM155.2 201h18.5v1h-18.5zM155.2 204h18.5v1h-18.5zM155.2 220h18.5v2h-18.5zM155.2 223h18.5v1h-18.5zM155.2 226h18.5v1h-18.5zM155.2 242h18.5v1h-18.5zM155.2 244h18.5v1h-18.5zM155.2 250h18.5v1h-18.5zM155.2 257h18.5v1h-18.5zM155.2 263h18.5v1h-18.5zM155.2 267h18.5v2h-18.5zM155.2 271h18.5v1h-18.5zM155.2 276h18.5v2h-18.5zM155.2 285h18.5v2h-18.5zM155.2 289h18.5v1h-18.5zM155.2 300h18.5v1h-18.5zM155.2 302h18.5v1h-18.5zM155.2 307h18.5v1h-18.5zM155.2 310h18.5v1h-18.5zM155.2 312h18.5v1h-18.5zM155.2 321h18.5v1h-18.5zM155.2 326h18.5v1h-18.5zM155.2 330h18.5v1h-18.5zM155.2 332h18.5v2h-18.5zM155.2 344h18.5v1h-18.5zM155.2 357h18.5v2h-18.5zM155.2 360h18.5v1h-18.5zM155.2 388h18.5v1h-18.5zM155.2 390h18.5v1h-18.5zM155.2 395h18.5v1h-18.5zM155.2 397h18.5v1h-18.5zM155.2 414h18.5v2h-18.5zM155.2 423h18.5v1h-18.5zM210.5 170h18.5v1h-18.5z"/>
<path fill="#fdc55a" d="M99.8 131h18.5v2h-18.5zM118.3 408h18.5v1h-18.5zM136.8 94h18.4v1h-18.4zM136.8 101h18.4v1h-18.4zM136.8 111h18.4v1h-18.4zM136.8 126h18.4v1h-18.4zM136.8 139h18.4v1h-18.4zM136.8 323h18.4v1h-18.4zM136.8 387h18.4v1h-18.4zM155.2 107h18.5v1h-18.5zM155.2 112h18.5v1h-18.5zM155.2 124h18.5v1h-18.5zM155.2 135h18.5v1h-18.5zM155.2 145h18.5v1h-18.5zM155.2 197h18.5v1h-18.5zM155.2 216h18.5v1h-18.5zM155.2 218h18.5v1h-18.5zM155.2 237h18.5v1h-18.5zM155.2 255h18.5v1h-18.5zM155.2 262h18.5v1h-18.5zM155.2 288h18.5v1h-18.5zM155.2 292h18.5v1h-18.5zM155.2 371h18.5v1h-18.5zM155.2 384h18.5v1h-18.5zM155.2 396h18.5v1h-18.5zM155.2 411h18.5v1h-18.5zM155.2 421h18.5v1h-18.5zM210.5 142h18.5v1h-18.5z"/>
<path fill="#fdd077" d="M99.8 135h18.5v1h-18.5zM118.3 427h18.5v1h-18.5zM136.8 110h18.4v1h-18.4zM136.8 153h18.4v1h-18.4zM136.8 257h18.4v1h-18.4zM136.8 372h18.4v1h-18.4zM136.8 376h18.4v1h-18.4zM136.8 430h18.4v1h-18.4zM155.2 110h18.5v1h-18.5zM155.2 120h18.5v1h-18.5zM155.2 131h18.5v1h-18.5zM155.2 184h18.5v1h-18.5zM155.2 229h18.5v1h-18.5zM155.2 251h18.5v1h-18.5zM155.2 299h18.5v1h-18.5zM155.2 340h18.5v1h-18.5zM155.2 429h18.5v1h-18.5zM210.5 135h18.5v1h-18.5zM265.9 354h18.5v1h-18.5z"/>
<path fill="#b8c4e0" d="M118.3 217h18.5v1h-18.5zM118.3 225h18.5v1h-18.5zM118.3 246h18.5v1h-18.5zM229.0 200h18.4v1h-18.4zM229.0 315h18.4v1h-18.4zM265.9 193h18.5v2h-18.5zM265.9 204h18.5v1h-18.5zM265.9 207h18.5v1h-18.5zM265.9 228h18.5v2h-18.5zM265.9 237h18.5v1h-18.5zM265.9 239h18.5v1h-18.5zM265.9 249h18.5v1h-18.5zM265.9 287h18.5v1h-18.5zM339.7 256h18.4v1h-18.4zM339.7 322h18.4v1h-18.4zM339.7 327h18.4v3h-18.4zM339.7 337h18.4v1h-18.4zM339.7 344h18.4v1h-18.4z"/>
<path fill="#bec6d8" d="M118.3 222h18.5v2h-18.5zM118.3 229h18.5v1h-18.5zM118.3 244h18.5v1h-18.5zM229.0 201h18.4v1h-18.4zM229.0 216h18.4v1h-18.4zM229.0 224h18.4v1h-18.4zM229.0 235h18.4v1h-18.4zM229.0 242h18.4v1h-18.4zM229.0 309h18.4v1h-18.4zM229.0 312h18.4v1h-18.4zM229.0 333h18.4v1h-18.4zM265.9 217h18.5v3h-18.5zM265.9 244h18.5v1h-18.5zM265.9 250h18.5v1h-18.5zM265.9 254h18.5v2h-18.5zM265.9 261h18.5v1h-18.5zM265.9 312h18.5v1h-18.5zM339.7 232h18.4v3h-18.4zM339.7 236h18.4v2h-18.4zM339.7 240h18.4v1h-18.4zM339.7 242h18.4v1h-18.4zM339.7 248h18.4v1h-18.4zM339.7 252h18.4v1h-18.4zM339.7 319h18.4v1h-18.4zM339.7 331h18.4v1h-18.4zM339.7 333h18.4v1h-18.4zM339.7 339h18.4v1h-18.4zM339.7 341h18.4v1h-18.4zM339.7 345h18.4v1h-18.4z"/>
<path fill="#bac5dd" d="M118.3 224h18.5v1h-18.5zM118.3 226h18.5v2h-18.5zM118.3 230h18.5v1h-18.5zM118.3 251h18.5v1h-18.5zM118.3 254h18.5v1h-18.5zM229.0 211h18.4v1h-18.4zM229.0 217h18.4v2h-18.4zM229.0 232h18.4v1h-18.4zM229.0 241h18.4v1h-18.4zM229.0 244h18.4v1h-18.4zM229.0 314h18.4v1h-18.4zM229.0 332h18.4v1h-18.4zM265.9 191h18.5v1h-18.5zM265.9 208h18.5v1h-18.5zM265.9 220h18.5v1h-18.5zM265.9 225h18.5v1h-18.5zM265.9 231h18.5v1h-18.5zM265.9 240h18.5v2h-18.5zM265.9 246h18.5v1h-18.5zM265.9 263h18.5v1h-18.5zM265.9 288h18.5v1h-18.5zM265.9 296h18.5v2h-18.5zM339.7 230h18.4v2h-18.4zM339.7 235h18.4v1h-18.4zM339.7 244h18.4v1h-18.4zM339.7 246h18.4v1h-18.4zM339.7 255h18.4v1h-18.4zM339.7 323h18.4v3h-18.4zM339.7 335h18.4v2h-18.4zM339.7 340h18.4v1h-18.4zM339.7 343h18.4v1h-18.4z"/>
<path fill="#84b0d7" d="M118.3 232h18.5v1h-18.5zM118.3 235h18.5v1h-18.5zM118.3 241h18.5v1h-18.5zM118.3 247h18.5v1h-18.5zM118.3 250h18.5v1h-18.5zM118.3 257h18.5v1h-18.5zM229.0 222h18.4v1h-18.4zM229.0 228h18.4v1h-18.4zM229.0 231h18.4v1h-18.4zM229.0 238h18.4v1h-18.4zM229.0 255h18.4v1h-18.4zM229.0 258h18.4v1h-18.4zM229.0 299h18.4v1h-18.4zM229.0 302h18.4v2h-18.4zM229.0 311h18.4v1h-18.4zM229.0 336h18.4v1h-18.4zM339.7 249h18.4v1h-18.4zM339.7 263h18.4v1h-18.4zM339.7 271h18.4v1h-18.4zM339.7 316h18.4v1h-18.4zM376.6 425h18.5v1h-18.5z"/>
<path fill="#88b2d8" d="M118.3 233h18.5v2h-18.5zM118.3 238h18.5v2h-18.5zM118.3 242h18.5v1h-18.5zM118.3 248h18.5v2h-18.5zM118.3 253h18.5v1h-18.5zM118.3 255h18.5v2h-18.5zM118.3 262h18.5v1h-18.5zM136.8 168h18.4v1h-18.4zM192.1 153h18.4v1h-18.4zM192.1 192h18.4v1h-18.4zM229.0 229h18.4v1h-18.4zM229.0 236h18.4v1h-18.4zM229.0 239h18.4v1h-18.4zM229.0 243h18.4v1h-18.4zM229.0 245h18.4v2h-18.4zM229.0 252h18.4v2h-18.4zM229.0 256h18.4v2h-18.4zM229.0 261h18.4v1h-18.4zM229.0 263h18.4v4h-18.4zM229.0 274h18.4v1h-18.4zM229.0 294h18.4v1h-18.4zM229.0 298h18.4v1h-18.4zM229.0 300h18.4v1h-18.4zM229.0 316h18.4v1h-18.4zM247.4 220h18.5v1h-18.5zM302.8 139h18.4v1h-18.4zM339.7 251h18.4v1h-18.4zM339.7 253h18.4v1h-18.4zM339.7 262h18.4v1h-18.4zM339.7 267h18.4v1h-18.4zM339.7 317h18.4v1h-18.4zM339.7 330h18.4v1h-18.4z"/>
<path fill="#8db4d9" d="M118.3 236h18.5v1h-18.5zM118.3 240h18.5v1h-18.5zM118.3 252h18.5v1h-18.5zM118.3 267h18.5v1h-18.5zM229.0 230h18.4v1h-18.4zM229.0 247h18.4v3h-18.4zM229.0 254h18.4v1h-18.4zM229.0 259h18.4v2h-18.4zM229.0 262h18.4v1h-18.4zM229.0 267h18.4v1h-18.4zM229.0 272h18.4v1h-18.4zM229.0 279h18.4v1h-18.4zM229.0 306h18.4v3h-18.4zM229.0 330h18.4v1h-18.4zM229.0 335h18.4v1h-18.4zM339.7 250h18.4v1h-18.4zM339.7 257h18.4v3h-18.4zM339.7 261h18.4v1h-18.4zM339.7 264h18.4v2h-18.4zM339.7 272h18.4v2h-18.4z"/>
<path fill="#92b6da" d="M118.3 237h18.5v1h-18.5zM118.3 243h18.5v1h-18.5zM118.3 258h18.5v1h-18.5zM229.0 223h18.4v1h-18.4zM229.0 226h18.4v1h-18.4zM229.0 237h18.4v1h-18.4zM229.0 250h18.4v2h-18.4zM229.0 270h18.4v1h-18.4zM229.0 282h18.4v1h-18.4zM229.0 293h18.4v1h-18.4zM229.0 301h18.4v1h-18.4zM229.0 304h18.4v2h-18.4zM229.0 331h18.4v1h-18.4zM229.0 334h18.4v1h-18.4zM339.7 260h18.4v1h-18.4zM339.7 270h18.4v1h-18.4z"/>
<path fill="#c0c6d6" d="M118.3 245h18.5v1h-18.5zM229.0 207h18.4v1h-18.4zM229.0 240h18.4v1h-18.4zM265.9 197h18.5v1h-18.5zM265.9 205h18.5v1h-18.5zM265.9 226h18.5v1h-18.5zM265.9 242h18.5v1h-18.5zM265.9 245h18.5v1h-18.5zM265.9 247h18.5v1h-18.5zM265.9 260h18.5v1h-18.5zM265.9 299h18.5v1h-18.5zM265.9 301h18.5v1h-18.5zM339.7 228h18.4v2h-18.4zM339.7 238h18.4v2h-18.4zM339.7 245h18.4v1h-18.4zM339.7 247h18.4v1h-18.4zM339.7 321h18.4v1h-18.4zM339.7 326h18.4v1h-18.4z"/>
<path fill="#5c9dca" d="M118.3 259h18.5v1h-18.5zM229.0 281h18.4v1h-18.4zM229.0 283h18.4v1h-18.4zM229.0 286h18.4v2h-18.4zM229.0 291h18.4v1h-18.4zM229.0 297h18.4v1h-18.4zM339.7 177h18.4v1h-18.4zM358.1 189h18.5v1h-18.5zM376.6 87h18.5v1h-18.5zM376.6 89h18.5v1h-18.5zM376.6 102h18.5v1h-18.5zM376.6 128h18.5v1h-18.5zM376.6 154h18.5v1h-18.5zM376.6 296h18.5v1h-18.5zM376.6 302h18.5v1h-18.5z"/>
<path fill="#599bca" d="M118.3 260h18.5v1h-18.5zM118.3 265h18.5v1h-18.5zM229.0 175h18.4v1h-18.4zM229.0 284h18.4v1h-18.4zM229.0 289h18.4v2h-18.4zM247.4 338h18.5v1h-18.5zM265.9 107h18.5v1h-18.5zM265.9 176h18.5v1h-18.5zM265.9 209h18.5v1h-18.5zM321.2 94h18.5v1h-18.5zM339.7 175h18.4v2h-18.4zM376.6 83h18.5v1h-18.5zM376.6 112h18.5v1h-18.5zM376.6 114h18.5v1h-18.5zM376.6 120h18.5v1h-18.5zM376.6 127h18.5v1h-18.5zM376.6 136h18.5v1h-18.5zM376.6 144h18.5v1h-18.5zM376.6 146h18.5v1h-18.5zM376.6 156h18.5v1h-18.5zM376.6 159h18.5v1h-18.5zM376.6 292h18.5v1h-18.5zM376.6 297h18.5v1h-18.5zM376.6 304h18.5v1h-18.5zM376.6 312h18.5v1h-18.5zM376.6 428h18.5v2h-18.5z"/>
<path fill="#5398c8" d="M118.3 261h18.5v1h-18.5zM376.6 134h18.5v1h-18.5zM376.6 145h18.5v1h-18.5zM376.6 310h18.5v2h-18.5zM376.6 430h18.5v1h-18.5z"/>
<path fill="#569ac9" d="M118.3 263h18.5v1h-18.5zM229.0 276h18.4v1h-18.4zM229.0 278h18.4v1h-18.4zM229.0 288h18.4v1h-18.4zM339.7 174h18.4v1h-18.4zM339.7 178h18.4v1h-18.4zM376.6 84h18.5v1h-18.5zM376.6 86h18.5v1h-18.5zM376.6 135h18.5v1h-18.5zM376.6 295h18.5v1h-18.5zM376.6 299h18.5v2h-18.5zM376.6 305h18.5v1h-18.5zM376.6 307h18.5v2h-18.5zM376.6 314h18.5v1h-18.5zM376.6 427h18.5v1h-18.5z"/>
<path fill="#5f9ecb" d="M118.3 264h18.5v1h-18.5zM229.0 277h18.4v1h-18.4zM229.0 280h18.4v1h-18.4zM229.0 296h18.4v1h-18.4zM358.1 188h18.5v1h-18.5zM376.6 121h18.5v1h-18.5zM376.6 298h18.5v1h-18.5zM376.6 303h18.5v1h-18.5zM376.6 315h18.5v1h-18.5zM376.6 431h18.5v1h-18.5z"/>
<path fill="#96b7da" d="M118.3 266h18.5v1h-18.5zM229.0 227h18.4v1h-18.4zM229.0 268h18.4v1h-18.4zM229.0 275h18.4v1h-18.4zM229.0 310h18.4v1h-18.4z"/>
<path fill="#cecbc4" d="M118.3 287h18.5v1h-18.5zM173.7 275h18.4v1h-18.4zM192.1 363h18.4v1h-18.4z"/>
<path fill="#2675b3" d="M118.3 288h18.5v1h-18.5zM339.7 88h18.4v1h-18.4zM358.1 104h18.5v1h-18.5zM358.1 125h18.5v1h-18.5zM358.1 133h18.5v1h-18.5zM358.1 163h18.5v1h-18.5zM358.1 215h18.5v1h-18.5zM358.1 299h18.5v1h-18.5zM358.1 344h18.5v1h-18.5zM358.1 392h18.5v1h-18.5zM358.1 403h18.5v1h-18.5zM376.6 252h18.5v1h-18.5zM376.6 264h18.5v1h-18.5zM376.6 280h18.5v1h-18.5zM376.6 322h18.5v1h-18.5zM376.6 326h18.5v1h-18.5zM376.6 383h18.5v1h-18.5z"/>
<path fill="#fcbe52" d="M136.8 93h18.4v1h-18.4zM136.8 141h18.4v1h-18.4zM136.8 155h18.4v1h-18.4zM155.2 121h18.5v2h-18.5zM155.2 133h18.5v1h-18.5zM155.2 287h18.5v1h-18.5zM155.2 313h18.5v1h-18.5z"/>
<path fill="#fcc055" d="M136.8 102h18.4v1h-18.4zM136.8 112h18.4v1h-18.4zM136.8 142h18.4v1h-18.4zM136.8 144h18.4v1h-18.4zM155.2 106h18.5v1h-18.5zM155.2 108h18.5v1h-18.5zM155.2 113h18.5v1h-18.5zM155.2 134h18.5v1h-18.5zM155.2 146h18.5v1h-18.5zM155.2 194h18.5v1h-18.5zM155.2 211h18.5v1h-18.5zM155.2 213h18.5v1h-18.5zM155.2 231h18.5v1h-18.5zM155.2 256h18.5v1h-18.5zM155.2 319h18.5v1h-18.5z"/>
<path fill="#fbbc50" d="M136.8 143h18.4v1h-18.4z"/>
<path fill="#fcc357" d="M136.8 145h18.4v1h-18.4zM136.8 158h18.4v1h-18.4zM136.8 169h18.4v1h-18.4zM155.2 132h18.5v1h-18.5zM155.2 175h18.5v2h-18.5zM155.2 212h18.5v1h-18.5zM155.2 214h18.5v2h-18.5zM155.2 278h18.5v1h-18.5zM155.2 291h18.5v1h-18.5zM284.4 250h18.4v6h-18.4zM284.4 303h18.4v2h-18.4zM302.8 401h18.4v1h-18.4zM302.8 426h18.4v3h-18.4z"/>
<path fill="#071b8c" d="M192.1 167h18.4v1h-18.4zM229.0 88h18.4v1h-18.4zM339.7 138h18.4v1h-18.4zM339.7 143h18.4v1h-18.4zM339.7 187h18.4v1h-18.4zM339.7 193h18.4v1h-18.4zM339.7 199h18.4v1h-18.4zM339.7 212h18.4v1h-18.4zM339.7 215h18.4v1h-18.4z"/>
<path fill="#b3c2df" d="M229.0 206h18.4v1h-18.4zM265.9 257h18.5v1h-18.5zM265.9 290h18.5v1h-18.5zM265.9 300h18.5v1h-18.5zM339.7 318h18.4v1h-18.4zM339.7 320h18.4v1h-18.4z"/>
<path fill="#aabfde" d="M229.0 220h18.4v1h-18.4zM339.7 266h18.4v1h-18.4z"/>
<path fill="#c2c7d3" d="M229.0 221h18.4v1h-18.4zM265.9 189h18.5v1h-18.5zM265.9 286h18.5v1h-18.5zM339.7 226h18.4v1h-18.4z"/>
<path fill="#aec0de" d="M229.0 225h18.4v1h-18.4zM265.9 232h18.5v1h-18.5z"/>
<path fill="#80aed5" d="M229.0 269h18.4v1h-18.4zM229.0 271h18.4v1h-18.4zM229.0 273h18.4v1h-18.4zM229.0 292h18.4v1h-18.4zM339.7 268h18.4v1h-18.4zM339.7 274h18.4v1h-18.4zM358.1 181h18.5v1h-18.5z"/>
<path fill="#67a2ce" d="M229.0 285h18.4v1h-18.4zM376.6 293h18.5v1h-18.5z"/>
<path fill="#2b80b8" d="M229.0 295h18.4v1h-18.4zM284.4 370h18.4v1h-18.4zM339.7 89h18.4v1h-18.4zM339.7 92h18.4v1h-18.4zM339.7 101h18.4v1h-18.4zM339.7 106h18.4v1h-18.4zM339.7 108h18.4v1h-18.4zM339.7 118h18.4v2h-18.4zM339.7 171h18.4v3h-18.4zM339.7 179h18.4v6h-18.4zM358.1 90h18.5v1h-18.5zM358.1 97h18.5v1h-18.5zM358.1 102h18.5v1h-18.5zM358.1 105h18.5v3h-18.5zM358.1 126h18.5v1h-18.5zM358.1 128h18.5v1h-18.5zM358.1 130h18.5v3h-18.5zM358.1 161h18.5v2h-18.5zM358.1 164h18.5v1h-18.5zM358.1 167h18.5v1h-18.5zM358.1 200h18.5v1h-18.5zM358.1 210h18.5v3h-18.5zM358.1 227h18.5v1h-18.5zM358.1 237h18.5v1h-18.5zM358.1 243h18.5v1h-18.5zM358.1 256h18.5v1h-18.5zM358.1 285h18.5v1h-18.5zM358.1 298h18.5v1h-18.5zM358.1 301h18.5v1h-18.5zM358.1 303h18.5v1h-18.5zM358.1 305h18.5v1h-18.5zM358.1 308h18.5v1h-18.5zM358.1 331h18.5v1h-18.5zM358.1 333h18.5v1h-18.5zM358.1 342h18.5v1h-18.5zM358.1 361h18.5v3h-18.5zM358.1 370h18.5v1h-18.5zM358.1 374h18.5v1h-18.5zM358.1 376h18.5v1h-18.5zM358.1 393h18.5v1h-18.5zM358.1 404h18.5v2h-18.5zM358.1 417h18.5v2h-18.5zM358.1 420h18.5v1h-18.5zM376.6 173h18.5v4h-18.5zM376.6 191h18.5v1h-18.5zM376.6 208h18.5v1h-18.5zM376.6 226h18.5v1h-18.5zM376.6 254h18.5v1h-18.5zM376.6 275h18.5v1h-18.5zM376.6 323h18.5v2h-18.5zM376.6 342h18.5v1h-18.5zM376.6 385h18.5v1h-18.5zM376.6 400h18.5v2h-18.5z"/>
<path fill="#c4c8d0" d="M265.9 192h18.5v1h-18.5zM265.9 238h18.5v1h-18.5zM265.9 291h18.5v1h-18.5zM339.7 254h18.4v1h-18.4z"/>
<path fill="#388abf" d="M302.8 171h18.4v1h-18.4zM358.1 89h18.5v1h-18.5zM358.1 144h18.5v1h-18.5zM358.1 152h18.5v2h-18.5zM358.1 235h18.5v1h-18.5zM358.1 258h18.5v1h-18.5zM358.1 267h18.5v1h-18.5zM358.1 297h18.5v1h-18.5zM376.6 96h18.5v1h-18.5zM376.6 110h18.5v1h-18.5zM376.6 115h18.5v1h-18.5zM376.6 131h18.5v1h-18.5zM376.6 147h18.5v1h-18.5zM376.6 152h18.5v1h-18.5zM376.6 171h18.5v1h-18.5zM376.6 177h18.5v2h-18.5zM376.6 187h18.5v1h-18.5zM376.6 195h18.5v1h-18.5zM376.6 211h18.5v1h-18.5zM376.6 219h18.5v2h-18.5zM376.6 238h18.5v1h-18.5zM376.6 240h18.5v1h-18.5zM376.6 256h18.5v1h-18.5zM376.6 279h18.5v1h-18.5zM376.6 316h18.5v1h-18.5zM376.6 319h18.5v1h-18.5zM376.6 351h18.5v1h-18.5zM376.6 363h18.5v1h-18.5zM376.6 372h18.5v1h-18.5zM376.6 389h18.5v1h-18.5zM376.6 407h18.5v1h-18.5zM376.6 412h18.5v1h-18.5zM376.6 424h18.5v1h-18.5z"/>
<path fill="#da6f18" d="M302.8 431h18.4v3h-18.4z"/>
<path fill="#164ea2" d="M339.7 83h18.4v1h-18.4zM339.7 85h18.4v3h-18.4zM339.7 109h18.4v1h-18.4zM339.7 116h18.4v1h-18.4zM339.7 125h18.4v1h-18.4zM339.7 130h18.4v1h-18.4zM339.7 155h18.4v5h-18.4zM339.7 189h18.4v1h-18.4zM339.7 207h18.4v4h-18.4zM358.1 93h18.5v4h-18.5zM358.1 119h18.5v4h-18.5zM358.1 134h18.5v6h-18.5zM358.1 146h18.5v6h-18.5zM358.1 165h18.5v2h-18.5zM358.1 170h18.5v10h-18.5zM358.1 203h18.5v2h-18.5zM358.1 208h18.5v2h-18.5zM358.1 218h18.5v4h-18.5zM358.1 231h18.5v2h-18.5zM358.1 239h18.5v2h-18.5zM358.1 273h18.5v1h-18.5zM358.1 294h18.5v3h-18.5zM358.1 306h18.5v1h-18.5zM358.1 310h18.5v2h-18.5zM358.1 314h18.5v1h-18.5zM358.1 320h18.5v1h-18.5zM358.1 323h18.5v4h-18.5zM358.1 350h18.5v2h-18.5zM358.1 353h18.5v1h-18.5zM358.1 355h18.5v1h-18.5zM358.1 360h18.5v1h-18.5zM358.1 366h18.5v1h-18.5zM358.1 371h18.5v3h-18.5zM358.1 378h18.5v8h-18.5zM358.1 394h18.5v4h-18.5zM358.1 413h18.5v3h-18.5zM358.1 424h18.5v4h-18.5zM376.6 119h18.5v1h-18.5zM376.6 126h18.5v1h-18.5zM376.6 133h18.5v1h-18.5zM376.6 201h18.5v6h-18.5zM376.6 229h18.5v7h-18.5zM376.6 244h18.5v1h-18.5zM376.6 269h18.5v2h-18.5zM376.6 282h18.5v10h-18.5zM376.6 331h18.5v7h-18.5zM376.6 360h18.5v3h-18.5zM376.6 374h18.5v1h-18.5zM376.6 417h18.5v5h-18.5z"/>
<path fill="#051389" d="M339.7 84h18.4v1h-18.4zM339.7 186h18.4v1h-18.4zM339.7 192h18.4v1h-18.4zM339.7 196h18.4v1h-18.4zM339.7 198h18.4v1h-18.4zM339.7 213h18.4v2h-18.4zM339.7 222h18.4v3h-18.4zM358.1 247h18.5v6h-18.5zM358.1 275h18.5v10h-18.5zM358.1 356h18.5v2h-18.5zM358.1 390h18.5v2h-18.5zM358.1 406h18.5v4h-18.5zM376.6 189h18.5v1h-18.5zM376.6 257h18.5v7h-18.5z"/>
<path fill="#1448a0" d="M339.7 90h18.4v1h-18.4zM339.7 93h18.4v1h-18.4zM339.7 97h18.4v1h-18.4zM339.7 103h18.4v2h-18.4zM339.7 126h18.4v1h-18.4zM339.7 136h18.4v1h-18.4zM339.7 145h18.4v1h-18.4zM339.7 163h18.4v1h-18.4zM339.7 170h18.4v1h-18.4zM339.7 188h18.4v1h-18.4zM358.1 312h18.5v2h-18.5zM358.1 338h18.5v1h-18.5zM358.1 352h18.5v1h-18.5zM358.1 386h18.5v3h-18.5zM358.1 410h18.5v2h-18.5zM358.1 423h18.5v1h-18.5z"/>
<path fill="#2d82b9" d="M339.7 91h18.4v1h-18.4zM339.7 102h18.4v1h-18.4zM339.7 117h18.4v1h-18.4zM339.7 121h18.4v1h-18.4zM339.7 132h18.4v2h-18.4zM339.7 135h18.4v1h-18.4zM358.1 91h18.5v1h-18.5zM358.1 100h18.5v1h-18.5zM358.1 103h18.5v1h-18.5zM358.1 124h18.5v1h-18.5zM358.1 129h18.5v1h-18.5zM358.1 198h18.5v2h-18.5zM358.1 213h18.5v1h-18.5zM358.1 226h18.5v1h-18.5zM358.1 229h18.5v1h-18.5zM358.1 238h18.5v1h-18.5zM358.1 255h18.5v1h-18.5zM358.1 302h18.5v1h-18.5zM358.1 317h18.5v3h-18.5zM358.1 328h18.5v1h-18.5zM358.1 330h18.5v1h-18.5zM358.1 339h18.5v1h-18.5zM358.1 345h18.5v4h-18.5zM358.1 367h18.5v1h-18.5zM358.1 375h18.5v1h-18.5zM358.1 401h18.5v2h-18.5zM358.1 416h18.5v1h-18.5zM358.1 421h18.5v1h-18.5zM358.1 429h18.5v1h-18.5zM376.6 183h18.5v1h-18.5zM376.6 193h18.5v1h-18.5zM376.6 327h18.5v1h-18.5zM376.6 397h18.5v1h-18.5z"/>
<path fill="#1953a5" d="M339.7 94h18.4v1h-18.4zM339.7 96h18.4v1h-18.4zM339.7 131h18.4v1h-18.4zM358.1 274h18.5v1h-18.5zM358.1 322h18.5v1h-18.5zM358.1 389h18.5v1h-18.5zM358.1 400h18.5v1h-18.5z"/>
<path fill="#3185bc" d="M339.7 95h18.4v1h-18.4zM358.1 112h18.5v1h-18.5zM358.1 334h18.5v1h-18.5zM358.1 412h18.5v1h-18.5zM358.1 422h18.5v1h-18.5zM376.6 413h18.5v1h-18.5z"/>
<path fill="#12409d" d="M339.7 98h18.4v2h-18.4zM339.7 124h18.4v1h-18.4zM358.1 336h18.5v1h-18.5zM358.1 349h18.5v1h-18.5z"/>
<path fill="#2f83ba" d="M339.7 100h18.4v1h-18.4zM339.7 107h18.4v1h-18.4zM339.7 120h18.4v1h-18.4zM339.7 122h18.4v1h-18.4zM358.1 194h18.5v1h-18.5zM358.1 196h18.5v1h-18.5zM358.1 201h18.5v1h-18.5zM358.1 214h18.5v1h-18.5zM358.1 300h18.5v1h-18.5zM358.1 307h18.5v1h-18.5zM358.1 332h18.5v1h-18.5zM358.1 341h18.5v1h-18.5zM358.1 419h18.5v1h-18.5zM358.1 433h18.5v1h-18.5zM376.6 172h18.5v1h-18.5zM376.6 221h18.5v1h-18.5zM376.6 265h18.5v1h-18.5zM376.6 368h18.5v1h-18.5zM376.6 399h18.5v1h-18.5z"/>
<path fill="#297ab6" d="M339.7 105h18.4v1h-18.4zM358.1 98h18.5v2h-18.5zM358.1 108h18.5v2h-18.5zM358.1 111h18.5v1h-18.5zM358.1 116h18.5v3h-18.5zM358.1 127h18.5v1h-18.5zM358.1 141h18.5v1h-18.5zM358.1 145h18.5v1h-18.5zM358.1 168h18.5v1h-18.5zM358.1 192h18.5v2h-18.5zM358.1 195h18.5v1h-18.5zM358.1 216h18.5v1h-18.5zM358.1 225h18.5v1h-18.5zM358.1 228h18.5v1h-18.5zM358.1 230h18.5v1h-18.5zM358.1 236h18.5v1h-18.5zM358.1 241h18.5v2h-18.5zM358.1 244h18.5v3h-18.5zM358.1 254h18.5v1h-18.5zM358.1 286h18.5v1h-18.5zM358.1 304h18.5v1h-18.5zM358.1 309h18.5v1h-18.5zM358.1 316h18.5v1h-18.5zM358.1 329h18.5v1h-18.5zM358.1 343h18.5v1h-18.5zM358.1 358h18.5v1h-18.5zM358.1 364h18.5v1h-18.5zM358.1 368h18.5v2h-18.5zM358.1 377h18.5v1h-18.5zM358.1 398h18.5v2h-18.5zM358.1 428h18.5v1h-18.5zM358.1 431h18.5v1h-18.5zM376.6 166h18.5v1h-18.5zM376.6 184h18.5v1h-18.5zM376.6 192h18.5v1h-18.5zM376.6 227h18.5v1h-18.5zM376.6 253h18.5v1h-18.5zM376.6 266h18.5v1h-18.5zM376.6 276h18.5v1h-18.5zM376.6 325h18.5v1h-18.5zM376.6 330h18.5v1h-18.5zM376.6 346h18.5v2h-18.5zM376.6 367h18.5v1h-18.5zM376.6 369h18.5v1h-18.5zM376.6 398h18.5v1h-18.5z"/>
<path fill="#0c2a93" d="M339.7 110h18.4v1h-18.4zM339.7 115h18.4v1h-18.4zM339.7 164h18.4v1h-18.4zM339.7 169h18.4v1h-18.4z"/>
<path fill="#010482" d="M339.7 111h18.4v4h-18.4zM339.7 194h18.4v1h-18.4z"/>
<path fill="#0a228f" d="M339.7 123h18.4v1h-18.4zM339.7 191h18.4v1h-18.4z"/>
<path fill="#1b59a7" d="M339.7 127h18.4v2h-18.4zM358.1 354h18.5v1h-18.5z"/>
<path fill="#103999" d="M339.7 129h18.4v1h-18.4zM339.7 211h18.4v1h-18.4zM339.7 216h18.4v1h-18.4zM339.7 221h18.4v1h-18.4zM339.7 225h18.4v1h-18.4z"/>
<path fill="#246fb1" d="M339.7 134h18.4v1h-18.4zM358.1 110h18.5v1h-18.5zM358.1 115h18.5v1h-18.5zM358.1 169h18.5v1h-18.5zM358.1 191h18.5v1h-18.5zM358.1 206h18.5v1h-18.5zM358.1 217h18.5v1h-18.5zM358.1 327h18.5v1h-18.5zM358.1 340h18.5v1h-18.5zM358.1 359h18.5v1h-18.5zM358.1 365h18.5v1h-18.5zM358.1 430h18.5v1h-18.5zM358.1 432h18.5v1h-18.5zM376.6 169h18.5v1h-18.5zM376.6 396h18.5v1h-18.5z"/>
<path fill="#0e3196" d="M339.7 137h18.4v1h-18.4zM339.7 144h18.4v1h-18.4zM358.1 315h18.5v1h-18.5z"/>
<path fill="#030c85" d="M339.7 139h18.4v4h-18.4zM339.7 165h18.4v4h-18.4zM339.7 195h18.4v1h-18.4zM339.7 197h18.4v1h-18.4z"/>
<path fill="#3a8bc0" d="M339.7 146h18.4v1h-18.4zM339.7 149h18.4v1h-18.4zM339.7 152h18.4v1h-18.4zM358.1 87h18.5v1h-18.5zM358.1 92h18.5v1h-18.5zM358.1 113h18.5v1h-18.5zM358.1 142h18.5v1h-18.5zM358.1 265h18.5v1h-18.5zM358.1 293h18.5v1h-18.5zM376.6 90h18.5v2h-18.5zM376.6 93h18.5v1h-18.5zM376.6 98h18.5v1h-18.5zM376.6 100h18.5v2h-18.5zM376.6 103h18.5v1h-18.5zM376.6 122h18.5v1h-18.5zM376.6 124h18.5v1h-18.5zM376.6 132h18.5v1h-18.5zM376.6 137h18.5v1h-18.5zM376.6 139h18.5v1h-18.5zM376.6 141h18.5v1h-18.5zM376.6 143h18.5v1h-18.5zM376.6 149h18.5v1h-18.5zM376.6 158h18.5v1h-18.5zM376.6 161h18.5v1h-18.5zM376.6 180h18.5v1h-18.5zM376.6 186h18.5v1h-18.5zM376.6 194h18.5v1h-18.5zM376.6 200h18.5v1h-18.5zM376.6 209h18.5v1h-18.5zM376.6 217h18.5v2h-18.5zM376.6 248h18.5v1h-18.5zM376.6 250h18.5v1h-18.5zM376.6 318h18.5v1h-18.5zM376.6 321h18.5v1h-18.5zM376.6 329h18.5v1h-18.5zM376.6 340h18.5v1h-18.5zM376.6 352h18.5v1h-18.5zM376.6 355h18.5v1h-18.5zM376.6 357h18.5v1h-18.5zM376.6 371h18.5v1h-18.5zM376.6 375h18.5v1h-18.5zM376.6 379h18.5v1h-18.5zM376.6 381h18.5v1h-18.5zM376.6 388h18.5v1h-18.5zM376.6 391h18.5v1h-18.5zM376.6 395h18.5v1h-18.5zM376.6 402h18.5v1h-18.5zM376.6 404h18.5v1h-18.5zM376.6 406h18.5v1h-18.5zM376.6 410h18.5v1h-18.5zM376.6 416h18.5v1h-18.5z"/>
<path fill="#4090c4" d="M339.7 147h18.4v1h-18.4zM358.1 202h18.5v1h-18.5zM358.1 264h18.5v1h-18.5zM358.1 272h18.5v1h-18.5zM358.1 287h18.5v1h-18.5zM358.1 290h18.5v2h-18.5zM376.6 92h18.5v1h-18.5zM376.6 94h18.5v1h-18.5zM376.6 97h18.5v1h-18.5zM376.6 105h18.5v1h-18.5zM376.6 116h18.5v1h-18.5zM376.6 125h18.5v1h-18.5zM376.6 129h18.5v2h-18.5zM376.6 142h18.5v1h-18.5zM376.6 150h18.5v2h-18.5zM376.6 165h18.5v1h-18.5zM376.6 167h18.5v1h-18.5zM376.6 179h18.5v1h-18.5zM376.6 210h18.5v1h-18.5zM376.6 212h18.5v1h-18.5zM376.6 237h18.5v1h-18.5zM376.6 249h18.5v1h-18.5zM376.6 267h18.5v1h-18.5zM376.6 277h18.5v1h-18.5zM376.6 338h18.5v1h-18.5zM376.6 343h18.5v2h-18.5zM376.6 356h18.5v1h-18.5zM376.6 358h18.5v1h-18.5zM376.6 366h18.5v1h-18.5zM376.6 373h18.5v1h-18.5zM376.6 376h18.5v1h-18.5zM376.6 394h18.5v1h-18.5zM376.6 414h18.5v1h-18.5zM376.6 423h18.5v1h-18.5z"/>
<path fill="#3688be" d="M339.7 148h18.4v1h-18.4zM339.7 150h18.4v1h-18.4zM358.1 114h18.5v1h-18.5zM376.6 106h18.5v1h-18.5zM376.6 118h18.5v1h-18.5zM376.6 140h18.5v1h-18.5zM376.6 160h18.5v1h-18.5zM376.6 198h18.5v1h-18.5zM376.6 236h18.5v1h-18.5zM376.6 242h18.5v1h-18.5zM376.6 247h18.5v1h-18.5zM376.6 382h18.5v1h-18.5zM376.6 392h18.5v2h-18.5zM376.6 403h18.5v1h-18.5z"/>
<path fill="#3c8dc2" d="M339.7 151h18.4v1h-18.4zM339.7 160h18.4v3h-18.4zM339.7 200h18.4v7h-18.4zM339.7 217h18.4v4h-18.4zM358.1 83h18.5v1h-18.5zM358.1 85h18.5v1h-18.5zM358.1 88h18.5v1h-18.5zM358.1 143h18.5v1h-18.5zM358.1 155h18.5v1h-18.5zM358.1 205h18.5v1h-18.5zM358.1 207h18.5v1h-18.5zM358.1 234h18.5v1h-18.5zM358.1 260h18.5v2h-18.5zM358.1 263h18.5v1h-18.5zM358.1 271h18.5v1h-18.5zM358.1 288h18.5v2h-18.5zM376.6 95h18.5v1h-18.5zM376.6 108h18.5v2h-18.5zM376.6 111h18.5v1h-18.5zM376.6 117h18.5v1h-18.5zM376.6 148h18.5v1h-18.5zM376.6 153h18.5v1h-18.5zM376.6 157h18.5v1h-18.5zM376.6 162h18.5v2h-18.5zM376.6 170h18.5v1h-18.5zM376.6 197h18.5v1h-18.5zM376.6 199h18.5v1h-18.5zM376.6 239h18.5v1h-18.5zM376.6 243h18.5v1h-18.5zM376.6 251h18.5v1h-18.5zM376.6 255h18.5v1h-18.5zM376.6 272h18.5v1h-18.5zM376.6 278h18.5v1h-18.5zM376.6 317h18.5v1h-18.5zM376.6 341h18.5v1h-18.5zM376.6 345h18.5v1h-18.5zM376.6 348h18.5v3h-18.5zM376.6 354h18.5v1h-18.5zM376.6 359h18.5v1h-18.5zM376.6 365h18.5v1h-18.5zM376.6 370h18.5v1h-18.5zM376.6 377h18.5v2h-18.5zM376.6 386h18.5v1h-18.5zM376.6 390h18.5v1h-18.5zM376.6 409h18.5v1h-18.5z"/>
<path fill="#3e8ec3" d="M339.7 153h18.4v2h-18.4zM358.1 84h18.5v1h-18.5zM358.1 86h18.5v1h-18.5zM358.1 101h18.5v1h-18.5zM358.1 156h18.5v1h-18.5zM358.1 222h18.5v1h-18.5zM358.1 233h18.5v1h-18.5zM358.1 253h18.5v1h-18.5zM358.1 259h18.5v1h-18.5zM358.1 262h18.5v1h-18.5zM358.1 266h18.5v1h-18.5zM358.1 268h18.5v2h-18.5zM358.1 292h18.5v1h-18.5zM376.6 104h18.5v1h-18.5zM376.6 107h18.5v1h-18.5zM376.6 138h18.5v1h-18.5zM376.6 164h18.5v1h-18.5zM376.6 185h18.5v1h-18.5zM376.6 190h18.5v1h-18.5zM376.6 196h18.5v1h-18.5zM376.6 207h18.5v1h-18.5zM376.6 214h18.5v3h-18.5zM376.6 222h18.5v3h-18.5zM376.6 228h18.5v1h-18.5zM376.6 241h18.5v1h-18.5zM376.6 245h18.5v2h-18.5zM376.6 268h18.5v1h-18.5zM376.6 273h18.5v1h-18.5zM376.6 328h18.5v1h-18.5zM376.6 339h18.5v1h-18.5zM376.6 364h18.5v1h-18.5zM376.6 387h18.5v1h-18.5zM376.6 405h18.5v1h-18.5zM376.6 408h18.5v1h-18.5zM376.6 415h18.5v1h-18.5zM376.6 422h18.5v1h-18.5z"/>
<path fill="#000080" d="M339.7 185h18.4v1h-18.4z"/>
<path fill="#1d5eaa" d="M339.7 190h18.4v1h-18.4zM358.1 321h18.5v1h-18.5zM358.1 337h18.5v1h-18.5z"/>
<path fill="#78aad3" d="M339.7 269h18.4v1h-18.4zM358.1 157h18.5v4h-18.5zM358.1 180h18.5v1h-18.5zM358.1 183h18.5v1h-18.5z"/>
<path fill="#4693c5" d="M358.1 123h18.5v1h-18.5zM376.6 213h18.5v1h-18.5z"/>
<path fill="#226aae" d="M358.1 140h18.5v1h-18.5zM358.1 197h18.5v1h-18.5z"/>
<path fill="#4391c5" d="M358.1 154h18.5v1h-18.5zM358.1 257h18.5v1h-18.5zM358.1 270h18.5v1h-18.5zM376.6 99h18.5v1h-18.5zM376.6 181h18.5v2h-18.5zM376.6 411h18.5v1h-18.5z"/>
<path fill="#7cacd4" d="M358.1 182h18.5v1h-18.5zM358.1 186h18.5v2h-18.5z"/>
<path fill="#74a8d2" d="M358.1 184h18.5v1h-18.5zM358.1 190h18.5v1h-18.5zM376.6 426h18.5v1h-18.5z"/>
<path fill="#6ba4cf" d="M358.1 185h18.5v1h-18.5zM376.6 432h18.5v1h-18.5z"/>
<path fill="#3386bd" d="M358.1 335h18.5v1h-18.5zM376.6 225h18.5v1h-18.5zM376.6 271h18.5v1h-18.5zM376.6 274h18.5v1h-18.5zM376.6 320h18.5v1h-18.5zM376.6 353h18.5v1h-18.5zM376.6 384h18.5v1h-18.5z"/>
<path fill="#63a0cc" d="M376.6 85h18.5v1h-18.5zM376.6 113h18.5v1h-18.5zM376.6 155h18.5v1h-18.5zM376.6 301h18.5v1h-18.5zM376.6 306h18.5v1h-18.5z"/>
<path fill="#5097c8" d="M376.6 88h18.5v1h-18.5zM376.6 294h18.5v1h-18.5zM376.6 313h18.5v1h-18.5z"/>
<path fill="#4994c6" d="M376.6 123h18.5v1h-18.5zM376.6 309h18.5v1h-18.5zM376.6 380h18.5v1h-18.5z"/>
<path fill="#6fa6d0" d="M376.6 433h18.5v1h-18.5z"/>
</g>
<path fill="#a49f90" d="M49 404h1v1h-1zM53 404h1v1h-1zM57 404h1v1h-1zM62 404h1v1h-1zM66 404h1v1h-1zM71 404h1v1h-1zM75 404h1v1h-1zM80 404h1v1h-1zM84 404h1v1h-1zM88 404h1v1h-1zM93 404h1v1h-1zM97 404h1v1h-1zM102 404h1v1h-1zM106 404h1v1h-1zM110 404h1v1h-1zM115 404h1v1h-1zM119 404h1v1h-1zM124 404h1v1h-1zM128 404h1v1h-1zM133 404h1v1h-1zM137 404h1v1h-1zM141 404h1v1h-1zM146 404h1v1h-1zM150 404h1v1h-1zM155 404h1v1h-1zM159 404h1v1h-1zM164 404h1v1h-1zM168 404h1v1h-1zM172 404h1v1h-1zM177 404h1v1h-1zM181 404h1v1h-1zM186 404h1v1h-1zM190 404h1v1h-1zM194 404h1v1h-1zM199 404h1v1h-1zM203 404h1v1h-1zM208 404h1v1h-1zM212 404h1v1h-1zM217 404h1v1h-1zM221 404h1v1h-1zM225 404h1v1h-1zM230 404h1v1h-1zM234 404h1v1h-1zM239 404h1v1h-1zM243 404h1v1h-1zM248 404h1v1h-1zM252 404h1v1h-1zM256 404h1v1h-1zM261 404h1v1h-1zM265 404h1v1h-1zM270 404h1v1h-1zM274 404h1v1h-1zM278 404h1v1h-1zM283 404h1v1h-1zM287 404h1v1h-1zM292 404h1v1h-1zM296 404h1v1h-1zM301 404h1v1h-1zM305 404h1v1h-1zM309 404h1v1h-1zM314 404h1v1h-1zM318 404h1v1h-1zM323 404h1v1h-1zM327 404h1v1h-1zM331 404h1v1h-1zM336 404h1v1h-1zM49 377h1v1h-1zM53 377h1v1h-1zM57 377h1v1h-1zM62 377h1v1h-1zM66 377h1v1h-1zM71 377h1v1h-1zM75 377h1v1h-1zM80 377h1v1h-1zM84 377h1v1h-1zM88 377h1v1h-1zM93 377h1v1h-1zM97 377h1v1h-1zM102 377h1v1h-1zM106 377h1v1h-1zM110 377h1v1h-1zM115 377h1v1h-1zM119 377h1v1h-1zM124 377h1v1h-1zM128 377h1v1h-1zM133 377h1v1h-1zM137 377h1v1h-1zM141 377h1v1h-1zM146 377h1v1h-1zM150 377h1v1h-1zM155 377h1v1h-1zM159 377h1v1h-1zM164 377h1v1h-1zM168 377h1v1h-1zM172 377h1v1h-1zM177 377h1v1h-1zM181 377h1v1h-1zM186 377h1v1h-1zM190 377h1v1h-1zM194 377h1v1h-1zM199 377h1v1h-1zM203 377h1v1h-1zM208 377h1v1h-1zM212 377h1v1h-1zM217 377h1v1h-1zM221 377h1v1h-1zM225 377h1v1h-1zM230 377h1v1h-1zM234 377h1v1h-1zM239 377h1v1h-1zM243 377h1v1h-1zM248 377h1v1h-1zM252 377h1v1h-1zM256 377h1v1h-1zM261 377h1v1h-1zM265 377h1v1h-1zM270 377h1v1h-1zM274 377h1v1h-1zM278 377h1v1h-1zM283 377h1v1h-1zM287 377h1v1h-1zM292 377h1v1h-1zM296 377h1v1h-1zM301 377h1v1h-1zM305 377h1v1h-1zM309 377h1v1h-1zM314 377h1v1h-1zM318 377h1v1h-1zM323 377h1v1h-1zM327 377h1v1h-1zM331 377h1v1h-1zM336 377h1v1h-1zM49 347h1v1h-1zM53 347h1v1h-1zM57 347h1v1h-1zM62 347h1v1h-1zM66 347h1v1h-1zM71 347h1v1h-1zM75 347h1v1h-1zM80 347h1v1h-1zM84 347h1v1h-1zM88 347h1v1h-1zM93 347h1v1h-1zM97 347h1v1h-1zM102 347h1v1h-1zM106 347h1v1h-1zM110 347h1v1h-1zM115 347h1v1h-1zM119 347h1v1h-1zM124 347h1v1h-1zM128 347h1v1h-1zM133 347h1v1h-1zM137 347h1v1h-1zM141 347h1v1h-1zM146 347h1v1h-1zM150 347h1v1h-1zM155 347h1v1h-1zM159 347h1v1h-1zM164 347h1v1h-1zM168 347h1v1h-1zM172 347h1v1h-1zM177 347h1v1h-1zM181 347h1v1h-1zM186 347h1v1h-1zM190 347h1v1h-1zM194 347h1v1h-1zM199 347h1v1h-1zM203 347h1v1h-1zM208 347h1v1h-1zM212 347h1v1h-1zM217 347h1v1h-1zM221 347h1v1h-1zM225 347h1v1h-1zM230 347h1v1h-1zM234 347h1v1h-1zM239 347h1v1h-1zM243 347h1v1h-1zM248 347h1v1h-1zM252 347h1v1h-1zM256 347h1v1h-1zM261 347h1v1h-1zM265 347h1v1h-1zM270 347h1v1h-1zM274 347h1v1h-1zM278 347h1v1h-1zM283 347h1v1h-1zM287 347h1v1h-1zM292 347h1v1h-1zM296 347h1v1h-1zM301 347h1v1h-1zM305 347h1v1h-1zM309 347h1v1h-1zM314 347h1v1h-1zM318 347h1v1h-1zM323 347h1v1h-1zM327 347h1v1h-1zM331 347h1v1h-1zM336 347h1v1h-1zM49 318h1v1h-1zM53 318h1v1h-1zM57 318h1v1h-1zM62 318h1v1h-1zM66 318h1v1h-1zM71 318h1v1h-1zM75 318h1v1h-1zM80 318h1v1h-1zM84 318h1v1h-1zM88 318h1v1h-1zM93 318h1v1h-1zM97 318h1v1h-1zM102 318h1v1h-1zM106 318h1v1h-1zM110 318h1v1h-1zM115 318h1v1h-1zM119 318h1v1h-1zM124 318h1v1h-1zM128 318h1v1h-1zM133 318h1v1h-1zM137 318h1v1h-1zM141 318h1v1h-1zM146 318h1v1h-1zM150 318h1v1h-1zM155 318h1v1h-1zM159 318h1v1h-1zM164 318h1v1h-1zM168 318h1v1h-1zM172 318h1v1h-1zM177 318h1v1h-1zM181 318h1v1h-1zM186 318h1v1h-1zM190 318h1v1h-1zM194 318h1v1h-1zM199 318h1v1h-1zM203 318h1v1h-1zM208 318h1v1h-1zM212 318h1v1h-1zM217 318h1v1h-1zM221 318h1v1h-1zM225 318h1v1h-1zM230 318h1v1h-1zM234 318h1v1h-1zM239 318h1v1h-1zM243 318h1v1h-1zM248 318h1v1h-1zM252 318h1v1h-1zM256 318h1v1h-1zM261 318h1v1h-1zM265 318h1v1h-1zM270 318h1v1h-1zM274 318h1v1h-1zM278 318h1v1h-1zM283 318h1v1h-1zM287 318h1v1h-1zM292 318h1v1h-1zM296 318h1v1h-1zM301 318h1v1h-1zM305 318h1v1h-1zM309 318h1v1h-1zM314 318h1v1h-1zM318 318h1v1h-1zM323 318h1v1h-1zM327 318h1v1h-1zM331 318h1v1h-1zM336 318h1v1h-1zM49 288h1v1h-1zM53 288h1v1h-1zM57 288h1v1h-1zM62 288h1v1h-1zM66 288h1v1h-1zM71 288h1v1h-1zM75 288h1v1h-1zM80 288h1v1h-1zM84 288h1v1h-1zM88 288h1v1h-1zM93 288h1v1h-1zM97 288h1v1h-1zM102 288h1v1h-1zM106 288h1v1h-1zM110 288h1v1h-1zM115 288h1v1h-1zM119 288h1v1h-1zM124 288h1v1h-1zM128 288h1v1h-1zM133 288h1v1h-1zM137 288h1v1h-1zM141 288h1v1h-1zM146 288h1v1h-1zM150 288h1v1h-1zM155 288h1v1h-1zM159 288h1v1h-1zM164 288h1v1h-1zM168 288h1v1h-1zM172 288h1v1h-1zM177 288h1v1h-1zM181 288h1v1h-1zM186 288h1v1h-1zM190 288h1v1h-1zM194 288h1v1h-1zM199 288h1v1h-1zM203 288h1v1h-1zM208 288h1v1h-1zM212 288h1v1h-1zM217 288h1v1h-1zM221 288h1v1h-1zM225 288h1v1h-1zM230 288h1v1h-1zM234 288h1v1h-1zM239 288h1v1h-1zM243 288h1v1h-1zM248 288h1v1h-1zM252 288h1v1h-1zM256 288h1v1h-1zM261 288h1v1h-1zM265 288h1v1h-1zM270 288h1v1h-1zM274 288h1v1h-1zM278 288h1v1h-1zM283 288h1v1h-1zM287 288h1v1h-1zM292 288h1v1h-1zM296 288h1v1h-1zM301 288h1v1h-1zM305 288h1v1h-1zM309 288h1v1h-1zM314 288h1v1h-1zM318 288h1v1h-1zM323 288h1v1h-1zM327 288h1v1h-1zM331 288h1v1h-1zM336 288h1v1h-1zM49 259h1v1h-1zM53 259h1v1h-1zM57 259h1v1h-1zM62 259h1v1h-1zM66 259h1v1h-1zM71 259h1v1h-1zM75 259h1v1h-1zM80 259h1v1h-1zM84 259h1v1h-1zM88 259h1v1h-1zM93 259h1v1h-1zM97 259h1v1h-1zM102 259h1v1h-1zM106 259h1v1h-1zM110 259h1v1h-1zM115 259h1v1h-1zM119 259h1v1h-1zM124 259h1v1h-1zM128 259h1v1h-1zM133 259h1v1h-1zM137 259h1v1h-1zM141 259h1v1h-1zM146 259h1v1h-1zM150 259h1v1h-1zM155 259h1v1h-1zM159 259h1v1h-1zM164 259h1v1h-1zM168 259h1v1h-1zM172 259h1v1h-1zM177 259h1v1h-1zM181 259h1v1h-1zM186 259h1v1h-1zM190 259h1v1h-1zM194 259h1v1h-1zM199 259h1v1h-1zM203 259h1v1h-1zM208 259h1v1h-1zM212 259h1v1h-1zM217 259h1v1h-1zM221 259h1v1h-1zM225 259h1v1h-1zM230 259h1v1h-1zM234 259h1v1h-1zM239 259h1v1h-1zM243 259h1v1h-1zM248 259h1v1h-1zM252 259h1v1h-1zM256 259h1v1h-1zM261 259h1v1h-1zM265 259h1v1h-1zM270 259h1v1h-1zM274 259h1v1h-1zM278 259h1v1h-1zM283 259h1v1h-1zM287 259h1v1h-1zM292 259h1v1h-1zM296 259h1v1h-1zM301 259h1v1h-1zM305 259h1v1h-1zM309 259h1v1h-1zM314 259h1v1h-1zM318 259h1v1h-1zM323 259h1v1h-1zM327 259h1v1h-1zM331 259h1v1h-1zM336 259h1v1h-1zM49 230h1v1h-1zM53 230h1v1h-1zM57 230h1v1h-1zM62 230h1v1h-1zM66 230h1v1h-1zM71 230h1v1h-1zM75 230h1v1h-1zM80 230h1v1h-1zM84 230h1v1h-1zM88 230h1v1h-1zM93 230h1v1h-1zM97 230h1v1h-1zM102 230h1v1h-1zM106 230h1v1h-1zM110 230h1v1h-1zM115 230h1v1h-1zM119 230h1v1h-1zM124 230h1v1h-1zM128 230h1v1h-1zM133 230h1v1h-1zM137 230h1v1h-1zM141 230h1v1h-1zM146 230h1v1h-1zM150 230h1v1h-1zM155 230h1v1h-1zM159 230h1v1h-1zM164 230h1v1h-1zM168 230h1v1h-1zM172 230h1v1h-1zM177 230h1v1h-1zM181 230h1v1h-1zM186 230h1v1h-1zM190 230h1v1h-1zM194 230h1v1h-1zM199 230h1v1h-1zM203 230h1v1h-1zM208 230h1v1h-1zM212 230h1v1h-1zM217 230h1v1h-1zM221 230h1v1h-1zM225 230h1v1h-1zM230 230h1v1h-1zM234 230h1v1h-1zM239 230h1v1h-1zM243 230h1v1h-1zM248 230h1v1h-1zM252 230h1v1h-1zM256 230h1v1h-1zM261 230h1v1h-1zM265 230h1v1h-1zM270 230h1v1h-1zM274 230h1v1h-1zM278 230h1v1h-1zM283 230h1v1h-1zM287 230h1v1h-1zM292 230h1v1h-1zM296 230h1v1h-1zM301 230h1v1h-1zM305 230h1v1h-1zM309 230h1v1h-1zM314 230h1v1h-1zM318 230h1v1h-1zM323 230h1v1h-1zM327 230h1v1h-1zM331 230h1v1h-1zM336 230h1v1h-1zM49 200h1v1h-1zM53 200h1v1h-1zM57 200h1v1h-1zM62 200h1v1h-1zM66 200h1v1h-1zM71 200h1v1h-1zM75 200h1v1h-1zM80 200h1v1h-1zM84 200h1v1h-1zM88 200h1v1h-1zM93 200h1v1h-1zM97 200h1v1h-1zM102 200h1v1h-1zM106 200h1v1h-1zM110 200h1v1h-1zM115 200h1v1h-1zM119 200h1v1h-1zM124 200h1v1h-1zM128 200h1v1h-1zM133 200h1v1h-1zM137 200h1v1h-1zM141 200h1v1h-1zM146 200h1v1h-1zM150 200h1v1h-1zM155 200h1v1h-1zM159 200h1v1h-1zM164 200h1v1h-1zM168 200h1v1h-1zM172 200h1v1h-1zM177 200h1v1h-1zM181 200h1v1h-1zM186 200h1v1h-1zM190 200h1v1h-1zM194 200h1v1h-1zM199 200h1v1h-1zM203 200h1v1h-1zM208 200h1v1h-1zM212 200h1v1h-1zM217 200h1v1h-1zM221 200h1v1h-1zM225 200h1v1h-1zM230 200h1v1h-1zM234 200h1v1h-1zM239 200h1v1h-1zM243 200h1v1h-1zM248 200h1v1h-1zM252 200h1v1h-1zM256 200h1v1h-1zM261 200h1v1h-1zM265 200h1v1h-1zM270 200h1v1h-1zM274 200h1v1h-1zM278 200h1v1h-1zM283 200h1v1h-1zM287 200h1v1h-1zM292 200h1v1h-1zM296 200h1v1h-1zM301 200h1v1h-1zM305 200h1v1h-1zM309 200h1v1h-1zM314 200h1v1h-1zM318 200h1v1h-1zM323 200h1v1h-1zM327 200h1v1h-1zM331 200h1v1h-1zM336 200h1v1h-1zM49 171h1v1h-1zM53 171h1v1h-1zM57 171h1v1h-1zM62 171h1v1h-1zM66 171h1v1h-1zM71 171h1v1h-1zM75 171h1v1h-1zM80 171h1v1h-1zM84 171h1v1h-1zM88 171h1v1h-1zM93 171h1v1h-1zM97 171h1v1h-1zM102 171h1v1h-1zM106 171h1v1h-1zM110 171h1v1h-1zM115 171h1v1h-1zM119 171h1v1h-1zM124 171h1v1h-1zM128 171h1v1h-1zM133 171h1v1h-1zM137 171h1v1h-1zM141 171h1v1h-1zM146 171h1v1h-1zM150 171h1v1h-1zM155 171h1v1h-1zM159 171h1v1h-1zM164 171h1v1h-1zM168 171h1v1h-1zM172 171h1v1h-1zM177 171h1v1h-1zM181 171h1v1h-1zM186 171h1v1h-1zM190 171h1v1h-1zM194 171h1v1h-1zM199 171h1v1h-1zM203 171h1v1h-1zM208 171h1v1h-1zM212 171h1v1h-1zM217 171h1v1h-1zM221 171h1v1h-1zM225 171h1v1h-1zM230 171h1v1h-1zM234 171h1v1h-1zM239 171h1v1h-1zM243 171h1v1h-1zM248 171h1v1h-1zM252 171h1v1h-1zM256 171h1v1h-1zM261 171h1v1h-1zM265 171h1v1h-1zM270 171h1v1h-1zM274 171h1v1h-1zM278 171h1v1h-1zM283 171h1v1h-1zM287 171h1v1h-1zM292 171h1v1h-1zM296 171h1v1h-1zM301 171h1v1h-1zM305 171h1v1h-1zM309 171h1v1h-1zM314 171h1v1h-1zM318 171h1v1h-1zM323 171h1v1h-1zM327 171h1v1h-1zM331 171h1v1h-1zM336 171h1v1h-1zM49 141h1v1h-1zM53 141h1v1h-1zM57 141h1v1h-1zM62 141h1v1h-1zM66 141h1v1h-1zM71 141h1v1h-1zM75 141h1v1h-1zM80 141h1v1h-1zM84 141h1v1h-1zM88 141h1v1h-1zM93 141h1v1h-1zM97 141h1v1h-1zM102 141h1v1h-1zM106 141h1v1h-1zM110 141h1v1h-1zM115 141h1v1h-1zM119 141h1v1h-1zM124 141h1v1h-1zM128 141h1v1h-1zM133 141h1v1h-1zM137 141h1v1h-1zM141 141h1v1h-1zM146 141h1v1h-1zM150 141h1v1h-1zM155 141h1v1h-1zM159 141h1v1h-1zM164 141h1v1h-1zM168 141h1v1h-1zM172 141h1v1h-1zM177 141h1v1h-1zM181 141h1v1h-1zM186 141h1v1h-1zM190 141h1v1h-1zM194 141h1v1h-1zM199 141h1v1h-1zM203 141h1v1h-1zM208 141h1v1h-1zM212 141h1v1h-1zM217 141h1v1h-1zM221 141h1v1h-1zM225 141h1v1h-1zM230 141h1v1h-1zM234 141h1v1h-1zM239 141h1v1h-1zM243 141h1v1h-1zM248 141h1v1h-1zM252 141h1v1h-1zM256 141h1v1h-1zM261 141h1v1h-1zM265 141h1v1h-1zM270 141h1v1h-1zM274 141h1v1h-1zM278 141h1v1h-1zM283 141h1v1h-1zM287 141h1v1h-1zM292 141h1v1h-1zM296 141h1v1h-1zM301 141h1v1h-1zM305 141h1v1h-1zM309 141h1v1h-1zM314 141h1v1h-1zM318 141h1v1h-1zM323 141h1v1h-1zM327 141h1v1h-1zM331 141h1v1h-1zM336 141h1v1h-1zM49 112h1v1h-1zM53 112h1v1h-1zM57 112h1v1h-1zM62 112h1v1h-1zM66 112h1v1h-1zM71 112h1v1h-1zM75 112h1v1h-1zM80 112h1v1h-1zM84 112h1v1h-1zM88 112h1v1h-1zM93 112h1v1h-1zM97 112h1v1h-1zM102 112h1v1h-1zM106 112h1v1h-1zM110 112h1v1h-1zM115 112h1v1h-1zM119 112h1v1h-1zM124 112h1v1h-1zM128 112h1v1h-1zM133 112h1v1h-1zM137 112h1v1h-1zM141 112h1v1h-1zM146 112h1v1h-1zM150 112h1v1h-1zM155 112h1v1h-1zM159 112h1v1h-1zM164 112h1v1h-1zM168 112h1v1h-1zM172 112h1v1h-1zM177 112h1v1h-1zM181 112h1v1h-1zM186 112h1v1h-1zM190 112h1v1h-1zM194 112h1v1h-1zM199 112h1v1h-1zM203 112h1v1h-1zM208 112h1v1h-1zM212 112h1v1h-1zM217 112h1v1h-1zM221 112h1v1h-1zM225 112h1v1h-1zM230 112h1v1h-1zM234 112h1v1h-1zM239 112h1v1h-1zM243 112h1v1h-1zM248 112h1v1h-1zM252 112h1v1h-1zM256 112h1v1h-1zM261 112h1v1h-1zM265 112h1v1h-1zM270 112h1v1h-1zM274 112h1v1h-1zM278 112h1v1h-1zM283 112h1v1h-1zM287 112h1v1h-1zM292 112h1v1h-1zM296 112h1v1h-1zM301 112h1v1h-1zM305 112h1v1h-1zM309 112h1v1h-1zM314 112h1v1h-1zM318 112h1v1h-1zM323 112h1v1h-1zM327 112h1v1h-1zM331 112h1v1h-1zM336 112h1v1h-1z"/>
<path fill="#5a6470" d="M340 404h1v1h-1zM345 404h1v1h-1zM349 404h1v1h-1zM354 404h1v1h-1zM358 404h1v1h-1zM362 404h1v1h-1zM367 404h1v1h-1zM371 404h1v1h-1zM376 404h1v1h-1zM380 404h1v1h-1zM385 404h1v1h-1zM389 404h1v1h-1zM393 404h1v1h-1zM340 377h1v1h-1zM345 377h1v1h-1zM349 377h1v1h-1zM354 377h1v1h-1zM358 377h1v1h-1zM362 377h1v1h-1zM367 377h1v1h-1zM371 377h1v1h-1zM376 377h1v1h-1zM380 377h1v1h-1zM385 377h1v1h-1zM389 377h1v1h-1zM393 377h1v1h-1zM340 347h1v1h-1zM345 347h1v1h-1zM349 347h1v1h-1zM354 347h1v1h-1zM358 347h1v1h-1zM362 347h1v1h-1zM367 347h1v1h-1zM371 347h1v1h-1zM376 347h1v1h-1zM380 347h1v1h-1zM385 347h1v1h-1zM389 347h1v1h-1zM393 347h1v1h-1zM340 318h1v1h-1zM345 318h1v1h-1zM349 318h1v1h-1zM354 318h1v1h-1zM358 318h1v1h-1zM362 318h1v1h-1zM367 318h1v1h-1zM371 318h1v1h-1zM376 318h1v1h-1zM380 318h1v1h-1zM385 318h1v1h-1zM389 318h1v1h-1zM393 318h1v1h-1zM340 288h1v1h-1zM345 288h1v1h-1zM349 288h1v1h-1zM354 288h1v1h-1zM358 288h1v1h-1zM362 288h1v1h-1zM367 288h1v1h-1zM371 288h1v1h-1zM376 288h1v1h-1zM380 288h1v1h-1zM385 288h1v1h-1zM389 288h1v1h-1zM393 288h1v1h-1zM340 259h1v1h-1zM345 259h1v1h-1zM349 259h1v1h-1zM354 259h1v1h-1zM358 259h1v1h-1zM362 259h1v1h-1zM367 259h1v1h-1zM371 259h1v1h-1zM376 259h1v1h-1zM380 259h1v1h-1zM385 259h1v1h-1zM389 259h1v1h-1zM393 259h1v1h-1zM340 230h1v1h-1zM345 230h1v1h-1zM349 230h1v1h-1zM354 230h1v1h-1zM358 230h1v1h-1zM362 230h1v1h-1zM367 230h1v1h-1zM371 230h1v1h-1zM376 230h1v1h-1zM380 230h1v1h-1zM385 230h1v1h-1zM389 230h1v1h-1zM393 230h1v1h-1zM340 200h1v1h-1zM345 200h1v1h-1zM349 200h1v1h-1zM354 200h1v1h-1zM358 200h1v1h-1zM362 200h1v1h-1zM367 200h1v1h-1zM371 200h1v1h-1zM376 200h1v1h-1zM380 200h1v1h-1zM385 200h1v1h-1zM389 200h1v1h-1zM393 200h1v1h-1zM340 171h1v1h-1zM345 171h1v1h-1zM349 171h1v1h-1zM354 171h1v1h-1zM358 171h1v1h-1zM362 171h1v1h-1zM367 171h1v1h-1zM371 171h1v1h-1zM376 171h1v1h-1zM380 171h1v1h-1zM385 171h1v1h-1zM389 171h1v1h-1zM393 171h1v1h-1zM340 141h1v1h-1zM345 141h1v1h-1zM349 141h1v1h-1zM354 141h1v1h-1zM358 141h1v1h-1zM362 141h1v1h-1zM367 141h1v1h-1zM371 141h1v1h-1zM376 141h1v1h-1zM380 141h1v1h-1zM385 141h1v1h-1zM389 141h1v1h-1zM393 141h1v1h-1zM340 112h1v1h-1zM345 112h1v1h-1zM349 112h1v1h-1zM354 112h1v1h-1zM358 112h1v1h-1zM362 112h1v1h-1zM367 112h1v1h-1zM371 112h1v1h-1zM376 112h1v1h-1zM380 112h1v1h-1zM385 112h1v1h-1zM389 112h1v1h-1zM393 112h1v1h-1z"/>
<rect x="44.5" y="83.5" width="351.0" height="351.0" fill="none" stroke="#000" stroke-width="1.1"/>
<g stroke="#000" stroke-width="1">
<line x1="38" y1="434.5" x2="44.5" y2="434.5"/>
<line x1="38" y1="404.5" x2="44.5" y2="404.5"/>
<line x1="38" y1="377.5" x2="44.5" y2="377.5"/>
<line x1="38" y1="347.5" x2="44.5" y2="347.5"/>
<line x1="38" y1="318.5" x2="44.5" y2="318.5"/>
<line x1="38" y1="288.5" x2="44.5" y2="288.5"/>
<line x1="38" y1="259.5" x2="44.5" y2="259.5"/>
<line x1="38" y1="230.5" x2="44.5" y2="230.5"/>
<line x1="38" y1="200.5" x2="44.5" y2="200.5"/>
<line x1="38" y1="171.5" x2="44.5" y2="171.5"/>
<line x1="38" y1="141.5" x2="44.5" y2="141.5"/>
<line x1="38" y1="112.5" x2="44.5" y2="112.5"/>
<line x1="53.5" y1="434.5" x2="53.5" y2="440.0"/>
<line x1="71.5" y1="434.5" x2="71.5" y2="440.0"/>
<line x1="90.5" y1="434.5" x2="90.5" y2="440.0"/>
<line x1="108.5" y1="434.5" x2="108.5" y2="440.0"/>
<line x1="127.5" y1="434.5" x2="127.5" y2="440.0"/>
<line x1="145.5" y1="434.5" x2="145.5" y2="440.0"/>
<line x1="164.5" y1="434.5" x2="164.5" y2="440.0"/>
<line x1="182.5" y1="434.5" x2="182.5" y2="440.0"/>
<line x1="201.5" y1="434.5" x2="201.5" y2="440.0"/>
<line x1="219.5" y1="434.5" x2="219.5" y2="440.0"/>
<line x1="238.5" y1="434.5" x2="238.5" y2="440.0"/>
<line x1="256.5" y1="434.5" x2="256.5" y2="440.0"/>
<line x1="274.5" y1="434.5" x2="274.5" y2="440.0"/>
<line x1="293.5" y1="434.5" x2="293.5" y2="440.0"/>
<line x1="311.5" y1="434.5" x2="311.5" y2="440.0"/>
<line x1="330.5" y1="434.5" x2="330.5" y2="440.0"/>
<line x1="348.5" y1="434.5" x2="348.5" y2="440.0"/>
<line x1="367.5" y1="434.5" x2="367.5" y2="440.0"/>
<line x1="385.5" y1="434.5" x2="385.5" y2="440.0"/>
</g>
<g font-size="11.2" fill="#111" stroke="#111" stroke-width="0.1" text-anchor="end">
<text x="32" y="438.45" textLength="18.400000000000002" lengthAdjust="spacingAndGlyphs">Oct</text>
<text x="32" y="408.45" textLength="21.400000000000002" lengthAdjust="spacingAndGlyphs">Nov</text>
<text x="32" y="381.75" textLength="21.400000000000002" lengthAdjust="spacingAndGlyphs">Dec</text>
<text x="32" y="351.75" textLength="17.6" lengthAdjust="spacingAndGlyphs">Jan</text>
<text x="32" y="322.75" textLength="19.2" lengthAdjust="spacingAndGlyphs">Feb</text>
<text x="32" y="292.75" textLength="20.400000000000002" lengthAdjust="spacingAndGlyphs">Mar</text>
<text x="32" y="263.45" textLength="18.8" lengthAdjust="spacingAndGlyphs">Apr</text>
<text x="32" y="234.65" textLength="22.400000000000002" lengthAdjust="spacingAndGlyphs">May</text>
<text x="32" y="204.65" textLength="18.0" lengthAdjust="spacingAndGlyphs">Jun</text>
<text x="32" y="175.45" textLength="13.4" lengthAdjust="spacingAndGlyphs">Jul</text>
<text x="32" y="145.75" textLength="21.3" lengthAdjust="spacingAndGlyphs">Aug</text>
<text x="32" y="116.65" textLength="20.6" lengthAdjust="spacingAndGlyphs">Sep</text>
</g>
<g font-size="11.2" fill="#111" stroke="#111" stroke-width="0.1" text-anchor="end">
<text transform="translate(57.90,448) rotate(-90)" textLength="26.3" lengthAdjust="spacingAndGlyphs">2007</text>
<text transform="translate(76.35,448) rotate(-90)" textLength="26.3" lengthAdjust="spacingAndGlyphs">2008</text>
<text transform="translate(94.80,448) rotate(-90)" textLength="26.3" lengthAdjust="spacingAndGlyphs">2009</text>
<text transform="translate(113.25,448) rotate(-90)" textLength="26.3" lengthAdjust="spacingAndGlyphs">2010</text>
<text transform="translate(131.70,448) rotate(-90)" textLength="26.3" lengthAdjust="spacingAndGlyphs">2011</text>
<text transform="translate(150.15,448) rotate(-90)" textLength="26.3" lengthAdjust="spacingAndGlyphs">2012</text>
<text transform="translate(168.60,448) rotate(-90)" textLength="26.3" lengthAdjust="spacingAndGlyphs">2013</text>
<text transform="translate(187.05,448) rotate(-90)" textLength="26.3" lengthAdjust="spacingAndGlyphs">2014</text>
<text transform="translate(205.50,448) rotate(-90)" textLength="26.3" lengthAdjust="spacingAndGlyphs">2015</text>
<text transform="translate(223.95,448) rotate(-90)" textLength="26.3" lengthAdjust="spacingAndGlyphs">2016</text>
<text transform="translate(242.40,448) rotate(-90)" textLength="26.3" lengthAdjust="spacingAndGlyphs">2017</text>
<text transform="translate(260.85,448) rotate(-90)" textLength="26.3" lengthAdjust="spacingAndGlyphs">2018</text>
<text transform="translate(279.30,448) rotate(-90)" textLength="26.3" lengthAdjust="spacingAndGlyphs">2019</text>
<text transform="translate(297.75,448) rotate(-90)" textLength="26.3" lengthAdjust="spacingAndGlyphs">2020</text>
<text transform="translate(316.20,448) rotate(-90)" textLength="26.3" lengthAdjust="spacingAndGlyphs">2021</text>
<text transform="translate(334.65,448) rotate(-90)" textLength="26.3" lengthAdjust="spacingAndGlyphs">2022</text>
<text transform="translate(353.10,448) rotate(-90)" textLength="26.3" lengthAdjust="spacingAndGlyphs">2023</text>
<text transform="translate(371.55,448) rotate(-90)" textLength="26.3" lengthAdjust="spacingAndGlyphs">2024</text>
<text transform="translate(390.00,448) rotate(-90)" textLength="26.3" lengthAdjust="spacingAndGlyphs">2025</text>
</g>
<defs><linearGradient id="cb" x1="0" y1="1" x2="0" y2="0">
<stop offset="0.0000" stop-color="#c85000"/>
<stop offset="0.0621" stop-color="#e07a20"/>
<stop offset="0.1406" stop-color="#f8ae40"/>
<stop offset="0.2190" stop-color="#fdc55a"/>
<stop offset="0.2974" stop-color="#fdd78a"/>
<stop offset="0.3445" stop-color="#f6d898"/>
<stop offset="0.3759" stop-color="#e6d3aa"/>
<stop offset="0.4229" stop-color="#d6cebe"/>
<stop offset="0.4543" stop-color="#cccac6"/>
<stop offset="0.5327" stop-color="#b8c4e0"/>
<stop offset="0.6111" stop-color="#88b2d8"/>
<stop offset="0.6896" stop-color="#5f9ecb"/>
<stop offset="0.7680" stop-color="#4090c4"/>
<stop offset="0.8464" stop-color="#2b80b8"/>
<stop offset="0.9248" stop-color="#1448a0"/>
<stop offset="1.0000" stop-color="#000080"/>
</linearGradient></defs>
<rect x="403.5" y="83.5" width="18.0" height="351.0" fill="url(#cb)" stroke="#000" stroke-width="1.1"/>
<g stroke="#000" stroke-width="1">
<line x1="421.5" y1="83.5" x2="426.5" y2="83.5"/>
<line x1="421.5" y1="137.5" x2="426.5" y2="137.5"/>
<line x1="421.5" y1="192.5" x2="426.5" y2="192.5"/>
<line x1="421.5" y1="247.5" x2="426.5" y2="247.5"/>
<line x1="421.5" y1="302.5" x2="426.5" y2="302.5"/>
<line x1="421.5" y1="357.5" x2="426.5" y2="357.5"/>
<line x1="421.5" y1="412.5" x2="426.5" y2="412.5"/>
<line x1="421.5" y1="434.5" x2="426.5" y2="434.5"/>
</g>
<g font-size="11.2" fill="#111" stroke="#111" stroke-width="0.1">
<text x="437.5" y="87.34" textLength="49.4" lengthAdjust="spacingAndGlyphs">&gt; 39.792</text>
<text x="437.5" y="141.20" textLength="13.2" lengthAdjust="spacingAndGlyphs">30</text>
<text x="437.5" y="196.20" textLength="13.2" lengthAdjust="spacingAndGlyphs">20</text>
<text x="437.5" y="251.20" textLength="13.2" lengthAdjust="spacingAndGlyphs">10</text>
<text x="437.5" y="306.20" textLength="6.8" lengthAdjust="spacingAndGlyphs">0</text>
<text x="434" y="361.20" textLength="17.8" lengthAdjust="spacingAndGlyphs">-10</text>
<text x="434" y="416.20" textLength="17.8" lengthAdjust="spacingAndGlyphs">-20</text>
<text x="437.8" y="437.99" textLength="53" lengthAdjust="spacingAndGlyphs">&lt; -23.962</text>
</g>
<g font-size="11.4" fill="#44525a" stroke="#44525a" stroke-width="0.1">
<text x="5.2" y="488.7" textLength="208.8" lengthAdjust="spacingAndGlyphs">www.cbr.washington.edu/sacramento/</text>
<text x="350.3" y="488.7" textLength="144.3" lengthAdjust="spacingAndGlyphs">23 Nov 2025 15:48:30 PST</text>
</g>
</svg></body></html>
